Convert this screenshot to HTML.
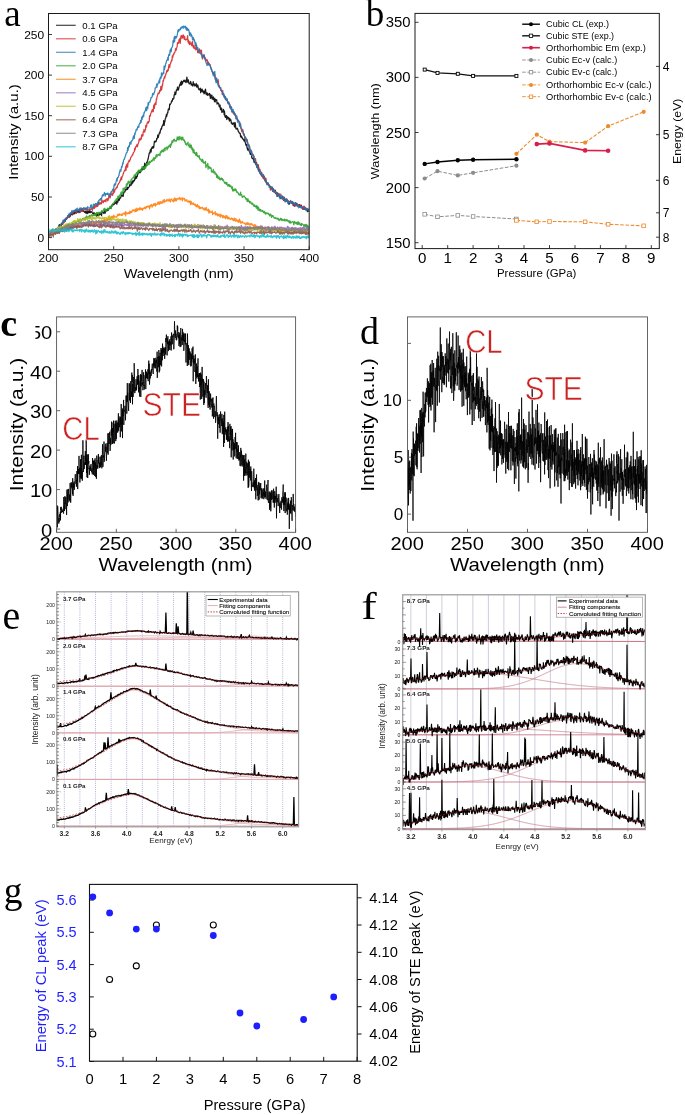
<!DOCTYPE html>
<html><head><meta charset="utf-8"><style>
html,body{margin:0;padding:0;background:#fff;}
svg{display:block;}


</style></head><body>
<svg width="685" height="1115" viewBox="0 0 685 1115" font-family='"Liberation Sans", sans-serif'>
<rect x="0" y="0" width="685" height="1115" fill="#fff"/>
<g opacity="0.999">
<g id="pa">
<defs><clipPath id="ca"><rect x="48.5" y="13.5" width="260.7" height="236.2"/></clipPath></defs>
<g clip-path="url(#ca)" stroke-linejoin="round">
<path transform="scale(.1)" fill="none" stroke="#000000" stroke-width="12.5" stroke-opacity="0.9" d="M485 2338l4-23 3 17 4-6 4-3 4 5 3 4 4-18 4 1 4 18 3-37 4 10 4 14 3-15 4 10 4-5 4-8 3 16 4-17 4-9 4-2 3 12 4-13 4 18 4-16 3-9 4 11 4-15 3-20 4-12 4 12 4-5 3 11 4-2 4-2 4-22 3-6 4 8 4 1 3-17 4-5 4 0 4-16 3 7 4-4 4 6 4-15 3-15 4 7 4-3 3-8 4-2 4-6 4-4 3-5 4 9 4-14 4 14 3-21 4 10 4-14 4-8 3 5 4-8 4 14 3-9 4-16 4 15 4-17 3 17 4-6 4 1 4-11 3-6 4 13 4-9 3-18 4 17 4 3 4-12 3 5 4 3 4 9 4-24 3 12 4-5 4 10 3-22 4 6 4-2 4 10 3-4 4-4 4 0 4 7 3 4 4 3 4 4 4 3 3-12 4 6 4 17 3-16 4-11 4 13 4 15 3-15 4-8 4 6 4 7 3-21 4 1 4 19 3-8 4 5 4-2 4-5 3 7 4 7 4 8 4 3 3-6 4-10 4 9 3 4 4-1 4 3 4-3 3 16 4 9 4-14 4 7 3-24 4 15 4 1 3 10 4-17 4 7 4-18 3 1 4 13 4-13 4 27 3-20 4-20 4 3 4 3 3 0 4 11 4-3 3-17 4-16 4 34 4-28 3-3 4-5 4 14 4-5 3-8 4 7 4 0 3-6 4-10 4-7 4 1 3-4 4 4 4-3 4-20 3 8 4-3 4-13 3-5 4-4 4 5 4 1 3-6 4-2 4-14 4 7 3-7 4 4 4-17 4 29 3-27 4-7 4 14 3-37 4 18 4-5 4 4 3-24 4 1 4 3 4-13 3-10 4-10 4 4 3 7 4-9 4 12 4-21 3-19 4-3 4 1 4-3 3-24 4 8 4-11 3 0 4 6 4-27 4 23 3-5 4-12 4-1 4-7 3-4 4-20 4 5 4-8 3 15 4-12 4-24 3 19 4-29 4 18 4-18 3 7 4-15 4 7 4-12 3-25 4 17 4-31 3 22 4 2 4-18 4 0 3-29 4 5 4-9 4 1 3-25 4 13 4-3 3 10 4-5 4-17 4-14 3-6 4 17 4-21 4-1 3 9 4-22 4 26 4-33 3-28 4 34 4-16 3 16 4-19 4-24 4 11 3-22 4-9 4-13 4-20 3-16 4-21 4-7 3 6 4-31 4-6 4 25 3-33 4-8 4-9 4-2 3 15 4-19 4 13 3-30 4-34 4 8 4-10 3 8 4-2 4-7 4-23 3 3 4-10 4-30 4 26 3-12 4-18 4-13 3-8 4 7 4-29 4-4 3-15 4 8 4-25 4-9 3 2 4-15 4-5 3-34 4 48 4-31 4-7 3-27 4-6 4-13 4-25 3 20 4-21 4-18 3 2 4-31 4-9 4 3 3 5 4-55 4 6 4-8 3-4 4-7 4-19 4 3 3 0 4-26 4 1 3 3 4-6 4-37 4 0 3-27 4 27 4-4 4-24 3-21 4 4 4-5 3-27 4 30 4 0 4-13 3-13 4-16 4-15 4 4 3-21 4 29 4-44 3 35 4-32 4 26 4-22 3 1 4-10 4-7 4 11 3-5 4-7 4 21 3-9 4 13 4-23 4-31 3 23 4 25 4 0 4-22 3 23 4 18 4-6 4 3 3 1 4-22 4 11 3 25 4-11 4 11 4 3 3 7 4-44 4 32 4-10 3-1 4 20 4-10 3 2 4 8 4-25 4 29 3 10 4-9 4-14 4 14 3 24 4 8 4 3 3-1 4-12 4-4 4 46 3-29 4 17 4-23 4-1 3 26 4-2 4 9 4-16 3 30 4-4 4-4 3-25 4-14 4 36 4 20 3-16 4 15 4-16 4 24 3-8 4-2 4-5 3 11 4-16 4 19 4 30 3-34 4 20 4 9 4-26 3 38 4-11 4 14 3-24 4 27 4-5 4 26 3-35 4 38 4-23 4 1 3 2 4-3 4 45 4-17 3 9 4 1 4-3 3 19 4 18 4-3 4-16 3 43 4-11 4 20 4-21 3 43 4-12 4 3 3 3 4-24 4 16 4 38 3-36 4 48 4 13 4 0 3-18 4 0 4 40 3-30 4 14 4-8 4 18 3-12 4 9 4 26 4-29 3 20 4-2 4-2 4 33 3-7 4 14 4 5 3-11 4 4 4-8 4 4 3 22 4 15 4-46 4 18 3 34 4 15 4-1 3-3 4-5 4 8 4 12 3 14 4 0 4 12 4 1 3 7 4-2 4 35 3-13 4 5 4 16 4-6 3 17 4 1 4 2 4 6 3 11 4-13 4 18 4 6 3 9 4 18 4 10 3-13 4 22 4 24 4 12 3-20 4 18 4 0 4 13 3 6 4 5 4 20 3-7 4-4 4 11 4 35 3 3 4 7 4-5 4-5 3 13 4 31 4-13 3-1 4 22 4-19 4 36 3-13 4-6 4 47 4-3 3-2 4-22 4 61 4-18 3 9 4 14 4 11 3 3 4 3 4 17 4-25 3 35 4-1 4 8 4 3 3 1 4 15 4 0 3-14 4 13 4 20 4-7 3 23 4-4 4 23 4 3 3 3 4-16 4 15 3 2 4 9 4 3 4 4 3 0 4 10 4 15 4 3 3-17 4 2 4 13 3 25 4-28 4 16 4 8 3 3 4 8 4-18 4 5 3 31 4-5 4-1 4-6 3 40 4-29 4-4 3 23 4 0 4-10 4 11 3 20 4 1 4 1 4 6 3-12 4 7 4-3 3-4 4-8 4 17 4 22 3-29 4 17 4-10 4 18 3-5 4 6 4 1 3-10 4 21 4-6 4 2 3 7 4 20 4-23 4 32 3-11 4-8 4-7 4-3 3 2 4 4 4 10 3-13 4 15 4-11 4 33 3-11 4-2 4-4 4 24 3-29 4 0 4 4 3 13 4-17 4 21 4-12 3 10 4 1 4 3 4 1 3-9 4-1 4 1 3 7 4 4 4 4 4-10 3 22 4 4 4-5 4 18 3-11 4 0 4 11 4-3 3-10 4 11 4-1 3-7 4 17 4 7 4-9 3-2 4 22 4-21 4 10 3 3 4 5"/>
<path transform="scale(.1)" fill="none" stroke="#d62728" stroke-width="12.5" stroke-opacity="0.9" d="M485 2328l4-11 3 3 4-3 4 9 4-18 3 2 4 9 4 21 4-24 3-23 4 22 4 7 3-24 4 18 4-10 4-4 3 18 4-15 4-11 4 10 3-10 4 2 4-12 4-10 3 21 4-11 4-10 3 4 4-2 4-9 4-5 3 0 4-13 4-9 4-3 3-4 4-9 4 18 3-15 4-7 4-7 4 14 3-35 4 21 4-15 4-8 3-8 4 12 4-6 3-12 4-6 4-8 4 5 3 1 4 2 4-32 4 24 3-23 4 0 4-9 4-5 3-7 4 10 4-7 3 20 4-20 4 7 4-8 3-14 4 9 4-10 4 10 3-6 4 6 4 18 3-18 4-5 4-5 4 0 3 1 4-11 4 2 4 8 3-12 4 26 4-16 3-2 4-13 4 17 4 8 3-15 4-14 4 18 4-1 3 1 4-3 4-11 4-6 3 13 4 6 4-18 3 16 4 0 4 4 4 0 3-6 4 5 4-7 4 3 3-5 4 8 4-3 3-5 4 0 4-3 4-12 3 19 4 6 4-27 4 6 3-17 4 11 4 8 3-34 4 14 4 6 4 0 3-15 4 9 4-12 4-10 3 22 4-12 4-10 3-14 4 4 4 11 4-20 3 15 4-5 4-7 4 12 3-42 4 15 4 8 4 5 3 3 4-17 4-5 3 8 4-4 4-10 4 4 3 15 4-26 4 1 4-7 3 12 4 11 4-11 3-19 4-20 4-7 4 16 3 13 4-16 4-12 4-5 3-2 4-17 4 17 3 8 4-18 4-2 4-39 3 20 4 7 4-25 4-9 3 4 4-6 4-14 4-1 3 7 4-20 4-10 3-2 4-13 4-5 4 0 3-9 4-17 4 4 4-26 3-9 4 26 4-30 3-1 4-9 4-17 4-5 3-17 4-5 4-9 4 4 3-13 4-28 4 35 3-54 4 17 4-27 4 34 3-32 4-21 4 0 4-17 3 14 4-11 4-7 4-20 3-7 4-1 4-6 3-7 4-12 4 4 4-18 3-6 4-3 4-7 4-31 3 17 4-19 4-19 3 0 4 2 4-19 4 21 3-9 4-17 4-9 4-9 3-30 4-5 4 13 3-10 4 7 4-22 4 13 3-41 4 16 4-20 4 15 3-41 4 2 4-25 4 14 3 12 4-20 4-3 3-45 4 18 4-8 4-27 3-5 4-13 4 3 4 9 3-17 4 1 4-55 3-5 4 7 4-23 4-10 3-9 4-9 4-14 4 1 3 21 4-3 4-63 3-1 4 32 4-46 4 5 3-15 4 19 4-56 4 2 3-22 4-14 4-12 4-15 3 9 4-9 4 2 3-26 4 1 4 4 4-44 3-2 4 38 4-21 4-34 3 7 4-47 4 5 3-15 4-15 4-16 4 14 3-23 4-4 4-18 4-6 3-23 4 4 4 5 3-18 4 9 4-32 4-27 3 22 4 6 4-33 4-4 3-17 4-1 4-20 4 8 3-50 4 18 4-21 3-14 4 4 4-19 4 1 3-7 4-14 4-21 4 18 3-15 4-12 4-13 3-36 4 10 4-3 4-15 3-22 4 23 4-35 4 49 3-29 4-44 4-6 3 19 4 7 4-22 4 20 3-31 4 7 4 9 4 29 3-26 4 23 4 4 3 6 4-1 4-7 4-2 3 4 4-37 4 63 4-20 3 32 4-4 4 19 4-34 3 18 4 5 4 8 3-14 4 26 4-11 4-31 3 46 4 10 4 10 4-26 3 15 4 16 4 4 3-10 4 19 4-46 4 40 3 3 4 1 4 31 4-3 3-14 4-2 4 23 3-42 4 24 4-9 4 7 3 26 4-36 4 41 4 36 3 12 4-31 4-8 4 18 3-21 4 37 4-9 3 3 4 32 4-15 4 4 3-6 4 4 4 8 4 32 3-17 4 0 4 22 3-5 4 6 4 1 4 24 3 2 4 12 4 10 4 18 3 4 4 20 4-6 3-5 4 10 4 6 4 21 3-14 4 35 4-9 4 13 3 25 4 8 4-13 4 18 3 5 4-32 4 44 3 14 4-1 4 26 4 2 3-2 4 25 4-4 4 9 3 2 4 33 4-42 3 32 4-2 4 29 4 10 3-11 4 11 4-6 4 28 3 8 4-12 4 2 3 4 4 20 4 2 4 21 3-21 4 9 4 7 4 43 3-26 4 28 4-10 4 8 3-4 4 25 4 9 3 16 4 9 4-17 4 26 3-14 4 21 4 9 4-13 3 8 4 31 4-4 3 4 4-2 4 25 4 3 3 3 4-3 4 6 4 26 3-21 4 25 4 24 3 18 4-4 4 33 4-23 3 4 4 0 4 19 4 36 3-8 4-3 4 44 4-8 3-8 4 16 4 33 3-9 4 3 4-15 4 39 3 14 4-5 4 8 4 7 3-2 4 27 4 24 3-8 4 10 4-2 4 10 3 27 4-8 4 6 4 22 3-4 4 18 4 9 3 12 4-1 4-14 4 38 3 24 4-1 4 12 4-1 3 14 4-21 4 28 4-5 3 35 4 2 4-18 3 46 4-13 4 24 4-27 3 38 4-6 4 4 4 22 3-38 4 34 4-13 3 30 4 14 4-11 4 6 3-22 4 47 4 11 4-3 3-5 4 3 4 19 3 1 4-4 4-1 4 21 3-3 4 34 4-15 4-10 3 8 4 6 4-14 3 22 4 12 4-9 4 4 3 17 4-18 4-3 4 27 3 6 4-4 4-9 4 22 3 5 4 2 4-5 3 4 4 7 4-11 4-7 3 30 4-14 4 10 4-24 3 40 4-3 4-2 3 17 4-10 4-6 4 23 3-13 4-14 4 25 4 5 3 18 4-21 4 17 3-19 4-8 4 13 4 15 3-12 4 13 4 8 4-4 3-6 4 7 4-6 4-14 3 16 4 0 4 15 3-18 4 11 4-5 4 19 3-8 4 26 4-18 4 6 3 3 4-24 4 32 3-11 4 1 4-5 4-3 3 26 4-8 4 3 4-11 3-1 4 15 4 3 3 6 4-11 4-11 4 14 3 12 4 3 4 1 4 11 3-30 4 17 4 6 4-22 3 21 4-10 4 13 3-6 4 11 4 6 4-5 3-1 4-2 4 10 4 6 3 2 4-5"/>
<path transform="scale(.1)" fill="none" stroke="#1f77b4" stroke-width="12.5" stroke-opacity="0.9" d="M485 2330l4-2 3-8 4-2 4 0 4 10 3 4 4-15 4 0 4 3 3-6 4-7 4 8 3-6 4 10 4-8 4 4 3 4 4-17 4 26 4-26 3-10 4 1 4 13 4-19 3 14 4-12 4-24 3 6 4-12 4 15 4 4 3-16 4-21 4-2 4-5 3 6 4-5 4-3 3-31 4 20 4-19 4 12 3-18 4 17 4-9 4-13 3 4 4-6 4-7 3-1 4-24 4-1 4 19 3-33 4 11 4-5 4-3 3-14 4-3 4 7 4-9 3 9 4-32 4 22 3-2 4-3 4-10 4-7 3 9 4-5 4 2 4-16 3 9 4 17 4-31 3 9 4-15 4 22 4-2 3-4 4 10 4-11 4-16 3 4 4 28 4-35 3 8 4-5 4 7 4-2 3 1 4-1 4 10 4-20 3 7 4-2 4-1 4 6 3-3 4 11 4-15 3-1 4 4 4 14 4-29 3 13 4-2 4 2 4 2 3-3 4 5 4-6 3-26 4 6 4-9 4 22 3 10 4-8 4 10 4-37 3-4 4 8 4-4 3-3 4 3 4-11 4 14 3-8 4-5 4 12 4-9 3-18 4-2 4 22 3-37 4 1 4-9 4 3 3-12 4 13 4-16 4 4 3-10 4-22 4-8 4 11 3 0 4-15 4-1 3-18 4 9 4 27 4-25 3 3 4 5 4-8 4 2 3 7 4-15 4 14 3 2 4 4 4-10 4 22 3-26 4 10 4-23 4-7 3 2 4 1 4-15 3-9 4 10 4-20 4-5 3-29 4-12 4 17 4-11 3 0 4-25 4-14 4-20 3 23 4-32 4 1 3-4 4-15 4-6 4-24 3-6 4-24 4 7 4 4 3-21 4-25 4 9 3-19 4-26 4 10 4-35 3-6 4 0 4-17 4-6 3-12 4-11 4-14 3-8 4-2 4-6 4-44 3 28 4-19 4-24 4-6 3 12 4-41 4-5 4 16 3 3 4-30 4 1 3-7 4-2 4-10 4-18 3-17 4 28 4-4 4-49 3 14 4-27 4-2 3-22 4-4 4 7 4-10 3-14 4-14 4 9 4 3 3-28 4-7 4-7 3 3 4-29 4 22 4-24 3-31 4 22 4-27 4-9 3-8 4 19 4-43 4 3 3-13 4-6 4-5 3-23 4-11 4 35 4-22 3-17 4 19 4-57 4 22 3-26 4-3 4-3 3 3 4-17 4-14 4-17 3 5 4-5 4-10 4-29 3 6 4 5 4 0 3-20 4-1 4-14 4-33 3 1 4-2 4-10 4-27 3 32 4-30 4 1 4-14 3-7 4-3 4-21 3 31 4-44 4-14 4 16 3-8 4-51 4 33 4-16 3-3 4-11 4-8 3 13 4-76 4 37 4-27 3-3 4-32 4-1 4-17 3-12 4-6 4 1 3-25 4 27 4-49 4-9 3-5 4 14 4-52 4 20 3-32 4 28 4-37 4-4 3-9 4-12 4-49 3 19 4-16 4-38 4 47 3-56 4 21 4-6 4-12 3 14 4-13 4-14 3-17 4-27 4-12 4 19 3-17 4-5 4 6 4-12 3 10 4-23 4 8 3-8 4-7 4-2 4 11 3 8 4-22 4 7 4 1 3-5 4 13 4-16 3 5 4 26 4-16 4 27 3-23 4 7 4 15 4-10 3 3 4 15 4 43 4-26 3 5 4-4 4 36 3-21 4 13 4 6 4 34 3 1 4-25 4 12 4 22 3-12 4 21 4 18 3 25 4-34 4 26 4 1 3 39 4-12 4-6 4 15 3 15 4 12 4-14 3 16 4 6 4 5 4 11 3 0 4 10 4-4 4 26 3 1 4-12 4 8 4 1 3-23 4 24 4-1 3 16 4 14 4 15 4 21 3-1 4 19 4-13 4 12 3-4 4-9 4 12 3-13 4 6 4 5 4 10 3 16 4 19 4-6 4 19 3 7 4-1 4 30 3 16 4-20 4-13 4 18 3-30 4 83 4-3 4 32 3-12 4-32 4 13 4 45 3-2 4 16 4 15 3-8 4 9 4 2 4 5 3 1 4-3 4 27 4 9 3 4 4 1 4 14 3 19 4 0 4-10 4 30 3-18 4 37 4-21 4 7 3 18 4 4 4 10 3-19 4 35 4 11 4-8 3-3 4 17 4 13 4-9 3 30 4 7 4 13 4-25 3 51 4-5 4-14 3 5 4-11 4 24 4 19 3-18 4 11 4 6 4 7 3 14 4 32 4 2 3-32 4 31 4 31 4-17 3-4 4 14 4 12 4 38 3-22 4 11 4-14 3 30 4 9 4 14 4 5 3 4 4 19 4 13 4 14 3-8 4 15 4 9 4 23 3 1 4 22 4-25 3 6 4 18 4 15 4 3 3 31 4 8 4-21 4 35 3-2 4 16 4 29 3-12 4-8 4 4 4 52 3-2 4-2 4-9 4 6 3 5 4 8 4 32 3 16 4-13 4 22 4 6 3 13 4 9 4-5 4 30 3 16 4-3 4-1 4 12 3 6 4 27 4-6 3-14 4 19 4 12 4-13 3 23 4-8 4 12 4 4 3-1 4-6 4 16 3 28 4 8 4-2 4 5 3-3 4 12 4 5 4 25 3-11 4-1 4-6 3 14 4 12 4 18 4-8 3 4 4 6 4 1 4 0 3 5 4-15 4 36 3 10 4-16 4 20 4-6 3 2 4 11 4-12 4 6 3 8 4 0 4 1 4 15 3-5 4 8 4 5 3 8 4-19 4 17 4 19 3-16 4 32 4-25 4-2 3-4 4 14 4 11 3-24 4 11 4 0 4 17 3-6 4 25 4-19 4 27 3-8 4 6 4-22 3 4 4 17 4-16 4 13 3 22 4-13 4 14 4-15 3-1 4 12 4-13 4-1 3 20 4-12 4 7 3 4 4-18 4 25 4-2 3-2 4-4 4-1 4 18 3-20 4-3 4 0 3 18 4 8 4 7 4-12 3 6 4 1 4 7 4 17 3-17 4 1 4 4 3 11 4-9 4 1 4 11 3-15 4 9 4 0 4-1 3 8 4 0 4-3 4-1 3 1 4 12 4-7 3-2 4 26 4-8 4-2 3 2 4-15 4 7 4 14 3 1 4 13"/>
<path transform="scale(.1)" fill="none" stroke="#2ca02c" stroke-width="12.5" stroke-opacity="0.9" d="M485 2350l4-20 3 24 4-20 4 9 4-4 3-4 4-17 4 11 4-3 3-6 4 25 4-35 3 28 4-10 4-13 4 14 3 3 4-26 4 11 4-12 3 2 4 4 4-18 4 15 3-21 4 23 4-1 3-4 4-10 4 10 4-5 3-20 4 9 4-10 4 4 3 7 4 0 4-10 3-1 4 3 4-1 4-19 3 2 4 4 4 4 4-1 3-23 4 21 4-27 3 24 4 5 4-31 4 16 3-16 4 8 4 4 4-12 3 9 4-8 4 3 4 12 3-20 4 6 4-5 3-6 4 14 4-19 4-2 3-13 4 7 4 3 4 7 3-7 4 10 4-18 3 4 4 0 4-5 4-5 3 0 4 11 4-23 4 9 3-4 4 2 4 7 3-12 4 4 4 3 4-10 3-7 4-1 4 3 4 5 3-4 4-3 4 10 4-21 3 5 4 10 4-26 3-5 4 27 4-11 4 4 3-16 4 18 4-18 4-1 3-8 4 26 4-12 3-6 4-12 4 6 4-8 3 2 4 10 4-8 4 1 3-3 4 4 4-16 3 2 4 18 4-25 4 10 3 7 4-26 4 10 4-5 3 3 4-2 4 14 3-24 4 12 4-9 4 0 3 6 4 2 4-12 4-14 3 16 4-2 4-8 4 5 3-19 4 6 4-20 3 20 4-20 4 24 4-9 3 11 4-8 4-2 4-10 3-9 4 13 4 9 3-16 4-1 4 0 4-16 3-6 4 13 4-4 4 14 3-23 4-18 4 12 3-21 4-2 4-4 4-4 3 2 4-14 4-5 4 3 3-1 4-17 4-6 4 16 3-19 4 3 4-27 3 20 4-2 4-3 4-23 3 14 4-22 4 6 4-24 3-8 4-1 4 25 3-11 4 7 4-58 4 26 3-7 4-10 4-11 4 4 3-9 4-5 4 8 3-37 4-4 4 13 4-3 3-25 4-11 4 20 4-10 3 6 4-12 4 25 4-8 3-32 4 2 4-11 3-1 4-10 4-1 4 0 3-10 4 7 4-27 4 21 3-10 4-17 4 9 3-17 4-9 4 4 4 9 3-28 4 12 4 12 4-35 3 16 4-8 4-7 3 12 4-18 4 20 4-7 3-9 4-32 4 14 4-9 3 14 4-14 4 25 4-23 3-11 4 8 4 12 3-7 4-29 4-11 4 16 3-25 4 28 4-24 4 0 3-12 4 25 4-31 3 7 4 7 4-8 4-6 3-9 4 10 4-3 4-14 3-2 4-9 4-8 3 28 4-23 4-7 4-1 3 10 4-24 4-14 4 18 3 4 4-21 4 6 4-5 3-4 4 5 4-9 3 5 4 11 4-38 4 6 3 0 4-20 4 14 4-18 3 0 4 10 4 7 3-23 4-1 4-12 4 27 3-20 4-8 4-4 4-1 3-5 4 28 4-27 3 1 4 7 4-22 4 3 3 6 4-1 4-23 4 31 3-32 4 9 4-18 4-25 3 8 4 10 4-22 3-7 4 8 4-13 4 18 3-8 4 7 4 1 4-7 3 8 4-11 4-30 3 16 4 9 4-25 4 1 3 29 4-6 4-31 4 19 3-2 4 10 4 8 3-26 4 27 4-14 4-13 3 20 4 12 4-6 4 4 3 16 4-5 4 21 3 10 4-11 4 18 4-10 3-2 4 0 4-17 4 37 3-2 4 4 4 10 4-32 3 37 4-2 4 4 3-27 4 37 4 10 4-19 3 27 4 21 4-33 4 7 3 32 4 2 4-9 3 15 4 11 4 1 4-30 3 12 4 30 4-6 4 1 3 10 4 1 4-16 3 31 4 6 4-4 4 11 3 1 4 4 4 10 4-22 3 26 4-19 4 28 4 5 3-10 4 10 4-9 3 5 4-15 4 64 4-18 3-8 4 6 4 2 4-26 3 58 4-29 4 14 3 1 4-9 4 17 4-6 3-2 4 5 4 38 4-10 3 11 4-2 4-3 3-22 4 34 4 0 4 2 3-14 4 26 4-7 4-1 3 7 4 32 4-4 4-18 3 30 4-13 4 18 3-17 4 8 4 20 4-11 3 12 4-3 4-16 4 14 3 2 4-10 4 18 3-10 4 13 4 5 4 9 3 8 4 5 4 2 4-12 3 4 4 16 4-19 3 23 4 0 4 14 4-3 3-15 4 8 4 14 4-17 3 17 4 1 4-7 4 9 3 12 4 10 4-21 3 40 4-15 4 15 4-9 3-12 4 15 4 4 4-1 3-17 4 9 4 15 3 11 4 1 4-5 4 9 3 2 4 12 4 6 4 1 3-11 4 15 4-32 3 23 4 2 4 0 4 23 3 4 4-6 4-5 4 3 3-8 4 5 4 7 4 2 3 11 4-3 4 15 3 4 4-11 4 29 4-27 3-2 4 26 4-9 4 9 3 14 4-10 4 1 3-2 4 16 4-1 4 10 3-13 4 14 4-6 4 17 3-4 4 13 4 1 3-15 4 16 4 2 4-5 3 18 4-23 4 28 4 0 3-22 4 40 4-30 4 15 3 1 4 17 4-9 3 15 4-19 4 14 4 5 3 1 4-1 4-9 4 8 3 12 4 3 4 3 3-15 4 5 4 17 4 6 3-12 4 6 4-8 4 8 3-3 4-2 4 0 3 13 4-6 4 13 4 8 3-11 4-7 4 0 4 15 3 17 4-16 4 6 3-5 4-3 4 16 4 4 3-1 4 5 4 5 4-9 3 10 4-2 4 2 4 4 3-9 4 12 4-2 3-6 4 9 4 13 4-7 3 1 4-9 4-9 4 14 3 4 4-14 4 20 3-8 4-1 4 6 4 2 3-3 4-11 4 9 4 11 3-7 4-5 4-6 3 9 4 6 4-10 4 5 3 8 4 7 4-5 4-7 3 18 4 6 4-18 4 18 3-1 4-9 4 1 3-1 4-1 4-2 4 6 3 7 4 18 4-34 4 4 3 3 4 6 4 8 3-11 4 6 4 12 4-20 3 22 4-8 4-18 4 24 3-8 4-6 4 10 3 14 4-7 4-2 4 14 3-24 4 11 4-2 4 5 3 0 4 8 4 11 4-17 3 7 4-12 4 24 3-9 4-16 4 31 4 0 3-11 4-11 4 26 4-10 3 3 4 4"/>
<path transform="scale(.1)" fill="none" stroke="#ff7f0e" stroke-width="12.5" stroke-opacity="0.9" d="M485 2337l4-13 3 8 4 11 4-6 4-7 3 11 4-7 4-4 4 13 3-34 4 28 4-15 3 1 4 2 4-16 4 8 3 7 4-18 4 4 4 12 3 3 4-22 4 8 4 10 3-18 4 15 4-7 3 0 4 8 4-23 4-25 3 23 4 1 4 4 4-3 3-4 4-4 4 8 3-5 4 1 4-8 4-5 3-2 4 12 4-1 4-11 3 7 4-2 4-7 3 0 4-10 4 21 4-21 3 12 4-11 4 16 4-11 3 3 4-22 4 22 4-19 3 16 4 1 4-13 3-8 4 9 4-7 4 2 3 1 4-13 4 11 4-8 3 17 4-9 4-10 3 11 4 14 4-25 4 1 3 7 4-4 4 3 4-6 3-7 4 6 4 3 3 3 4-3 4 3 4-14 3 17 4-4 4-9 4 0 3 0 4 6 4-6 4 13 3 1 4-3 4-15 3-9 4 15 4 1 4-3 3-19 4 14 4 0 4 6 3-10 4-8 4 10 3 8 4-19 4 11 4-16 3 24 4-8 4-4 4 17 3-17 4-5 4 6 3-5 4 2 4 8 4-14 3 12 4-4 4 3 4-12 3 9 4 0 4 14 3-17 4-12 4 27 4-22 3 2 4 14 4-12 4-13 3 7 4-5 4-8 4 11 3-12 4 17 4-4 3-22 4-1 4 2 4 20 3-12 4 4 4-26 4 27 3-2 4-7 4-10 3 7 4-4 4-7 4 1 3 15 4-7 4-26 4 12 3-17 4 2 4 2 3 8 4-14 4 16 4-25 3 14 4-2 4 8 4 0 3-4 4 1 4 2 4 1 3-12 4-11 4-8 3 10 4 6 4-7 4-11 3 13 4-9 4 4 4 1 3 5 4-12 4 12 3 1 4-14 4-6 4-1 3-1 4 10 4-3 4-13 3-9 4 41 4-36 3 8 4 1 4 5 4-2 3 4 4-14 4 10 4-8 3 10 4-25 4 3 4 16 3-16 4 7 4 3 3-10 4-8 4-7 4 10 3-10 4 4 4-1 4-4 3 20 4-10 4-19 3 25 4-5 4-27 4 26 3-12 4-2 4 4 4-13 3 0 4 13 4-24 3 23 4-5 4-4 4-4 3 11 4-13 4 21 4-17 3 3 4-3 4-7 4-4 3 8 4-8 4 13 3-12 4-13 4 14 4-5 3-4 4-8 4 2 4 4 3 7 4-13 4 28 3-32 4 10 4-14 4 5 3-14 4 17 4 12 4-20 3 4 4-5 4-13 3 18 4-16 4-3 4-3 3 27 4-21 4 7 4-5 3 4 4-6 4-13 4-8 3 8 4 17 4-24 3 22 4-10 4-15 4 15 3-13 4 8 4 7 4-14 3 6 4-23 4-2 3 2 4 23 4-29 4 14 3-3 4 2 4 6 4-7 3-8 4-7 4 8 3 5 4 3 4-2 4-19 3 8 4 4 4 17 4 0 3-24 4 0 4-5 4 8 3 7 4 9 4-8 3 13 4-26 4-3 4-9 3 30 4-5 4-20 4 2 3 22 4-13 4-9 3 4 4-8 4 3 4 5 3-10 4 4 4-12 4 25 3-11 4 5 4-4 3-6 4-1 4 27 4-30 3 6 4 1 4 6 4-8 3 7 4 22 4-10 3-2 4 3 4 2 4-8 3 19 4-2 4 5 4-7 3-3 4 15 4-10 4 11 3-17 4 37 4-19 3-9 4 16 4 9 4 0 3-11 4 12 4-13 4 12 3 8 4 1 4-7 3-3 4 19 4 6 4 2 3-14 4-10 4 24 4-9 3 12 4-11 4 25 3-18 4 20 4-3 4-9 3 6 4 0 4-4 4 5 3-10 4 8 4 16 4-6 3 6 4 1 4-19 3 25 4-17 4-1 4-10 3 27 4-1 4 1 4 8 3-19 4 0 4 41 3-17 4-12 4 22 4-2 3-5 4 2 4 3 4 1 3-16 4 39 4-15 3 7 4-11 4 8 4-7 3 6 4-20 4 35 4-6 3-11 4 13 4-4 4 17 3-19 4 9 4-4 3 14 4-2 4 5 4-22 3 32 4-18 4 2 4-8 3 10 4 13 4-13 3 22 4-24 4 11 4 7 3-1 4-8 4 21 4-29 3 23 4-19 4 13 3-15 4 30 4-18 4 9 3 7 4-13 4 11 4 6 3-4 4 6 4-3 4-1 3-9 4 12 4 7 3-13 4 12 4 6 4 3 3-25 4 18 4-15 4 25 3 2 4-24 4 19 3 0 4 2 4 8 4-17 3 21 4-17 4 18 4-32 3 18 4-2 4 26 3-17 4 9 4 4 4 1 3-14 4 8 4 6 4 2 3 1 4 1 4-2 4 9 3-1 4 13 4-18 3-4 4 10 4-15 4 20 3-6 4-9 4 9 4 10 3-9 4 8 4-12 3 4 4 10 4-5 4-10 3 6 4 4 4 10 4 5 3 2 4-14 4 19 3-11 4-10 4 29 4-16 3 13 4-6 4-5 4 15 3 3 4-6 4-5 4 6 3 6 4-13 4 16 3 3 4-12 4-18 4 24 3-3 4 9 4-3 4 5 3-12 4 9 4 1 3-14 4 21 4-20 4 10 3 7 4-7 4 3 4-5 3 6 4-18 4 8 3 0 4 20 4-7 4-12 3 5 4 6 4 1 4-9 3 26 4-8 4 5 3-21 4 22 4-9 4-13 3 14 4-4 4 3 4-5 3-13 4 30 4-9 4-14 3-6 4 23 4-14 3 7 4 1 4 18 4 2 3-15 4 2 4 0 4 10 3-22 4 14 4-25 3 26 4-5 4-3 4 9 3 6 4-3 4-5 4 5 3-21 4 21 4-10 3-1 4 6 4 11 4-13 3-4 4 7 4 2 4 18 3-8 4-8 4-3 4-4 3 9 4-4 4 10 3-13 4-1 4 7 4-9 3 11 4 2 4-1 4-19 3 30 4-15 4 5 3-3 4 13 4-18 4 1 3 8 4 1 4-4 4-7 3 21 4-24 4 14 3-9 4 14 4-23 4 14 3-12 4 20 4 1 4-15 3 4 4 3 4-7 4 7 3 6 4 14 4 3 3-24 4 1 4 12 4-12 3 7 4-2 4-8 4 22 3-16 4-1"/>
<path transform="scale(.1)" fill="none" stroke="#9467bd" stroke-width="12.5" stroke-opacity="0.9" d="M485 2335l4-3 3 10 4-11 4-5 4-2 3 11 4-13 4 3 4-4 3 5 4-7 4 3 3-20 4 22 4-13 4 9 3 12 4-18 4-7 4 3 3-1 4 12 4-10 4 13 3-27 4 1 4 21 3-7 4 7 4-6 4-3 3 5 4-7 4-10 4 7 3-10 4 7 4-4 3 11 4-20 4 16 4-8 3 7 4-16 4 12 4-15 3-13 4 12 4 22 3-29 4 5 4-5 4 1 3-8 4 0 4 9 4 9 3-12 4-8 4 21 4-18 3 16 4-27 4-7 3 7 4 10 4-12 4-5 3-4 4 1 4 2 4 18 3-9 4-5 4 3 3 17 4-16 4 4 4-8 3-2 4 15 4-6 4-9 3 10 4-9 4 7 3-2 4-14 4 8 4 3 3-18 4 15 4-3 4 0 3-27 4 20 4-2 4 10 3-11 4-3 4 20 3-15 4-11 4-2 4 14 3-18 4 26 4-16 4 5 3 14 4-18 4 20 3-6 4-5 4 10 4-21 3 14 4 7 4-13 4 2 3 10 4-5 4-12 3 0 4 21 4-22 4 0 3-2 4 15 4 2 4-6 3 5 4-3 4 3 3-3 4 2 4-5 4-1 3 4 4 2 4-19 4 6 3 4 4 12 4-13 4 7 3-7 4 3 4-20 3 22 4 9 4-18 4-1 3-1 4 34 4-14 4-1 3 7 4-16 4-4 3-4 4 2 4 7 4-13 3 11 4 27 4-21 4 3 3-9 4 7 4-1 3-15 4 19 4 5 4-14 3-3 4 6 4-1 4 6 3 6 4-5 4 3 4-20 3 13 4-14 4 13 3 7 4-9 4 0 4-10 3 29 4-14 4-7 4 10 3-7 4 3 4-15 3 2 4 29 4-4 4-7 3-6 4 1 4 3 4-10 3-2 4 7 4 3 3-2 4 7 4-14 4 0 3 15 4-21 4 14 4-8 3 7 4 2 4-8 4 15 3-6 4 8 4-14 3 6 4 1 4 2 4-10 3 3 4 4 4 2 4-19 3 2 4 23 4-20 3 6 4 2 4-1 4 16 3-34 4 4 4 18 4 0 3-1 4 7 4-10 3 5 4 9 4-5 4 2 3-1 4-2 4-8 4 9 3 11 4-27 4 18 4-18 3 11 4-3 4 12 3-8 4 4 4-2 4-5 3 8 4-11 4 20 4-3 3-13 4-1 4-5 3-4 4 10 4-3 4 5 3 1 4 2 4-2 4 6 3-4 4-8 4 3 3-6 4 14 4-1 4-7 3 12 4 0 4-13 4 8 3-10 4 7 4 4 4 5 3-19 4 11 4 7 3 5 4-2 4-7 4-14 3 19 4-11 4 1 4 31 3-18 4-18 4 25 3-28 4 10 4 15 4-31 3 17 4-15 4 12 4 9 3-17 4-6 4 5 3 21 4-15 4 15 4-5 3-17 4 24 4-34 4 36 3-3 4-18 4 9 4-1 3 7 4-14 4 4 3 3 4 6 4 6 4-13 3 19 4-13 4-11 4-1 3 10 4 19 4-28 3-3 4 8 4-11 4 2 3 24 4-13 4 3 4-18 3 4 4 9 4-4 3-3 4 15 4-5 4-1 3 3 4 0 4-5 4 14 3-1 4-17 4-7 3-2 4 31 4-18 4 11 3-3 4-2 4-6 4-1 3 26 4-15 4-15 4 9 3 15 4-5 4-2 3-15 4-7 4 25 4-14 3 8 4-8 4 7 4 8 3-4 4 1 4-19 3 20 4-12 4 13 4-1 3-8 4 7 4-22 4 6 3 21 4-14 4-8 3 23 4-6 4-17 4 21 3-13 4 6 4-2 4 11 3-8 4 3 4-19 4 10 3 5 4 1 4-6 3 20 4-5 4 0 4-1 3 7 4-18 4 8 4-15 3 13 4 2 4-7 3 0 4 7 4-8 4-5 3 15 4-15 4 13 4-9 3 8 4 3 4-6 3 13 4 4 4-14 4 2 3 8 4-28 4 15 4 10 3-10 4-1 4 9 4-1 3 14 4-18 4-15 3 7 4 1 4 14 4 4 3-16 4 5 4 4 4 1 3-11 4 3 4 10 3-3 4 13 4-4 4-15 3 9 4 4 4-10 4-9 3 19 4-5 4 0 3-24 4 13 4 6 4 15 3-19 4 2 4 7 4 5 3-3 4 11 4-11 4 0 3 4 4-5 4 11 3-23 4 11 4 9 4-17 3 2 4 9 4 8 4-11 3-5 4-1 4-2 3 0 4 20 4-13 4 17 3-24 4 5 4-5 4 8 3 0 4 5 4 19 3-22 4-24 4 12 4 13 3-5 4-1 4 9 4-5 3-3 4 7 4-8 4-6 3 3 4 5 4 4 3-8 4 11 4 1 4-16 3 14 4 9 4-19 4 1 3-4 4 11 4-11 3 11 4 8 4-7 4-4 3 12 4-8 4-3 4 5 3-4 4 1 4 7 3-10 4-2 4 22 4-11 3-13 4 3 4 21 4-19 3-9 4 4 4 1 4 7 3-1 4 10 4-9 3-20 4 20 4 8 4-13 3 22 4-36 4 14 4 7 3 1 4 5 4-9 3 1 4 13 4-21 4 11 3 7 4-18 4 2 4 11 3 1 4-15 4 13 3-5 4-10 4 22 4 3 3-6 4-2 4-5 4-8 3 12 4-18 4 12 3 19 4-16 4-7 4-3 3 15 4-5 4-20 4 18 3 9 4 6 4-10 4-6 3 12 4-21 4 18 3 10 4-22 4 6 4 2 3-13 4 16 4-11 4 11 3-19 4 14 4 0 3-5 4 6 4-4 4 6 3-8 4 5 4 5 4-9 3 1 4 13 4-7 3 12 4-15 4-6 4-13 3 18 4-7 4-3 4 6 3 22 4-12 4-6 4 0 3 2 4 8 4 9 3-19 4-7 4 14 4-9 3 10 4-4 4 4 4-12 3 15 4-9 4-6 3 8 4 10 4-14 4 5 3 10 4-10 4 1 4-7 3 9 4-5 4-4 3 21 4-24 4 8 4 9 3-10 4-7 4 14 4-1 3-16 4-2 4-3 4 16 3 9 4 0 4-5 3 5 4-12 4-7 4 20 3-21 4 20 4-2 4 6 3-18 4 7"/>
<path transform="scale(.1)" fill="none" stroke="#bcbd22" stroke-width="12.5" stroke-opacity="0.9" d="M485 2325l4 23 3-20 4-9 4 24 4-40 3 12 4-8 4 10 4-12 3-5 4-12 4 28 3-28 4 25 4-12 4 3 3-3 4 13 4-16 4 6 3-10 4-5 4 0 4-1 3-14 4 7 4-3 3-8 4 10 4-3 4-7 3 7 4-15 4 15 4-6 3-2 4 0 4-4 3 2 4 15 4-32 4 12 3-12 4 14 4-16 4 15 3-25 4 12 4 1 3 19 4-7 4-16 4-1 3-1 4-3 4-14 4 10 3-2 4 2 4 1 4-14 3 5 4-2 4-7 3 0 4-8 4-1 4 16 3-5 4-17 4 11 4-10 3 12 4 13 4-3 3-14 4-3 4-25 4 13 3 0 4-3 4 22 4-15 3 0 4-19 4 23 3 6 4-14 4 1 4-3 3-2 4 0 4 6 4-2 3-25 4 25 4-10 4 12 3 6 4-24 4 5 3-10 4 1 4 7 4 8 3-24 4 16 4-19 4 13 3-3 4 3 4 1 3 5 4-23 4 29 4 5 3-16 4 8 4-15 4 10 3-12 4 9 4 8 3-4 4-10 4 12 4 1 3-6 4-4 4-8 4 6 3-4 4 9 4-18 3-3 4 25 4-8 4 3 3-4 4 5 4 4 4 5 3-6 4-5 4-9 4 5 3 9 4 2 4 8 3-19 4 5 4-4 4-1 3 2 4 6 4 2 4 6 3-3 4-9 4-16 3 24 4-5 4-26 4 27 3 4 4-2 4 2 4 15 3-24 4 24 4-11 3-1 4-7 4 6 4 3 3 4 4-9 4 6 4 4 3 6 4-4 4-8 4 16 3-14 4 1 4-9 3 17 4 3 4-7 4 3 3 20 4-32 4 9 4 1 3 9 4-10 4 7 3-16 4 8 4-5 4 23 3-2 4-3 4 2 4-19 3 12 4 13 4-7 3-17 4 19 4-7 4 21 3-10 4-3 4 2 4-2 3-2 4-7 4 26 4-15 3-5 4 5 4-8 3 12 4 3 4 4 4-14 3 19 4-7 4-2 4-6 3 9 4 6 4-13 3 16 4-3 4 11 4-18 3 0 4 17 4-12 4-7 3 11 4 10 4-13 3-6 4 22 4-23 4 8 3-8 4 17 4-16 4 6 3-4 4 7 4-8 4 11 3 2 4 6 4 5 3-13 4 4 4-2 4 2 3-5 4 3 4 6 4-11 3-11 4 26 4-4 3-8 4 12 4-15 4 15 3 5 4-2 4-16 4 26 3-18 4 20 4-24 3 3 4-2 4-13 4 19 3-10 4 5 4-4 4 16 3-16 4 12 4-15 4 5 3 7 4-4 4 1 3 2 4-20 4 30 4 5 3-1 4-9 4-1 4-6 3-3 4 7 4 1 3 9 4-16 4-3 4 13 3-7 4 12 4-5 4-1 3-6 4 20 4-13 3-7 4 5 4-2 4 27 3-14 4-3 4 3 4 14 3-29 4 7 4 19 4-12 3-4 4-8 4 3 3 15 4-3 4-7 4-7 3 13 4 2 4-10 4 4 3-11 4 8 4-4 3 26 4-5 4 1 4-7 3-8 4 5 4-6 4 11 3-15 4 2 4 22 3-6 4-3 4-12 4 0 3-9 4 29 4-15 4 3 3 2 4-1 4 17 3-20 4 6 4 7 4-22 3 18 4-8 4 8 4 8 3-9 4-7 4 12 4-13 3-11 4 5 4 13 3 4 4-14 4 20 4-3 3-24 4 12 4-1 4 7 3-27 4-3 4 29 3-9 4 10 4-6 4-8 3 1 4 13 4-5 4-21 3 16 4-4 4 8 3 6 4 9 4-1 4 6 3-5 4-2 4-13 4 21 3-18 4 21 4-40 4 28 3-6 4-14 4 17 3-3 4 0 4-3 4 9 3-19 4 5 4 9 4-9 3 11 4 4 4-3 3-5 4 18 4-11 4-6 3 13 4-12 4 13 4-12 3 3 4-4 4 10 3 11 4 6 4-55 4 45 3-5 4 7 4-26 4 6 3-1 4 17 4-18 4 15 3-17 4 12 4 19 3-19 4 7 4-28 4 33 3-9 4 0 4 5 4-1 3-6 4-3 4 7 3-1 4-2 4 8 4-6 3-2 4-9 4 3 4 2 3-3 4 15 4-17 3 13 4-1 4 2 4-9 3 11 4-10 4 8 4 2 3-8 4 11 4-18 4 17 3-2 4-14 4 23 3-20 4 7 4 0 4 0 3 9 4-22 4 10 4-1 3-1 4-1 4 6 3 11 4 3 4 1 4-8 3-12 4 20 4-8 4-8 3 8 4-1 4 8 3-11 4 7 4 1 4-2 3-7 4-5 4 19 4-14 3 13 4 7 4-10 4-6 3 1 4-4 4 21 3-29 4 5 4 2 4 19 3-17 4 8 4 0 4-4 3 14 4-23 4 1 3 2 4-5 4 26 4-11 3 0 4 8 4-18 4-14 3 31 4-14 4 4 3 0 4 0 4-5 4 12 3-2 4-17 4 14 4 0 3 15 4-19 4-1 4 3 3-11 4 31 4-25 3 22 4-5 4 8 4-23 3 8 4 3 4-4 4 18 3-12 4-7 4 7 3-5 4 13 4-14 4 4 3-4 4-12 4 13 4 6 3-8 4 12 4-23 3 14 4 0 4-4 4 15 3-10 4 2 4-20 4 6 3-3 4 15 4-1 3-7 4 15 4 2 4-21 3 9 4 0 4 19 4-11 3 1 4 2 4-9 4 11 3 2 4-26 4 12 3 13 4-26 4 13 4 2 3 26 4-36 4 11 4-9 3-4 4 26 4-27 3 9 4 6 4 21 4-36 3 14 4-3 4 16 4-15 3 0 4-8 4 21 3 11 4-13 4 3 4-11 3 4 4-3 4-9 4-3 3 14 4 14 4-13 4 1 3-1 4 1 4-1 3 19 4-23 4 0 4 2 3 4 4-9 4 22 4-13 3-5 4 8 4-3 3-9 4 10 4 7 4-4 3-7 4 12 4-8 4 3 3-4 4-5 4 0 3 6 4-2 4-4 4 13 3-8 4 11 4-19 4 9 3 12 4-7 4-10 4 4 3 16 4-28 4 13 3-1 4 5 4 5 4 6 3-14 4 1 4 3 4-9 3 4 4 11"/>
<path transform="scale(.1)" fill="none" stroke="#8c564b" stroke-width="12.5" stroke-opacity="0.9" d="M485 2362l4-13 3 19 4-29 4 20 4-27 3 16 4 16 4-19 4 2 3 3 4-6 4-1 3 26 4-34 4 7 4-4 3-7 4 4 4 9 4-18 3 8 4-6 4 6 4-6 3 5 4-22 4 20 3-18 4 22 4-19 4 3 3-12 4 5 4-18 4-7 3 28 4-12 4 13 3-1 4-9 4-9 4 1 3 5 4-12 4 18 4-3 3-8 4 13 4-27 3 11 4 0 4-7 4 13 3-11 4 12 4-14 4-4 3-13 4 12 4-13 4 11 3 12 4-21 4 5 3 4 4-14 4 16 4-7 3-10 4-2 4 12 4-9 3 1 4-5 4 7 3 16 4-16 4-16 4 19 3-6 4-9 4 9 4 7 3-10 4 1 4 5 3-6 4 10 4 1 4-4 3-9 4-2 4 5 4-15 3 4 4 4 4-10 4-3 3 6 4 10 4-12 3-4 4 7 4 4 4-4 3 0 4 18 4-29 4 13 3-16 4 16 4 8 3-14 4 7 4-7 4 11 3 1 4 2 4 0 4-9 3 14 4-12 4-8 3 18 4-6 4 5 4-3 3-5 4-4 4-2 4 14 3-11 4 11 4 5 3-2 4 9 4-17 4 16 3-17 4-21 4 31 4 10 3-21 4 12 4-8 4 0 3-2 4-18 4 17 3 1 4 3 4 6 4-1 3 4 4-16 4 8 4-6 3 3 4-16 4 20 3-6 4 11 4-15 4 12 3-2 4 12 4-16 4-9 3 3 4 21 4-17 3 14 4 9 4-3 4-22 3 14 4 8 4-13 4 1 3 5 4-6 4 7 4-13 3 4 4 8 4-3 3-5 4 9 4-5 4 6 3 2 4 14 4-5 4-2 3-9 4-21 4 30 3-3 4 7 4-7 4-1 3-8 4 18 4-16 4 3 3 5 4 8 4-1 3-7 4-6 4 6 4 6 3-9 4 12 4-16 4-18 3 30 4-13 4 17 4-9 3-3 4-6 4 10 3-11 4 23 4-9 4-2 3 0 4 2 4-17 4 20 3-12 4 5 4-14 3 20 4-8 4 2 4 32 3-30 4-6 4-4 4 23 3-8 4-11 4 20 3-3 4-11 4-1 4-5 3 2 4 8 4 11 4-4 3-5 4-3 4 3 4-6 3 13 4-2 4 8 3-29 4 19 4-9 4-3 3 8 4 5 4 3 4-2 3 13 4-10 4-11 3 4 4-4 4 0 4 1 3 5 4 0 4-6 4 11 3 9 4-19 4 7 3-8 4 14 4 9 4-12 3 4 4 3 4-21 4 11 3 12 4 4 4-12 4-6 3 3 4-8 4 8 3-1 4 20 4-27 4 16 3-13 4 22 4-6 4-17 3 21 4-12 4 5 3-18 4 11 4-7 4 11 3 15 4-32 4 23 4-6 3 1 4 14 4-20 3 10 4 12 4-2 4 7 3-13 4-5 4 7 4-7 3 2 4-7 4 5 4 2 3 5 4 4 4-3 3-10 4 7 4-16 4 6 3 18 4-15 4-6 4 16 3-16 4 17 4-20 3 9 4 7 4 12 4-13 3 6 4-9 4 10 4-11 3 8 4-9 4-2 3 6 4-3 4-5 4 18 3-13 4 3 4-11 4 15 3-10 4 23 4-25 3 7 4 1 4-5 4 19 3-9 4-2 4 3 4 2 3-12 4 8 4 2 4-2 3-11 4-4 4 6 3 5 4 16 4-6 4 3 3 0 4-18 4 15 4-16 3 11 4 2 4 0 3 11 4-9 4-10 4 1 3 5 4-4 4 4 4-2 3-17 4 20 4 16 3 3 4-12 4-7 4-7 3 9 4-2 4-3 4 13 3-8 4-3 4 7 4 3 3-11 4-5 4 9 3 21 4-13 4-3 4-7 3 7 4 0 4-12 4-2 3 10 4 10 4 1 3-15 4 12 4-6 4 1 3-2 4-2 4 12 4-3 3-7 4 1 4 12 3-27 4 28 4-21 4 23 3-22 4 23 4-22 4 6 3-5 4 13 4-8 4 0 3 1 4 6 4-16 3 27 4-3 4 0 4-24 3 19 4-1 4 0 4-4 3 0 4 2 4 9 3-17 4 4 4-13 4 10 3 4 4 11 4-13 4-4 3-9 4 11 4-4 3 2 4-8 4 4 4 9 3 13 4-26 4 13 4 7 3 6 4 2 4-17 4 4 3-4 4-8 4 16 3-8 4 7 4 3 4 12 3-12 4-16 4 13 4-6 3 1 4-16 4 5 3 18 4-2 4-13 4 7 3 1 4-9 4 5 4 4 3-24 4 22 4 15 3-14 4 0 4-12 4 12 3 8 4-9 4 14 4-7 3-6 4 10 4 10 4-8 3-2 4-12 4 9 3-3 4 7 4-8 4 6 3-10 4 3 4-11 4 8 3 7 4 5 4-9 3-4 4-7 4 18 4 6 3 5 4-7 4-7 4 1 3 0 4-2 4-3 3 17 4-15 4 2 4 0 3 3 4 12 4-20 4 8 3-3 4-3 4 2 4-3 3 0 4 11 4 2 3-16 4 13 4-25 4 28 3-11 4 2 4-3 4 10 3-10 4-14 4 21 3 14 4-24 4 2 4-2 3 13 4-11 4-3 4 11 3-4 4-4 4-2 3 8 4-4 4-14 4-1 3 26 4-27 4 21 4-12 3 20 4-9 4 4 3-12 4 5 4-2 4 0 3 2 4-6 4 7 4 1 3 5 4 2 4-3 4-7 3-6 4 10 4-18 3 7 4 10 4-3 4 3 3 15 4-22 4 5 4 16 3-21 4 12 4-3 3 13 4-14 4-4 4 7 3-3 4 15 4-20 4 5 3 0 4-6 4-3 3 9 4-8 4-7 4 24 3-10 4 15 4-17 4-8 3 12 4 9 4-5 4-8 3 16 4-1 4-15 3 15 4-12 4 9 4 5 3-20 4-3 4 16 4-26 3 18 4-3 4 3 3 11 4-18 4 7 4-3 3 3 4 5 4-23 4 16 3 5 4-7 4 16 3-14 4-19 4 28 4-10 3 15 4-11 4-9 4 18 3 0 4-18 4 8 4-4 3 1 4 16 4 3 3 2 4-20 4 16 4 3 3-10 4-4 4-3 4 17 3-26 4 19"/>
<path transform="scale(.1)" fill="none" stroke="#7f7f7f" stroke-width="12.5" stroke-opacity="0.9" d="M485 2334l4 0 3 7 4-12 4-1 4-8 3-8 4-3 4 8 4 1 3 7 4 9 4-18 3 7 4-4 4 0 4-9 3 6 4-25 4 11 4 11 3-9 4-10 4 20 4-13 3 5 4-7 4 4 3-7 4-4 4-3 4 17 3-21 4 5 4 4 4-6 3-16 4 14 4 5 3-16 4 7 4-9 4 2 3-11 4 16 4-4 4-14 3-7 4 12 4-10 3 5 4 3 4 13 4-35 3 7 4 29 4-28 4 10 3 3 4-6 4-12 4 5 3 0 4-2 4 1 3-9 4 21 4-8 4-11 3 8 4-13 4 4 4-7 3 4 4-7 4 5 3-7 4 9 4 12 4-16 3 0 4 4 4-14 4 4 3-9 4 16 4 0 3-8 4-9 4 19 4-11 3 4 4 2 4-11 4 0 3 1 4 12 4-6 4 15 3-20 4 16 4-10 3-10 4 9 4-3 4 6 3-29 4 34 4-6 4-5 3-24 4 27 4-5 3-7 4 25 4-27 4 4 3-10 4-1 4 9 4-6 3 16 4 4 4-8 3-4 4 4 4-6 4-2 3-10 4 17 4 3 4-8 3 2 4-3 4-10 3 22 4-13 4-6 4 1 3 24 4-10 4-14 4 12 3-4 4 5 4-12 4 9 3 5 4-4 4-11 3 9 4 18 4 4 4-24 3 21 4-16 4 8 4-8 3 8 4 15 4-33 3 13 4 1 4-15 4 8 3-4 4 12 4-3 4-2 3 9 4-13 4 4 3 7 4 1 4-11 4 9 3-5 4 1 4 4 4 27 3-31 4-4 4 12 4 1 3-14 4 19 4-22 3 6 4-7 4 13 4-1 3-2 4 16 4-6 4-17 3 16 4 2 4-11 3-9 4 13 4 2 4-2 3-4 4 17 4-16 4-1 3-5 4 0 4 3 3-11 4 17 4 2 4-15 3 13 4 6 4 0 4-4 3 12 4-20 4 6 4-8 3 20 4-5 4 2 3-10 4 2 4-3 4 1 3 16 4-12 4 2 4 1 3-4 4 21 4-10 3-3 4 5 4 3 4-18 3 1 4-7 4 23 4 12 3-25 4 9 4 7 3-14 4 6 4 14 4-15 3 15 4-18 4 16 4 2 3-19 4-1 4 10 4 8 3-15 4 5 4-1 3 6 4 10 4-9 4-16 3 18 4-4 4 0 4-9 3 6 4 7 4-20 3 15 4-1 4 9 4 7 3-16 4 7 4-5 4 22 3-34 4 15 4-7 3 17 4-10 4 0 4-8 3 3 4 24 4-19 4 1 3 5 4-5 4-3 4-3 3 19 4-3 4-7 3-5 4 14 4-8 4 11 3-11 4 2 4-6 4-7 3 18 4-10 4 17 3-15 4-13 4 29 4-9 3 23 4-31 4-14 4 26 3-10 4-9 4 18 3-8 4 9 4-3 4-4 3-7 4 6 4 2 4 1 3-10 4 5 4 1 4 19 3-14 4 8 4-24 3 9 4-6 4 19 4 7 3-7 4-12 4 12 4-12 3-5 4 14 4-11 3 27 4-8 4-5 4-2 3 9 4-9 4-11 4 1 3 4 4 12 4-20 3 7 4 14 4-17 4 12 3-8 4 2 4-2 4-8 3-8 4 18 4 2 3 2 4-4 4-1 4 16 3-12 4-18 4 13 4-3 3 10 4-19 4 14 4 8 3 4 4-11 4-11 3 21 4 3 4 12 4-26 3 16 4-3 4 3 4-2 3-14 4 14 4-8 3 8 4-3 4-9 4 1 3 15 4-10 4 9 4-14 3 11 4 3 4-15 3 12 4-5 4-5 4 11 3-2 4-8 4-14 4 15 3-1 4 6 4 1 4-13 3 19 4 0 4-19 3 20 4 4 4-15 4-4 3-6 4-4 4 38 4-17 3 1 4-6 4 11 3-8 4-2 4 1 4 9 3-9 4 10 4 0 4-5 3-9 4 24 4-16 3-13 4 11 4 6 4-6 3-12 4 16 4 4 4-12 3 9 4 4 4-13 4 14 3-4 4-14 4 10 3-9 4 26 4-2 4-6 3-6 4 15 4-18 4 7 3 0 4-5 4 3 3 8 4-8 4 8 4-21 3 15 4-2 4 4 4-6 3-2 4 3 4 8 3-18 4 10 4 16 4 3 3-9 4 0 4 4 4-6 3-11 4-7 4 8 4 0 3-7 4-9 4 9 3 5 4 6 4 8 4-13 3-6 4 7 4 8 4-10 3 6 4 5 4 11 3-21 4 10 4-15 4 15 3-6 4 6 4-20 4 3 3 12 4-12 4 23 3-16 4 10 4-3 4 3 3-9 4 20 4-11 4-16 3 31 4-17 4 10 4 11 3-26 4 7 4-15 3 28 4-20 4-10 4 30 3-22 4 0 4 4 4-10 3 6 4 12 4 1 3-6 4-15 4 15 4-8 3 9 4-7 4 1 4-6 3-5 4 20 4 6 3-9 4-1 4-2 4-7 3 13 4-4 4 0 4-9 3 13 4-14 4-6 4 19 3-14 4 7 4 5 3-17 4 6 4 14 4-8 3 11 4 6 4-21 4 10 3-15 4 13 4 0 3 3 4-2 4 8 4-5 3 14 4 0 4-3 4-7 3-4 4 1 4-12 3-11 4 42 4-33 4 5 3 13 4-6 4 18 4-15 3-15 4 24 4-5 3-6 4-5 4 6 4 5 3-10 4 11 4-26 4 10 3 10 4 8 4-2 4 2 3-4 4-6 4 15 3-13 4 2 4 8 4-19 3 7 4 2 4 7 4 2 3-7 4 13 4-15 3 13 4-9 4-6 4 8 3 3 4 1 4-7 4 11 3-9 4-9 4 25 3-10 4-8 4 11 4 0 3 2 4-18 4 26 4-17 3 1 4-2 4 7 4-7 3 5 4 3 4-29 3 13 4 18 4-3 4-9 3-9 4 14 4-7 4 4 3-8 4 15 4 2 3-9 4 0 4 2 4-10 3 5 4 5 4 11 4-16 3-1 4 13 4-5 3 9 4-11 4 3 4 14 3-15 4 3 4 0 4-12 3 5 4-3 4 10 4-14 3 18 4-13 4 19 3-14 4 11 4 3 4-17 3 4 4-3 4 4 4-2 3 3 4 1"/>
<path transform="scale(.1)" fill="none" stroke="#17becf" stroke-width="12.5" stroke-opacity="0.9" d="M485 2310l4-19 3 28 4 3 4-5 4-2 3-11 4-5 4-1 4 11 3-8 4-10 4 10 3-6 4 18 4-16 4 1 3 16 4-11 4-5 4 12 3-15 4-1 4 6 4 3 3 0 4-5 4-6 3 21 4-14 4 0 4 9 3 3 4-9 4 12 4-16 3 4 4 7 4-10 3 8 4-2 4-16 4 17 3 15 4-24 4 11 4-1 3-21 4 14 4-7 3 19 4-3 4-2 4-13 3 12 4 11 4-23 4 11 3-5 4-5 4-12 4 19 3-14 4 25 4-13 3-1 4 22 4-11 4-2 3-10 4 9 4-1 4 2 3-9 4 4 4 1 3 1 4-8 4 12 4-5 3-1 4-2 4-6 4 6 3 15 4-20 4-2 3 0 4 3 4 21 4-12 3-8 4 0 4 8 4-1 3 10 4-12 4 21 4-16 3-10 4 19 4-21 3-5 4 12 4 9 4 0 3 6 4-16 4 16 4-11 3 11 4-14 4 17 3-11 4 5 4-14 4 12 3-2 4-10 4 19 4 1 3-10 4 9 4-23 3 13 4 0 4 5 4 23 3-36 4 11 4 17 4-8 3-9 4-10 4 8 3 0 4 0 4 11 4-2 3-6 4 12 4-11 4-5 3 25 4-17 4 0 4-3 3-13 4 26 4-27 3 10 4-14 4 24 4-6 3 4 4-5 4 12 4-1 3-5 4-6 4 16 3-7 4 2 4-7 4-5 3 20 4-4 4-5 4 6 3-20 4-2 4 8 3 2 4 14 4-1 4-11 3-9 4 16 4-6 4-10 3-1 4 23 4-10 4-4 3 20 4-9 4-6 3 6 4-8 4 8 4 11 3-3 4 7 4-6 4-16 3 3 4-2 4-6 3 21 4-6 4-5 4-12 3 12 4 3 4-3 4 10 3 9 4-20 4 8 3-7 4 14 4-3 4-13 3 5 4-6 4 13 4-6 3-5 4-1 4 8 4-3 3 3 4 1 4 0 3-5 4 16 4-11 4 8 3-8 4 2 4-3 4 4 3-1 4 11 4-23 3 23 4 5 4-19 4-2 3 6 4 2 4 7 4-24 3 29 4-33 4 33 3-5 4-6 4 2 4-8 3 11 4-4 4 11 4-23 3 13 4 4 4-7 4-7 3 5 4 9 4-7 3-2 4 0 4 6 4-8 3 15 4-10 4 8 4-8 3 6 4-10 4 9 3-13 4 17 4-16 4 16 3 14 4-12 4-16 4 6 3-2 4 7 4-6 3 11 4-22 4 1 4 10 3 8 4 1 4-10 4 2 3 10 4-13 4-1 4 2 3 2 4 1 4 2 3 3 4 3 4-16 4 23 3-13 4-6 4-12 4 22 3-14 4 1 4 2 3-7 4 29 4-22 4 9 3-4 4 5 4 6 4 8 3-18 4 5 4 9 3-10 4 9 4-2 4-9 3-4 4 22 4-15 4-5 3 15 4-8 4-5 4-5 3 18 4 4 4-8 3-1 4-4 4 0 4 16 3-22 4 20 4-16 4-1 3 0 4 1 4 0 3 10 4 0 4-24 4 4 3 2 4 5 4 20 4-29 3 18 4-2 4-6 3 12 4-17 4 31 4-30 3 6 4 12 4-14 4-3 3 3 4-1 4 10 3-11 4 0 4-1 4 5 3 19 4-18 4 16 4-5 3-5 4-2 4 4 4-5 3-2 4 3 4 1 3-2 4-3 4 14 4 5 3-21 4 7 4 21 4-29 3 0 4 25 4-5 3-6 4 6 4-5 4-4 3-9 4 29 4-21 4-8 3 29 4-23 4 3 3 5 4-11 4-5 4 2 3-8 4 23 4 11 4-12 3-6 4-8 4 5 4 9 3-16 4 8 4 2 3 3 4-5 4-1 4 5 3 20 4-13 4-11 4-9 3 3 4 1 4-5 3 9 4-6 4 3 4 6 3 10 4 6 4-17 4 14 3-9 4-7 4 12 3-14 4 7 4 8 4-12 3-1 4 10 4-8 4 14 3-11 4-1 4 11 4-9 3-12 4 18 4 4 3 3 4-6 4 3 4 5 3-15 4-2 4 11 4-9 3-7 4 5 4 1 3-4 4 11 4-13 4-8 3 21 4 11 4-10 4 2 3-10 4-8 4 5 3-9 4 10 4 3 4 17 3-19 4 9 4-1 4-2 3-16 4 6 4 7 4 12 3-8 4-1 4-10 3 3 4 0 4 12 4-15 3-15 4 34 4-3 4-9 3-7 4 6 4 1 3-11 4 21 4 8 4-4 3-19 4-1 4 11 4 9 3-5 4-10 4-5 3 13 4 2 4 1 4-3 3-10 4 4 4-1 4 2 3-1 4 13 4-2 4-12 3-1 4-5 4 9 3 7 4-5 4 0 4-7 3 6 4-5 4-1 4 0 3 0 4 13 4-18 3-4 4 7 4-7 4 10 3 8 4-9 4 5 4 0 3-14 4 21 4-17 3 14 4 10 4-21 4 5 3 0 4-1 4-7 4 6 3 5 4-1 4-5 4 9 3-8 4 20 4-16 3 0 4-6 4 14 4-7 3-5 4-20 4 22 4-3 3 9 4-22 4 20 3 0 4-3 4 12 4-2 3-6 4 4 4-14 4 12 3-22 4 16 4 8 3-7 4-4 4 5 4-3 3 5 4 5 4-6 4-14 3 17 4-2 4 11 3-6 4-8 4 5 4-12 3 2 4 11 4-2 4-7 3 3 4 5 4 13 4-26 3 11 4-1 4 7 3-18 4 13 4-2 4 18 3-13 4-3 4-3 4-3 3 8 4-10 4 9 3 1 4-2 4 14 4 4 3-32 4 29 4-9 4-10 3 10 4-14 4 25 3-17 4-4 4-12 4 6 3 17 4-12 4 4 4 12 3-5 4-13 4 11 4 6 3-3 4 5 4 3 3-16 4 0 4-5 4 21 3-3 4-13 4 3 4 2 3 9 4-7 4 9 3-24 4 7 4 13 4-18 3 19 4-13 4 3 4 5 3-14 4 24 4-10 3 0 4 11 4-2 4-13 3-1 4 10 4-12 4 1 3-3 4 9 4-2 4-5 3 9 4 2 4 3 3-13 4-6 4 25 4-13 3-8 4-6 4 10 4 8 3-12 4-13"/>
</g>
<rect x="48.5" y="13.5" width="260.7" height="236.2" stroke="#1a1a1a" stroke-width="1.0" fill="none" />
<line x1="48.5" y1="237.6" x2="52" y2="237.6" stroke="#262626" stroke-width="0.9" />
<text x="44.2" y="241.7" font-size="11.4" text-anchor="end" textLength="6.7" lengthAdjust="spacingAndGlyphs">0</text>
<line x1="48.5" y1="197" x2="52" y2="197" stroke="#262626" stroke-width="0.9" />
<text x="44.2" y="201.1" font-size="11.4" text-anchor="end" textLength="13.3" lengthAdjust="spacingAndGlyphs">50</text>
<line x1="48.5" y1="156.3" x2="52" y2="156.3" stroke="#262626" stroke-width="0.9" />
<text x="44.2" y="160.4" font-size="11.4" text-anchor="end" textLength="20" lengthAdjust="spacingAndGlyphs">100</text>
<line x1="48.5" y1="115.7" x2="52" y2="115.7" stroke="#262626" stroke-width="0.9" />
<text x="44.2" y="119.8" font-size="11.4" text-anchor="end" textLength="20" lengthAdjust="spacingAndGlyphs">150</text>
<line x1="48.5" y1="75.1" x2="52" y2="75.1" stroke="#262626" stroke-width="0.9" />
<text x="44.2" y="79.2" font-size="11.4" text-anchor="end" textLength="20" lengthAdjust="spacingAndGlyphs">200</text>
<line x1="48.5" y1="34.5" x2="52" y2="34.5" stroke="#262626" stroke-width="0.9" />
<text x="44.2" y="38.6" font-size="11.4" text-anchor="end" textLength="20" lengthAdjust="spacingAndGlyphs">250</text>
<line x1="48.5" y1="249.7" x2="48.5" y2="246.2" stroke="#262626" stroke-width="0.9" />
<text x="48.5" y="262.1" font-size="11.4" text-anchor="middle" textLength="19.9" lengthAdjust="spacingAndGlyphs">200</text>
<line x1="113.7" y1="249.7" x2="113.7" y2="246.2" stroke="#262626" stroke-width="0.9" />
<text x="113.7" y="262.1" font-size="11.4" text-anchor="middle" textLength="19.9" lengthAdjust="spacingAndGlyphs">250</text>
<line x1="178.9" y1="249.7" x2="178.9" y2="246.2" stroke="#262626" stroke-width="0.9" />
<text x="178.9" y="262.1" font-size="11.4" text-anchor="middle" textLength="19.9" lengthAdjust="spacingAndGlyphs">300</text>
<line x1="244" y1="249.7" x2="244" y2="246.2" stroke="#262626" stroke-width="0.9" />
<text x="244" y="262.1" font-size="11.4" text-anchor="middle" textLength="19.9" lengthAdjust="spacingAndGlyphs">350</text>
<line x1="309.2" y1="249.7" x2="309.2" y2="246.2" stroke="#262626" stroke-width="0.9" />
<text x="309.2" y="262.1" font-size="11.4" text-anchor="middle" textLength="19.9" lengthAdjust="spacingAndGlyphs">400</text>
<text x="178.7" y="277.6" font-size="12.7" text-anchor="middle" textLength="110" lengthAdjust="spacingAndGlyphs">Wavelength (nm)</text>
<text x="17.6" y="131.9" font-size="12.9" text-anchor="middle" textLength="95.5" lengthAdjust="spacingAndGlyphs" transform="rotate(-90 17.6 131.9)">Intensity (a.u.)</text>
<line x1="56" y1="25.3" x2="75.7" y2="25.3" stroke="#000000" stroke-width="1.2" stroke-opacity="0.75"/>
<text x="82.3" y="28.7" font-size="9.4" textLength="35.4" lengthAdjust="spacingAndGlyphs">0.1 GPa</text>
<line x1="56" y1="38.8" x2="75.7" y2="38.8" stroke="#d62728" stroke-width="1.2" stroke-opacity="0.75"/>
<text x="82.3" y="42.2" font-size="9.4" textLength="35.4" lengthAdjust="spacingAndGlyphs">0.6 GPa</text>
<line x1="56" y1="52.3" x2="75.7" y2="52.3" stroke="#1f77b4" stroke-width="1.2" stroke-opacity="0.75"/>
<text x="82.3" y="55.7" font-size="9.4" textLength="35.4" lengthAdjust="spacingAndGlyphs">1.4 GPa</text>
<line x1="56" y1="65.8" x2="75.7" y2="65.8" stroke="#2ca02c" stroke-width="1.2" stroke-opacity="0.75"/>
<text x="82.3" y="69.2" font-size="9.4" textLength="35.4" lengthAdjust="spacingAndGlyphs">2.0 GPa</text>
<line x1="56" y1="79.3" x2="75.7" y2="79.3" stroke="#ff7f0e" stroke-width="1.2" stroke-opacity="0.75"/>
<text x="82.3" y="82.7" font-size="9.4" textLength="35.4" lengthAdjust="spacingAndGlyphs">3.7 GPa</text>
<line x1="56" y1="92.8" x2="75.7" y2="92.8" stroke="#9467bd" stroke-width="1.2" stroke-opacity="0.75"/>
<text x="82.3" y="96.2" font-size="9.4" textLength="35.4" lengthAdjust="spacingAndGlyphs">4.5 GPa</text>
<line x1="56" y1="106.3" x2="75.7" y2="106.3" stroke="#bcbd22" stroke-width="1.2" stroke-opacity="0.75"/>
<text x="82.3" y="109.7" font-size="9.4" textLength="35.4" lengthAdjust="spacingAndGlyphs">5.0 GPa</text>
<line x1="56" y1="119.8" x2="75.7" y2="119.8" stroke="#8c564b" stroke-width="1.2" stroke-opacity="0.75"/>
<text x="82.3" y="123.2" font-size="9.4" textLength="35.4" lengthAdjust="spacingAndGlyphs">6.4 GPa</text>
<line x1="56" y1="133.3" x2="75.7" y2="133.3" stroke="#7f7f7f" stroke-width="1.2" stroke-opacity="0.75"/>
<text x="82.3" y="136.7" font-size="9.4" textLength="35.4" lengthAdjust="spacingAndGlyphs">7.3 GPa</text>
<line x1="56" y1="146.8" x2="75.7" y2="146.8" stroke="#17becf" stroke-width="1.2" stroke-opacity="0.75"/>
<text x="82.3" y="150.2" font-size="9.4" textLength="35.4" lengthAdjust="spacingAndGlyphs">8.7 GPa</text>
<text x="4.3" y="26.2" font-size="37" style='font-family:"Liberation Serif", serif'>a</text>
</g>
<g id="pb">
<path transform="scale(.1)" fill="none" stroke="#8c8c8c" stroke-width="10" stroke-dasharray="36,16" d="M4247 1785l128-73 203 42 153-26 433-71"/>
<circle cx="424.7" cy="178.5" r="2.1" fill="#8c8c8c"/>
<circle cx="437.5" cy="171.2" r="2.1" fill="#8c8c8c"/>
<circle cx="457.8" cy="175.4" r="2.1" fill="#8c8c8c"/>
<circle cx="473.1" cy="172.8" r="2.1" fill="#8c8c8c"/>
<circle cx="516.4" cy="165.7" r="2.1" fill="#8c8c8c"/>
<path transform="scale(.1)" fill="none" stroke="#8c8c8c" stroke-width="10" stroke-dasharray="36,16" d="M4247 2143l128 25 203-14 153 11 433 25"/>
<rect x="422.9" y="212.5" width="3.6" height="3.6" fill="#fff" stroke="#8c8c8c" stroke-width="0.8"/>
<rect x="435.7" y="215.0" width="3.6" height="3.6" fill="#fff" stroke="#8c8c8c" stroke-width="0.8"/>
<rect x="456.0" y="213.6" width="3.6" height="3.6" fill="#fff" stroke="#8c8c8c" stroke-width="0.8"/>
<rect x="471.3" y="214.7" width="3.6" height="3.6" fill="#fff" stroke="#8c8c8c" stroke-width="0.8"/>
<rect x="514.6" y="217.2" width="3.6" height="3.6" fill="#fff" stroke="#8c8c8c" stroke-width="0.8"/>
<path transform="scale(.1)" fill="none" stroke="#ec8a2c" stroke-width="10.5" stroke-dasharray="36,16" d="M5164 1538l204-191 127 69 356 10 230-164 356-144"/>
<circle cx="516.4" cy="153.8" r="2.1" fill="#ec8a2c"/>
<circle cx="536.8" cy="134.7" r="2.1" fill="#ec8a2c"/>
<circle cx="549.5" cy="141.6" r="2.1" fill="#ec8a2c"/>
<circle cx="585.1" cy="142.6" r="2.1" fill="#ec8a2c"/>
<circle cx="608.1" cy="126.2" r="2.1" fill="#ec8a2c"/>
<circle cx="643.7" cy="111.8" r="2.1" fill="#ec8a2c"/>
<path transform="scale(.1)" fill="none" stroke="#ec8a2c" stroke-width="10.5" stroke-dasharray="36,16" d="M5164 2204l204 14 127-3 356 3 230 25 356 15"/>
<rect x="514.6" y="218.6" width="3.6" height="3.6" fill="#fff" stroke="#ec8a2c" stroke-width="0.8"/>
<rect x="535.0" y="220.0" width="3.6" height="3.6" fill="#fff" stroke="#ec8a2c" stroke-width="0.8"/>
<rect x="547.7" y="219.7" width="3.6" height="3.6" fill="#fff" stroke="#ec8a2c" stroke-width="0.8"/>
<rect x="583.3" y="220.0" width="3.6" height="3.6" fill="#fff" stroke="#ec8a2c" stroke-width="0.8"/>
<rect x="606.3" y="222.5" width="3.6" height="3.6" fill="#fff" stroke="#ec8a2c" stroke-width="0.8"/>
<rect x="641.9" y="224.0" width="3.6" height="3.6" fill="#fff" stroke="#ec8a2c" stroke-width="0.8"/>
<path transform="scale(.1)" fill="none" stroke="#000" stroke-width="14"  d="M4247 1639l128-19 203-18 153-5 433-5"/>
<circle cx="424.7" cy="163.9" r="2.2" fill="#000"/>
<circle cx="437.5" cy="162.0" r="2.2" fill="#000"/>
<circle cx="457.8" cy="160.2" r="2.2" fill="#000"/>
<circle cx="473.1" cy="159.7" r="2.2" fill="#000"/>
<circle cx="516.4" cy="159.2" r="2.2" fill="#000"/>
<path transform="scale(.1)" fill="none" stroke="#111" stroke-width="13"  d="M4247 696l128 33 203 9 153 21 433 0"/>
<rect x="423.2" y="68.1" width="3" height="3" fill="#fff" stroke="#000" stroke-width="0.9"/>
<rect x="436.0" y="71.4" width="3" height="3" fill="#fff" stroke="#000" stroke-width="0.9"/>
<rect x="456.3" y="72.3" width="3" height="3" fill="#fff" stroke="#000" stroke-width="0.9"/>
<rect x="471.6" y="74.4" width="3" height="3" fill="#fff" stroke="#000" stroke-width="0.9"/>
<rect x="514.9" y="74.4" width="3" height="3" fill="#fff" stroke="#000" stroke-width="0.9"/>
<path transform="scale(.1)" fill="none" stroke="#d81e4a" stroke-width="16"  d="M5368 1441l127-7 356 70 230 4"/>
<circle cx="536.8" cy="144.1" r="2.3" fill="#d81e4a"/>
<circle cx="549.5" cy="143.4" r="2.3" fill="#d81e4a"/>
<circle cx="585.1" cy="150.4" r="2.3" fill="#d81e4a"/>
<circle cx="608.1" cy="150.8" r="2.3" fill="#d81e4a"/>
<rect x="415" y="13.4" width="244.3" height="235.2" stroke="#1a1a1a" stroke-width="1.0" fill="none" />
<line x1="415" y1="242.7" x2="418.5" y2="242.7" stroke="#262626" stroke-width="0.9" />
<text x="410.6" y="247.7" font-size="14" text-anchor="end" textLength="24.8" lengthAdjust="spacingAndGlyphs">150</text>
<line x1="415" y1="187.6" x2="418.5" y2="187.6" stroke="#262626" stroke-width="0.9" />
<text x="410.6" y="192.6" font-size="14" text-anchor="end" textLength="24.8" lengthAdjust="spacingAndGlyphs">200</text>
<line x1="415" y1="132.5" x2="418.5" y2="132.5" stroke="#262626" stroke-width="0.9" />
<text x="410.6" y="137.5" font-size="14" text-anchor="end" textLength="24.8" lengthAdjust="spacingAndGlyphs">250</text>
<line x1="415" y1="77.4" x2="418.5" y2="77.4" stroke="#262626" stroke-width="0.9" />
<text x="410.6" y="82.4" font-size="14" text-anchor="end" textLength="24.8" lengthAdjust="spacingAndGlyphs">300</text>
<line x1="415" y1="22.3" x2="418.5" y2="22.3" stroke="#262626" stroke-width="0.9" />
<text x="410.6" y="27.3" font-size="14" text-anchor="end" textLength="24.8" lengthAdjust="spacingAndGlyphs">350</text>
<line x1="422.2" y1="248.6" x2="422.2" y2="245.1" stroke="#262626" stroke-width="0.9" />
<text x="422.2" y="262.6" font-size="14.2" text-anchor="middle" textLength="8.4" lengthAdjust="spacingAndGlyphs">0</text>
<line x1="447.7" y1="248.6" x2="447.7" y2="245.1" stroke="#262626" stroke-width="0.9" />
<text x="447.7" y="262.6" font-size="14.2" text-anchor="middle" textLength="8.4" lengthAdjust="spacingAndGlyphs">1</text>
<line x1="473.1" y1="248.6" x2="473.1" y2="245.1" stroke="#262626" stroke-width="0.9" />
<text x="473.1" y="262.6" font-size="14.2" text-anchor="middle" textLength="8.4" lengthAdjust="spacingAndGlyphs">2</text>
<line x1="498.6" y1="248.6" x2="498.6" y2="245.1" stroke="#262626" stroke-width="0.9" />
<text x="498.6" y="262.6" font-size="14.2" text-anchor="middle" textLength="8.4" lengthAdjust="spacingAndGlyphs">3</text>
<line x1="524" y1="248.6" x2="524" y2="245.1" stroke="#262626" stroke-width="0.9" />
<text x="524" y="262.6" font-size="14.2" text-anchor="middle" textLength="8.4" lengthAdjust="spacingAndGlyphs">4</text>
<line x1="549.5" y1="248.6" x2="549.5" y2="245.1" stroke="#262626" stroke-width="0.9" />
<text x="549.5" y="262.6" font-size="14.2" text-anchor="middle" textLength="8.4" lengthAdjust="spacingAndGlyphs">5</text>
<line x1="575" y1="248.6" x2="575" y2="245.1" stroke="#262626" stroke-width="0.9" />
<text x="575" y="262.6" font-size="14.2" text-anchor="middle" textLength="8.4" lengthAdjust="spacingAndGlyphs">6</text>
<line x1="600.4" y1="248.6" x2="600.4" y2="245.1" stroke="#262626" stroke-width="0.9" />
<text x="600.4" y="262.6" font-size="14.2" text-anchor="middle" textLength="8.4" lengthAdjust="spacingAndGlyphs">7</text>
<line x1="625.9" y1="248.6" x2="625.9" y2="245.1" stroke="#262626" stroke-width="0.9" />
<text x="625.9" y="262.6" font-size="14.2" text-anchor="middle" textLength="8.4" lengthAdjust="spacingAndGlyphs">8</text>
<line x1="651.3" y1="248.6" x2="651.3" y2="245.1" stroke="#262626" stroke-width="0.9" />
<text x="651.3" y="262.6" font-size="14.2" text-anchor="middle" textLength="8.4" lengthAdjust="spacingAndGlyphs">9</text>
<line x1="656" y1="66.4" x2="659.3" y2="66.4" stroke="#262626" stroke-width="0.9" />
<text x="662.8" y="70.7" font-size="12">4</text>
<line x1="656" y1="134.7" x2="659.3" y2="134.7" stroke="#262626" stroke-width="0.9" />
<text x="662.8" y="139" font-size="12">5</text>
<line x1="656" y1="180.3" x2="659.3" y2="180.3" stroke="#262626" stroke-width="0.9" />
<text x="662.8" y="184.6" font-size="12">6</text>
<line x1="656" y1="212.8" x2="659.3" y2="212.8" stroke="#262626" stroke-width="0.9" />
<text x="662.8" y="217.1" font-size="12">7</text>
<line x1="656" y1="237.2" x2="659.3" y2="237.2" stroke="#262626" stroke-width="0.9" />
<text x="662.8" y="241.5" font-size="12">8</text>
<text x="536.7" y="277.4" font-size="10.9" text-anchor="middle" textLength="79.4" lengthAdjust="spacingAndGlyphs">Pressure (GPa)</text>
<text x="379.2" y="131.2" font-size="11" text-anchor="middle" textLength="96" lengthAdjust="spacingAndGlyphs" transform="rotate(-90 379.2 131.2)">Wavelength (nm)</text>
<text x="680.9" y="131.3" font-size="10.9" text-anchor="middle" textLength="65.5" lengthAdjust="spacingAndGlyphs" transform="rotate(-90 680.9 131.3)">Energy (eV)</text>
<line x1="522.2" y1="24.2" x2="539.9" y2="24.2" stroke="#000" stroke-width="1.4" />
<circle cx="531.0" cy="24.2" r="2" fill="#000"/>
<text x="546.1" y="27.2" font-size="8.3" textLength="62.9" lengthAdjust="spacingAndGlyphs">Cubic CL (exp.)</text>
<line x1="522.2" y1="35.8" x2="539.9" y2="35.8" stroke="#111" stroke-width="1.4" />
<rect x="529.3" y="34.1" width="3.4" height="3.4" fill="#fff" stroke="#000" stroke-width="0.8"/>
<text x="546.1" y="38.8" font-size="8.3" textLength="68" lengthAdjust="spacingAndGlyphs">Cubic STE (exp.)</text>
<line x1="522.2" y1="47.7" x2="539.9" y2="47.7" stroke="#d81e4a" stroke-width="1.6" />
<circle cx="531.0" cy="47.7" r="2" fill="#d81e4a"/>
<text x="546.1" y="50.7" font-size="8.3" textLength="99.7" lengthAdjust="spacingAndGlyphs">Orthorhombic Em (exp.)</text>
<line x1="522.2" y1="60" x2="539.9" y2="60" stroke="#8c8c8c" stroke-width="0.9" stroke-dasharray="3.6,1.6"/>
<circle cx="531.0" cy="60.0" r="2" fill="#8c8c8c"/>
<text x="546.1" y="63" font-size="8.3" textLength="71.1" lengthAdjust="spacingAndGlyphs">Cubic Ec-v (calc.)</text>
<line x1="522.2" y1="72.2" x2="539.9" y2="72.2" stroke="#8c8c8c" stroke-width="0.9" stroke-dasharray="3.6,1.6"/>
<rect x="529.3" y="70.5" width="3.4" height="3.4" fill="#fff" stroke="#8c8c8c" stroke-width="0.8"/>
<text x="546.1" y="75.2" font-size="8.3" textLength="71.1" lengthAdjust="spacingAndGlyphs">Cubic Ev-c (calc.)</text>
<line x1="522.2" y1="84.9" x2="539.9" y2="84.9" stroke="#ec8a2c" stroke-width="0.9" stroke-dasharray="3.6,1.6"/>
<circle cx="531.0" cy="84.9" r="2" fill="#ec8a2c"/>
<text x="546.1" y="87.9" font-size="8.3" textLength="105.5" lengthAdjust="spacingAndGlyphs">Orthorhombic Ec-v (calc.)</text>
<line x1="522.2" y1="96.7" x2="539.9" y2="96.7" stroke="#ec8a2c" stroke-width="0.9" stroke-dasharray="3.6,1.6"/>
<rect x="529.3" y="95.0" width="3.4" height="3.4" fill="#fff" stroke="#ec8a2c" stroke-width="0.8"/>
<text x="546.1" y="99.7" font-size="8.3" textLength="105.5" lengthAdjust="spacingAndGlyphs">Orthorhombic Ev-c (calc.)</text>
<text x="365.8" y="26.4" font-size="37" style='font-family:"Liberation Serif", serif'>b</text>
</g>
<g id="pc">
<defs><clipPath id="cc"><rect x="56.6" y="316.9" width="239.00000000000003" height="215.39999999999998"/></clipPath></defs>
<g clip-path="url(#cc)">
<path transform="scale(.1)" fill="none" stroke="#000" stroke-width="8.5" stroke-linejoin="bevel" d="M566 5153l2-25 2-74 3 220 2-162 2-50 2 30 2 52 2 34 3 10 2 48 2-58 2 43 2-78 2 5 3 22 2-16 2-36 2 86 2-132 2 27 3-31 2 59 2-12 2-28 2-1 3 31 2-8 2 10 2-15 2 22 2 0 3 10 2-166 2 137 2-43 2 45 2-69 3-78 2 130 2-64 2 12 2-68 3 61 2-2 2 5 2 113 2-204 2-49 3 165 2-119 2 54 2-102 2 130 2-70 3-65 2 48 2 18 2 13 2 33 2-56 3 69 2-183 2 68 2 42 2 86 3-180 2-25 2 53 2-36 2-6 2 55 3 9 2 45 2-160 2 116 2 61 2-120 3-6 2 48 2-65 2 84 2-27 3-38 2-27 2-45 2-21 2 29 2 17 3 51 2-40 2 68 2-62 2-81 2-14 3 101 2-151 2 231 2-197 2 31 2 7 3-42 2 51 2-182 2 177 2-12 3-47 2 148 2-126 2 82 2-188 2 120 3-29 2 107 2-243 2 233 2-21 2-52 3 99 2-66 2-63 2-275 2 167 2 150 3-42 2-85 2-36 2 134 2-40 3-17 2-11 2 26 2-137 2 135 2-95 3 44 2-201 2 138 2 197 2-139 2 182 3-229 2 113 2 123 2-74 2-43 3-120 2 92 2-25 2 79 2-11 2 70 3-72 2-7 2-13 2 53 2-39 2 17 3-46 2 61 2-1 2 21 2-13 2-26 3 60 2-163 2 15 2 45 2-27 3 135 2-141 2 89 2-49 2-39 2-5 3 157 2-96 2-81 2 92 2-50 2 145 3-118 2 19 2 117 2-191 2-41 2 36 3 78 2-16 2 34 2-88 2 7 3-67 2 95 2-66 2 77 2 30 2-50 3 55 2-3 2-112 2 0 2 99 2 5 3-51 2 35 2-103 2 68 2 64 3-35 2-90 2-115 2 101 2 125 2-36 3-77 2 18 2-26 2-132 2 202 2-9 3-68 2-12 2-17 2-48 2 52 2-79 3 54 2-20 2 137 2-63 2-39 3-76 2 82 2 16 2-20 2-174 2 213 3-123 2 7 2-100 2 44 2 64 2-85 3-36 2 107 2 84 2-36 2-90 3 68 2-83 2-72 2 59 2-139 2 154 3 70 2-100 2-58 2 158 2-129 2-86 3 95 2-114 2 223 2-144 2 149 2 1 3-22 2-175 2 47 2-78 2 150 3 54 2-179 2 103 2 53 2-160 2-23 3 120 2-67 2-32 2 98 2-13 2-80 3-98 2 175 2-128 2 11 2 21 2 22 3 39 2-109 2 49 2 159 2-200 3 73 2-50 2-155 2 111 2 163 2-119 3 44 2-154 2 296 2-276 2 32 2 23 3-60 2-101 2 250 2-100 2-39 3-9 2 13 2-56 2 17 2 34 2 94 3-184 2-62 2 13 2 47 2-61 2 181 3-167 2-139 2 187 2-92 2 86 2 8 3 38 2 51 2-102 2-161 2-14 3 167 2-60 2-102 2 175 2-46 2 63 3-218 2 155 2-23 2-27 2 54 2-244 3 95 2-70 2 292 2-203 2 64 2 65 3-88 2-111 2 30 2 117 2-285 3 162 2 137 2 0 2-17 2-42 2 29 3 7 2-117 2 112 2-58 2 52 2-29 3-105 2 80 2-56 2 59 2-156 3 149 2-86 2 171 2-173 2 45 2 97 3-20 2 93 2-125 2-34 2 50 2-115 3 228 2-140 2 35 2-17 2-100 2 60 3-109 2 130 2 19 2-29 2 83 3-46 2-59 2-74 2 136 2-9 2 47 3-16 2-97 2-10 2-23 2 40 2-97 3 197 2-125 2-51 2 66 2-57 3 44 2 8 2-42 2 55 2-47 2-49 3 119 2-131 2-38 2-37 2 137 2-107 3 209 2-36 2-106 2 82 2-16 2 3 3-52 2 21 2 18 2-68 2 32 3-41 2-25 2-20 2 51 2 12 2-3 3 43 2-112 2 33 2-80 2 49 2 53 3-98 2 78 2-19 2-41 2 13 2 67 3-105 2 18 2 26 2 9 2-34 3 119 2-199 2 262 2-106 2-6 2-98 3 22 2-25 2 107 2-172 2 18 2 205 3-162 2 146 2-100 2-79 2 34 3 89 2-50 2-122 2 60 2-41 2 165 3-157 2-22 2 118 2-167 2 97 2-67 3 93 2-66 2-12 2 41 2-18 2-18 3 25 2 77 2-113 2 28 2-29 3 71 2-164 2 39 2-36 2-38 2 58 3 86 2 64 2-170 2 57 2-42 2-37 3 100 2 49 2-95 2 55 2 24 2-87 3 41 2-56 2 107 2-70 2 6 3-19 2 37 2-90 2 141 2-132 2-48 3 73 2-10 2 55 2-73 2-16 2 15 3-16 2-15 2 18 2 137 2-51 3-72 2-157 2 70 2 72 2 9 2 14 3-73 2 58 2-26 2 61 2-32 2 37 3-15 2-30 2-104 2 57 2-46 2 104 3-49 2 62 2-26 2 1 2 102 3-110 2 87 2-110 2 79 2 66 2-21 3-17 2-153 2 185 2-55 2-34 2 27 3-4 2-47 2 98 2-161 2 29 3 81 2-74 2 87 2-71 2 167 2-32 3-80 2 20 2-82 2 6 2 49 2 55 3-108 2 126 2 163 2-140 2-45 2-4 3 3 2-9 2 230 2-324 2 121 3 36 2 140 2-181 2 130 2 69 2-169 3 8 2 51 2 57 2-85 2 30 2-14 3 0 2 135 2-127 2 121 2-112 2 63 3 14 2-140 2 101 2 7 2-35 3-90 2 347 2-224 2 36 2-69 2 81 3-50 2 22 2 48 2 63 2-57 2-119 3 92 2 203 2-142 2 63 2-125 3 147 2-66 2-35 2-16 2 105 2-56 3-130 2 206 2-43 2 68 2-41 2-42 3 36 2-37 2 139 2-93 2 37 2 182 3-270 2 74 2 53 2-110 2 42 3 205 2-191 2-130 2 151 2-33 2 180 3-4 2-4 2-169 2 14 2 245 2-233 3 214 2-43 2-87 2 47 2-40 2-14 3-62 2 120 2 18 2 8 2-216 3 92 2 2 2 49 2 26 2-78 2 110 3 106 2 11 2-286 2 255 2-21 2-32 3-82 2 158 2-59 2-38 2 122 3-92 2-68 2 64 2 15 2-24 2 44 3 31 2 10 2-93 2 181 2-27 2-138 3-24 2 82 2 71 2 59 2-153 2 34 3-7 2-1 2 109 2-16 2-42 3 10 2 107 2-22 2-70 2-109 2-66 3 156 2 45 2-40 2 20 2 71 2 174 3-240 2 61 2-36 2 70 2-42 3-30 2 110 2-41 2-91 2-7 2 186 3-180 2-32 2 66 2 1 2 27 2-14 3 66 2-122 2 98 2 105 2-136 2-22 3 39 2 104 2-111 2 254 2-321 3 85 2 172 2 23 2-312 2 157 2 72 3-71 2 44 2 3 2-32 2 5 2 101 3-93 2 10 2 89 2-133 2 34 2 114 3-196 2 92 2-55 2 155 2-15 3-39 2 53 2-21 2 91 2-244 2 113 3-53 2-26 2 130 2-141 2 312 2-135 3 15 2-159 2 210 2-140 2-75 3 128 2-23 2 201 2-98 2-78 2 81 3-67 2 54 2-51 2 128 2-132 2-62 3 56 2-98 2 161 2-66 2 159 2-158 3 36 2 57 2-95 2 166 2-60 3-37 2 97 2 2 2-137 2 100 2 52 3-36 2 11 2 17 2-75 2 103 2 34 3-105 2 13 2-88 2 184 2-49 2-108 3 52 2 69 2 23 2-102 2 56 3 61 2-23 2-34 2-54 2 252 2-134 3-122 2 210 2-93 2-75 2 158 2-49 3 28 2-68 2-125 2 221 2-76 3-3 2-60 2 112 2-12 2 34 2-119 3 3 2 145 2 98 2-282 2 272 2-4 3-80 2-169 2 59 2 101 2-63 2 65 3-87 2 113 2-139 2 75 2 85 3 85 2-198 2 48 2 109 2 0 2-26 3-6 2-8 2-7 2 2 2 44 2-181 3 167 2 30 2-81 2 104 2-90 3 24 2-60 2 144 2 68 2-213 2 98 3-133 2 73 2 86 2-54 2 109 2-11 3-67 2-6 2 129 2-170 2 20 2-35 3 178 2-140 2 86 2-8 2-105 3 72 2-34 2-20 2-15 2 146 2 4 3-89 2-12 2 90 2-76 2 90 2-40 3-10 2-21 2-30 2 70 2-33 2 70 3-108 2 13 2 77 2-169 2 139 3 14 2 11 2-54 2 17 2 56 2-75 3-38 2-28 2 63 2 60 2 32 2-89 3-48 2-65 2 176 2 54 2-5 3-90 2-20 2 98 2 33 2 53 2-180 3 158 2-143 2 54 2 125 2-54 2-146 3 69 2 17 2-99 2 89 2-9 2 0 3 3 2-69 2 113 2-112 2-28 3 141 2-67 2 114 2-85 2-78 2 20 3 94 2-67 2 6 2 27 2-2 2-123 3 316 2-138 2-102 2 70 2-31 2 4 3 37 2-16 2 54 2-51 2-52 3-17 2 34 2 54 2 10 2 91 2-103 3 53 2-17 2-23 2-28 2-4 2 9 3 79 2-46 2-77 2 55 2-35 3 24 2-98 2-11 2-63 2 202 2-80 3 144 2-138 2 18 2 59 2-126 2 89 3 118 2-207 2 95 2-47 2 100 2 9 3 32 2-9 2-121 2 12 2 152 3-111 2 0 2 56 2-71 2 76 2-118 3 88 2-30 2 252 2-202 2-32 2 47 3-26 2 52 2-122 2 131 2-47 3-118 2 21 2 83 2 86 2 46 2-158 3 15 2 36 2 2 2-164 2 85 2 61 3 16 2 10 2-45 2 41 2-24 2 38 3-80 2 35 2 95"/>
</g>
<rect x="56.6" y="316.9" width="239" height="215.4" stroke="#555" stroke-width="0.9" fill="none" />
<line x1="56.6" y1="529" x2="60.1" y2="529" stroke="#555" stroke-width="0.9" />
<text x="52.3" y="536.5" font-size="18.8" text-anchor="end" textLength="11.2" lengthAdjust="spacingAndGlyphs">0</text>
<line x1="56.6" y1="489.6" x2="60.1" y2="489.6" stroke="#555" stroke-width="0.9" />
<text x="52.3" y="497.1" font-size="18.8" text-anchor="end" textLength="22.4" lengthAdjust="spacingAndGlyphs">10</text>
<line x1="56.6" y1="450.1" x2="60.1" y2="450.1" stroke="#555" stroke-width="0.9" />
<text x="52.3" y="457.6" font-size="18.8" text-anchor="end" textLength="22.4" lengthAdjust="spacingAndGlyphs">20</text>
<line x1="56.6" y1="410.7" x2="60.1" y2="410.7" stroke="#555" stroke-width="0.9" />
<text x="52.3" y="418.2" font-size="18.8" text-anchor="end" textLength="22.4" lengthAdjust="spacingAndGlyphs">30</text>
<line x1="56.6" y1="371.2" x2="60.1" y2="371.2" stroke="#555" stroke-width="0.9" />
<text x="52.3" y="378.7" font-size="18.8" text-anchor="end" textLength="22.4" lengthAdjust="spacingAndGlyphs">40</text>
<line x1="56.6" y1="331.8" x2="60.1" y2="331.8" stroke="#555" stroke-width="0.9" />
<text x="52.3" y="339.3" font-size="18.8" text-anchor="end" textLength="22.4" lengthAdjust="spacingAndGlyphs">50</text>
<line x1="56.6" y1="532.3" x2="56.6" y2="528.8" stroke="#555" stroke-width="0.9" />
<text x="56.2" y="550" font-size="19" text-anchor="middle" textLength="33.4" lengthAdjust="spacingAndGlyphs">200</text>
<line x1="116.3" y1="532.3" x2="116.3" y2="528.8" stroke="#555" stroke-width="0.9" />
<text x="115.9" y="550" font-size="19" text-anchor="middle" textLength="33.4" lengthAdjust="spacingAndGlyphs">250</text>
<line x1="176.1" y1="532.3" x2="176.1" y2="528.8" stroke="#555" stroke-width="0.9" />
<text x="175.7" y="550" font-size="19" text-anchor="middle" textLength="33.4" lengthAdjust="spacingAndGlyphs">300</text>
<line x1="235.8" y1="532.3" x2="235.8" y2="528.8" stroke="#555" stroke-width="0.9" />
<text x="235.4" y="550" font-size="19" text-anchor="middle" textLength="33.4" lengthAdjust="spacingAndGlyphs">350</text>
<line x1="295.6" y1="532.3" x2="295.6" y2="528.8" stroke="#555" stroke-width="0.9" />
<text x="295.2" y="550" font-size="19" text-anchor="middle" textLength="33.4" lengthAdjust="spacingAndGlyphs">400</text>
<rect x="26" y="318" width="9.4" height="23" stroke="none" stroke-width="0" fill="#fff" />
<text x="98.6" y="570.8" font-size="18.6" textLength="154" lengthAdjust="spacingAndGlyphs">Wavelength (nm)</text>
<text x="22.7" y="424.5" font-size="18.9" text-anchor="middle" textLength="133.5" lengthAdjust="spacingAndGlyphs" transform="rotate(-90 22.7 424.5)">Intensity (a.u.)</text>
<text x="62.3" y="439.6" font-size="33" fill="#cc2222" textLength="37.5" lengthAdjust="spacingAndGlyphs" stroke="#fff" stroke-width="0.6">CL</text>
<text x="142.5" y="416.3" font-size="33" fill="#cc2222" textLength="58.5" lengthAdjust="spacingAndGlyphs" stroke="#fff" stroke-width="0.6">STE</text>
<text x="0.2" y="336" font-size="38" style='font-family:"Liberation Serif", serif' font-weight="bold">c</text>
</g>
<g id="pd">
<defs><clipPath id="cd"><rect x="407.5" y="316.9" width="240.0" height="215.39999999999998"/></clipPath></defs>
<g clip-path="url(#cd)">
<path transform="scale(.1)" fill="none" stroke="#000" stroke-width="8" stroke-linejoin="bevel" d="M4075 4882l2-213 1 323 2-265 2-226 2 333 1 220 2-369 2 169 1-236 2 104 2 24 2 154 1-294 2 91 2-7 1 245 2-263 2 25 2 31 1 183 2-130 2-39 1-210 2-3 2 275 2-313 1 247 2-137 2-4 1-52 2 166 2 496 2-891 1 436 2-368 2 86 1-31 2 105 2 218 2-325 1 120 2-23 2-74 1-5 2 61 2 23 2-133 1 48 2 199 2-179 1-207 2 129 2-163 2 437 1-291 2 314 2-359 1 168 2-74 2-90 2 170 1-25 2-50 2-162 2-91 1 286 2 16 2-141 1 37 2 147 2-266 2 136 1-292 2 334 2-339 1 30 2 205 2-79 2 476 1-497 2 21 2 113 1-288 2 491 2-432 2 83 1-27 2 228 2-301 1 112 2-316 2 145 2 238 1 264 2-443 2 7 1 58 2 48 2 30 2-152 1-72 2 134 2-248 1 201 2-130 2 120 2-46 1-145 2 34 2-81 1 1 2 140 2-106 2 26 1-4 2-152 2 188 1-15 2-57 2 149 2-208 1-28 2 412 2-391 1 195 2 9 2-207 2 210 1-161 2 117 2 74 1-418 2 349 2 57 2-119 1-302 2 467 2-381 1 253 2-134 2 36 2-156 1 245 2-368 2 309 1 137 2-223 2-89 2 14 1-42 2 158 2-233 1 78 2 242 2 372 2-406 1-66 2-73 2 90 1-43 2-129 2-18 2 99 1 444 2-348 2 6 1-26 2 46 2 1 2-232 1-81 2 325 2-256 1 401 2-379 2-161 2 98 1 241 2 4 2-80 2-222 1 125 2 18 2-44 1 219 2 149 2-219 2-14 1-110 2 32 2-439 1 505 2 16 2-275 2 186 1-265 2 3 2 146 1 10 2 321 2-401 2 153 1-61 2-51 2 116 1 151 2-63 2 67 2-271 1 134 2-14 2 74 1-49 2 143 2-178 2 167 1-190 2 73 2-99 1-90 2 85 2 42 2-99 1 194 2-71 2-65 1 253 2-105 2-383 2 256 1 3 2-56 2 104 1 34 2-19 2-187 2-83 1 302 2-61 2-81 1 220 2-169 2-138 2-12 1-181 2 380 2-48 1-122 2 78 2-116 2 156 1 241 2-124 2 121 1-254 2-160 2 104 2 146 1 213 2-274 2 93 1-3 2-90 2-325 2 389 1 44 2 99 2-328 1 472 2-78 2-193 2-106 1 215 2-164 2 224 1-402 2 339 2-156 2 125 1-56 2-72 2 79 1-67 2-367 2-7 2 242 1 112 2-26 2 207 1-22 2 3 2-213 2 76 1 34 2-380 2 333 2-118 1 53 2 59 2-63 1 282 2-226 2-128 2-91 1 265 2-227 2 82 1 168 2 172 2-265 2 134 1-252 2 110 2 262 1-139 2-115 2-126 2 542 1-425 2 257 2-145 1 94 2-250 2 87 2-197 1 71 2 103 2 396 1-433 2 208 2-89 2 122 1-8 2-193 2 76 1 135 2-151 2 187 2-124 1-127 2 148 2 184 1-207 2 81 2-301 2 271 1 78 2 82 2 154 1-195 2-121 2 141 2-197 1-52 2 33 2 193 1 22 2-227 2 213 2-1 1-7 2-265 2 456 1-420 2 33 2-263 2 327 1-250 2 211 2 232 1 81 2-205 2-58 2 23 1-97 2 90 2 402 1-341 2 1 2-83 2 198 1-276 2 157 2-176 1 278 2-70 2 170 2 102 1-240 2 35 2-121 1-16 2 64 2-1 2 161 1-96 2-27 2 73 1-209 2 30 2 195 2-527 1 425 2-21 2-195 1-72 2 371 2-135 2-37 1-80 2 309 2-98 2-191 1 132 2 243 2-272 1-145 2 117 2 109 2 127 1-5 2-132 2 103 1 2 2 127 2-290 2-53 1 132 2-92 2 71 1-210 2 246 2-7 2 169 1-157 2 52 2 16 1-276 2 106 2-32 2 103 1 176 2-131 2-136 1 266 2-91 2-19 2-93 1 92 2-95 2 15 1 131 2-63 2 208 2-105 1-143 2 22 2 10 1 47 2-109 2 31 2 82 1 238 2-646 2 105 1 443 2-325 2 252 2-198 1 294 2-111 2 68 1-163 2-17 2 117 2 345 1-325 2 168 2-362 1 297 2 238 2-275 2 175 1-244 2 248 2-225 1 295 2-389 2 180 2-192 1 232 2-313 2 326 1-115 2 115 2-181 2 383 1 26 2-290 2 184 1 41 2-201 2 74 2 353 1-362 2 96 2 76 1-253 2 27 2-112 2 274 1 60 2-496 2 246 1 22 2 230 2-60 2-173 1 540 2-237 2-223 1 314 2-368 2 136 2 215 1-238 2-4 2 19 2-93 1 310 2-145 2-145 1 36 2 7 2-371 2 466 1 27 2-173 2 122 1-160 2 160 2-275 2 347 1-57 2-162 2 118 1-120 2 22 2-15 2 305 1-305 2 118 2-36 1 168 2-194 2 84 2-65 1-21 2 235 2-133 1-99 2 156 2-68 2-84 1-74 2-108 2 86 1 149 2 125 2-161 2 190 1 0 2 129 2-447 1 14 2 315 2-170 2-35 1-167 2 15 2 329 1-172 2 270 2-255 2 25 1 48 2 121 2-112 1-394 2 582 2-238 2-134 1 17 2 171 2-259 1 3 2 172 2-14 2 58 1-94 2 37 2-164 1 445 2-372 2 150 2-223 1 38 2 190 2-19 1 64 2 78 2-114 2-141 1 147 2 154 2-366 1 333 2-157 2-89 2-37 1-29 2 280 2 249 1-359 2 29 2-138 2 9 1 137 2-48 2 147 1-43 2 213 2-355 2 27 1 95 2-254 2 200 1 86 2-137 2-215 2 403 1-274 2 301 2-144 2 31 1-9 2-158 2-259 1 790 2-400 2-423 2 224 1 156 2 135 2-246 1 28 2 109 2-132 2 67 1-86 2 289 2-246 1-42 2 256 2-627 2 284 1 180 2 116 2-45 1-31 2-69 2 253 2-28 1-346 2 376 2-476 1 305 2 186 2-80 2-366 1 207 2 179 2-329 1 109 2 163 2 69 2 60 1-226 2-67 2-143 1-7 2 77 2 351 2-126 1-159 2 111 2-53 1 79 2-64 2-144 2 71 1 277 2 158 2-198 1 69 2-373 2 143 2-353 1 252 2 22 2 146 1 31 2-215 2 183 2-296 1 81 2 1 2 111 1 158 2-305 2 254 2-83 1-113 2 163 2 12 1 128 2-783 2 344 2 368 1-289 2-112 2 21 1 102 2 244 2 112 2-110 1-172 2-131 2 12 1 204 2-81 2 123 2 197 1-164 2-247 2 153 1-18 2 12 2-332 2 268 1 108 2 160 2-110 1-148 2 132 2-145 2 141 1-461 2 450 2-191 2 239 1-150 2-84 2 96 1 276 2-454 2 112 2 232 1-63 2-156 2 208 1-205 2 275 2-198 2-99 1 490 2-393 2-35 1-154 2 35 2 142 2-7 1 94 2 4 2 12 1 16 2-202 2 162 2 112 1-27 2-102 2-80 1 150 2 64 2-172 2-110 1 285 2-83 2 211 1-620 2 500 2 24 2-208 1 85 2-160 2 233 1-137 2-14 2-46 2-191 1 274 2 115 2-184 1 167 2-236 2-151 2 267 1-189 2 428 2-133 1-78 2 291 2-226 2-101 1 120 2-221 2 98 1-188 2 325 2-166 2 461 1-277 2-253 2 196 1 16 2 102 2-417 2 60 1 187 2-52 2 50 1 200 2-247 2 127 2 36 1-270 2 153 2 152 1-225 2 85 2-54 2 68 1-62 2 5 2 172 1-338 2 174 2 394 2-497 1 357 2-266 2-166 1 268 2-25 2-254 2 152 1 14 2 104 2-30 1 282 2-210 2-39 2-179 1 93 2 260 2-73 2 212 1-294 2-235 2 193 1 138 2-126 2 46 2 155 1-45 2-98 2-144 1 205 2-63 2 183 2-192 1 152 2-412 2 247 1 457 2-640 2 161 2 50 1-30 2 115 2 44 1-22 2-83 2-78 2-221 1 223 2-63 2-22 1 254 2 28 2-15 2-344 1 420 2-280 2 202 1-487 2 564 2-16 2-105 1 91 2-269 2-24 1-5 2-162 2 435 2-157 1 80 2 50 2-155 1-262 2 444 2-446 2 271 1-100 2 315 2-291 1 102 2 45 2 67 2-117 1 84 2-72 2 287 1-301 2-105 2 27 2 310 1-208 2-26 2-123 1-79 2 96 2 170 2-119 1 116 2 27 2 181 1-270 2-174 2 447 2-637 1 470 2-112 2 7 1 77 2-56 2 44 2 99 1 80 2-340 2 73 1 183 2-258 2 324 2-188 1-34 2 47 2-63 1 137 2 163 2-148 2-167 1 76 2 13 2 41 1-203 2 253 2-343 2 207 1 175 2-248 2 52 2-20 1 279 2-362 2 225 1-49 2-63 2-68 2 206 1-123 2-20 2 72 1-1 2 135 2-128 2-177 1 343 2 59 2-431 1 398 2-147 2 42 2-120 1 87 2-118 2 134 1 91 2-498 2 325 2-55 1 249 2-76 2-32 1-208 2 256 2-186 2 114 1 52 2-199 2 61 1 189 2-239 2 276 2-254 1 85 2-331 2 245 1-228 2 29 2 329 2-157 1 313 2-36 2-156 1-318 2 173 2 325 2 100 1-331 2 265 2-144 1 16 2 51 2-18 2-87 1-168 2 230 2-97 1-56 2-7 2 85 2 94 1-94 2 199 2-196 1-189 2 95 2 511 2-503 1-1 2 129 2-145 1 5 2 115 2 16 2 131 1-310 2 461 2-366 1 106 2-61 2 69 2-48 1 116 2 8 2-367 1 285 2-239 2 83 2 82 1-15 2 51 2-141 1 151 2 40 2-147 2 97 1-75 2 164 2-80 1-141 2 1 2 289 2-137 1 136 2-260 2 245 2 121 1-89 2 6 2-500 1 418 2-187 2 210 2 3 1-279 2 45 2-59 1 57 2 165 2 263 2-313 1-42 2-236 2 436 1 44 2-105 2-228 2 210 1-91 2 137 2-271 1 124 2 35 2-188 2 317 1-124 2-112 2 288 1-145 2-93 2 219 2-31 1-316 2-186 2 157 1 144 2 67 2 155 2-247 1 180 2-77 2-13 1-100 2 41 2 384 2-221 1-220 2-44 2 72 1-32 2 294 2-145 2-21 1-117 2 116 2 88 1-2 2-78 2-78 2 315 1-245 2-60 2-125 1 189 2 237 2-43 2-335 1-14 2 200 2 91 1-269 2 224 2-64 2 200 1 161 2-396 2-225 1 299 2 132 2-360 2 326 1 158 2-223 2-115 1 161 2-115 2-2 2-6 1 14 2-31 2-231 1 70 2 233 2-169 2 206 1-91 2 20 2-150 1 14 2 223 2 42 2 20 1-23 2-43 2-83 1 112 2-376 2 84 2-119 1 223 2-29 2 126 2-196 1 88 2 90 2-68 1-206 2 32 2 226 2-234 1 641 2-393 2 1 1-1 2-62 2-20 2 186 1-28 2-307 2-90 1 287 2 0 2-99 2 68 1 41 2 10 2-207 1 304 2-174 2 236 2-239 1 33 2 58 2-64 1 292 2-131 2-48 2-75 1 19 2 94 2-196 1 47 2-301 2 325 2-22 1 5 2 86 2 16 1-167 2 144 2 32 2-66 1-226 2 385 2-109 1-93 2-43 2-150 2-47 1 365 2-193 2-163 1 106 2 280 2-36 2-95 1-105 2 259 2-259 1 207 2-177 2-14 2 37 1-77 2 144 2-29 1-154 2 262 2 7 2 110 1-433 2 344 2-235 1 117 2-50 2 119 2-36 1-154 2 121 2 157 1-117 2 170 2-262 2-415 1 458 2-180 2-4 1 240 2-171 2 185 2-59 1 57 2-183 2 317 1-142 2 152 2-393 2 287 1-187 2 333 2-118 1-172 2 363 2-335 2 112 1-365 2 201 2-32 2 80 1-100 2 304 2-397 1 125 2 331 2-275 2 48 1-204 2 245 2-92 1-9 2 88 2-264 2 172 1 156 2-121 2 60 1-264 2 386 2 101 2-549 1 296 2-164 2 158 1 70 2-144 2 64 2 101 1 178 2-310 2-149 1 30 2 356 2-389 2 389 1-124 2-80 2 2 1 123 2-71 2-61 2 0 1-81 2-32 2 110 1 119 2-204 2 106 2 109 1 225 2-359 2-68 1-54 2 285 2-125 2 322 1-355 2-12"/>
</g>
<rect x="407.5" y="316.9" width="240" height="215.4" stroke="#555" stroke-width="0.9" fill="none" />
<line x1="407.5" y1="514.1" x2="411" y2="514.1" stroke="#555" stroke-width="0.9" />
<text x="403.2" y="520.1" font-size="16.3" text-anchor="end" textLength="9.5" lengthAdjust="spacingAndGlyphs">0</text>
<line x1="407.5" y1="457.2" x2="411" y2="457.2" stroke="#555" stroke-width="0.9" />
<text x="403.2" y="463.2" font-size="16.3" text-anchor="end" textLength="9.5" lengthAdjust="spacingAndGlyphs">5</text>
<line x1="407.5" y1="400.3" x2="411" y2="400.3" stroke="#555" stroke-width="0.9" />
<text x="401.8" y="406.3" font-size="16.3" text-anchor="end" textLength="19" lengthAdjust="spacingAndGlyphs">10</text>
<line x1="407.5" y1="343.4" x2="411" y2="343.4" stroke="#555" stroke-width="0.9" />
<line x1="407.5" y1="532.3" x2="407.5" y2="528.8" stroke="#555" stroke-width="0.9" />
<text x="407.1" y="550" font-size="19" text-anchor="middle" textLength="33.4" lengthAdjust="spacingAndGlyphs">200</text>
<line x1="467.5" y1="532.3" x2="467.5" y2="528.8" stroke="#555" stroke-width="0.9" />
<text x="467.1" y="550" font-size="19" text-anchor="middle" textLength="33.4" lengthAdjust="spacingAndGlyphs">250</text>
<line x1="527.5" y1="532.3" x2="527.5" y2="528.8" stroke="#555" stroke-width="0.9" />
<text x="527.1" y="550" font-size="19" text-anchor="middle" textLength="33.4" lengthAdjust="spacingAndGlyphs">300</text>
<line x1="587.5" y1="532.3" x2="587.5" y2="528.8" stroke="#555" stroke-width="0.9" />
<text x="587.1" y="550" font-size="19" text-anchor="middle" textLength="33.4" lengthAdjust="spacingAndGlyphs">350</text>
<line x1="647.5" y1="532.3" x2="647.5" y2="528.8" stroke="#555" stroke-width="0.9" />
<text x="647.1" y="550" font-size="19" text-anchor="middle" textLength="33.4" lengthAdjust="spacingAndGlyphs">400</text>
<text x="449.9" y="570.8" font-size="18.6" textLength="154.6" lengthAdjust="spacingAndGlyphs">Wavelength (nm)</text>
<text x="373.8" y="424.9" font-size="18.9" text-anchor="middle" textLength="133.5" lengthAdjust="spacingAndGlyphs" transform="rotate(-90 373.8 424.9)">Intensity (a.u.)</text>
<text x="465.2" y="352.8" font-size="33" fill="#cc2222" textLength="37.5" lengthAdjust="spacingAndGlyphs" stroke="#fff" stroke-width="0.6">CL</text>
<text x="524.4" y="400.2" font-size="33" fill="#cc2222" textLength="58.5" lengthAdjust="spacingAndGlyphs" stroke="#fff" stroke-width="0.6">STE</text>
<text x="360" y="344" font-size="38" style='font-family:"Liberation Serif", serif'>d</text>
</g>
<g id="pg">
<rect x="89.5" y="884.4" width="267.7" height="176.8" stroke="#111" stroke-width="1.1" fill="none" />
<line x1="89.5" y1="1061.5" x2="93.8" y2="1061.5" stroke="#111" stroke-width="1.0" />
<text x="76.6" y="1066.6" font-size="14.6" text-anchor="end" fill="#1e1eff" textLength="20.2" lengthAdjust="spacingAndGlyphs">5.1</text>
<line x1="89.5" y1="1029.2" x2="93.8" y2="1029.2" stroke="#111" stroke-width="1.0" />
<text x="76.6" y="1034.3" font-size="14.6" text-anchor="end" fill="#1e1eff" textLength="20.2" lengthAdjust="spacingAndGlyphs">5.2</text>
<line x1="89.5" y1="996.9" x2="93.8" y2="996.9" stroke="#111" stroke-width="1.0" />
<text x="76.6" y="1002" font-size="14.6" text-anchor="end" fill="#1e1eff" textLength="20.2" lengthAdjust="spacingAndGlyphs">5.3</text>
<line x1="89.5" y1="964.6" x2="93.8" y2="964.6" stroke="#111" stroke-width="1.0" />
<text x="76.6" y="969.7" font-size="14.6" text-anchor="end" fill="#1e1eff" textLength="20.2" lengthAdjust="spacingAndGlyphs">5.4</text>
<line x1="89.5" y1="932.3" x2="93.8" y2="932.3" stroke="#111" stroke-width="1.0" />
<text x="76.6" y="937.4" font-size="14.6" text-anchor="end" fill="#1e1eff" textLength="20.2" lengthAdjust="spacingAndGlyphs">5.5</text>
<line x1="89.5" y1="900" x2="93.8" y2="900" stroke="#111" stroke-width="1.0" />
<text x="76.6" y="905.1" font-size="14.6" text-anchor="end" fill="#1e1eff" textLength="20.2" lengthAdjust="spacingAndGlyphs">5.6</text>
<line x1="357.2" y1="1061.2" x2="361.6" y2="1061.2" stroke="#111" stroke-width="1.0" />
<text x="369.3" y="1066.3" font-size="14.6" textLength="28.6" lengthAdjust="spacingAndGlyphs">4.02</text>
<line x1="357.2" y1="1034" x2="361.6" y2="1034" stroke="#111" stroke-width="1.0" />
<text x="369.3" y="1039.1" font-size="14.6" textLength="28.6" lengthAdjust="spacingAndGlyphs">4.04</text>
<line x1="357.2" y1="1006.7" x2="361.6" y2="1006.7" stroke="#111" stroke-width="1.0" />
<text x="369.3" y="1011.8" font-size="14.6" textLength="28.6" lengthAdjust="spacingAndGlyphs">4.06</text>
<line x1="357.2" y1="979.5" x2="361.6" y2="979.5" stroke="#111" stroke-width="1.0" />
<text x="369.3" y="984.6" font-size="14.6" textLength="28.6" lengthAdjust="spacingAndGlyphs">4.08</text>
<line x1="357.2" y1="952.3" x2="361.6" y2="952.3" stroke="#111" stroke-width="1.0" />
<text x="369.3" y="957.4" font-size="14.6" textLength="28.6" lengthAdjust="spacingAndGlyphs">4.10</text>
<line x1="357.2" y1="925" x2="361.6" y2="925" stroke="#111" stroke-width="1.0" />
<text x="369.3" y="930.1" font-size="14.6" textLength="28.6" lengthAdjust="spacingAndGlyphs">4.12</text>
<line x1="357.2" y1="897.8" x2="361.6" y2="897.8" stroke="#111" stroke-width="1.0" />
<text x="369.3" y="902.9" font-size="14.6" textLength="28.6" lengthAdjust="spacingAndGlyphs">4.14</text>
<line x1="89.5" y1="1061.2" x2="89.5" y2="1056.9" stroke="#111" stroke-width="1.0" />
<text x="89.5" y="1083.9" font-size="14.6" text-anchor="middle" textLength="8.2" lengthAdjust="spacingAndGlyphs">0</text>
<line x1="123" y1="1061.2" x2="123" y2="1056.9" stroke="#111" stroke-width="1.0" />
<text x="123" y="1083.9" font-size="14.6" text-anchor="middle" textLength="8.2" lengthAdjust="spacingAndGlyphs">1</text>
<line x1="156.4" y1="1061.2" x2="156.4" y2="1056.9" stroke="#111" stroke-width="1.0" />
<text x="156.4" y="1083.9" font-size="14.6" text-anchor="middle" textLength="8.2" lengthAdjust="spacingAndGlyphs">2</text>
<line x1="189.9" y1="1061.2" x2="189.9" y2="1056.9" stroke="#111" stroke-width="1.0" />
<text x="189.9" y="1083.9" font-size="14.6" text-anchor="middle" textLength="8.2" lengthAdjust="spacingAndGlyphs">3</text>
<line x1="223.3" y1="1061.2" x2="223.3" y2="1056.9" stroke="#111" stroke-width="1.0" />
<text x="223.3" y="1083.9" font-size="14.6" text-anchor="middle" textLength="8.2" lengthAdjust="spacingAndGlyphs">4</text>
<line x1="256.8" y1="1061.2" x2="256.8" y2="1056.9" stroke="#111" stroke-width="1.0" />
<text x="256.8" y="1083.9" font-size="14.6" text-anchor="middle" textLength="8.2" lengthAdjust="spacingAndGlyphs">5</text>
<line x1="290.2" y1="1061.2" x2="290.2" y2="1056.9" stroke="#111" stroke-width="1.0" />
<text x="290.2" y="1083.9" font-size="14.6" text-anchor="middle" textLength="8.2" lengthAdjust="spacingAndGlyphs">6</text>
<line x1="323.7" y1="1061.2" x2="323.7" y2="1056.9" stroke="#111" stroke-width="1.0" />
<text x="323.7" y="1083.9" font-size="14.6" text-anchor="middle" textLength="8.2" lengthAdjust="spacingAndGlyphs">7</text>
<line x1="357.1" y1="1061.2" x2="357.1" y2="1056.9" stroke="#111" stroke-width="1.0" />
<text x="357.1" y="1083.9" font-size="14.6" text-anchor="middle" textLength="8.2" lengthAdjust="spacingAndGlyphs">8</text>
<text x="203.7" y="1109.6" font-size="13.8" textLength="101.9" lengthAdjust="spacingAndGlyphs">Pressure (GPa)</text>
<text x="45.6" y="975.8" font-size="14.2" text-anchor="middle" fill="#1e1eff" textLength="153" lengthAdjust="spacingAndGlyphs" transform="rotate(-90 45.6 975.8)">Energy of CL peak (eV)</text>
<text x="419.8" y="972.2" font-size="14.2" text-anchor="middle" textLength="163.3" lengthAdjust="spacingAndGlyphs" transform="rotate(-90 419.8 972.2)">Energy of STE peak (eV)</text>
<circle cx="92.8" cy="1034.0" r="3" fill="none" stroke="#000" stroke-width="1.1"/>
<circle cx="109.6" cy="979.5" r="3" fill="none" stroke="#000" stroke-width="1.1"/>
<circle cx="136.3" cy="965.9" r="3" fill="none" stroke="#000" stroke-width="1.1"/>
<circle cx="156.4" cy="925.0" r="3" fill="none" stroke="#000" stroke-width="1.1"/>
<circle cx="213.3" cy="925.0" r="3" fill="none" stroke="#000" stroke-width="1.1"/>
<circle cx="92.8" cy="896.8" r="3.4" fill="#1e1eff"/>
<circle cx="109.6" cy="912.9" r="3.4" fill="#1e1eff"/>
<circle cx="136.3" cy="929.1" r="3.4" fill="#1e1eff"/>
<circle cx="156.4" cy="929.1" r="3.4" fill="#1e1eff"/>
<circle cx="213.3" cy="935.5" r="3.4" fill="#1e1eff"/>
<circle cx="240.0" cy="1013.0" r="3.4" fill="#1e1eff"/>
<circle cx="256.8" cy="1026.0" r="3.4" fill="#1e1eff"/>
<circle cx="303.6" cy="1019.5" r="3.4" fill="#1e1eff"/>
<circle cx="333.7" cy="996.9" r="3.4" fill="#1e1eff"/>
<text x="3.8" y="902.8" font-size="37.5" style='font-family:"Liberation Serif", serif'>g</text>
</g>
<g id="pe">
<defs><clipPath id="ce"><rect x="56.8" y="591.8" width="241.8" height="235.0"/></clipPath></defs>
<line x1="64.3" y1="591.8" x2="64.3" y2="826.8" stroke="#7a7ab8" stroke-width="0.7" stroke-dasharray="0.8,1.3"/>
<line x1="79.9" y1="591.8" x2="79.9" y2="826.8" stroke="#7a7ab8" stroke-width="0.7" stroke-dasharray="0.8,1.3"/>
<line x1="95.5" y1="591.8" x2="95.5" y2="826.8" stroke="#7a7ab8" stroke-width="0.7" stroke-dasharray="0.8,1.3"/>
<line x1="111.1" y1="591.8" x2="111.1" y2="826.8" stroke="#7a7ab8" stroke-width="0.7" stroke-dasharray="0.8,1.3"/>
<line x1="126.7" y1="591.8" x2="126.7" y2="826.8" stroke="#7a7ab8" stroke-width="0.7" stroke-dasharray="0.8,1.3"/>
<line x1="142.3" y1="591.8" x2="142.3" y2="826.8" stroke="#7a7ab8" stroke-width="0.7" stroke-dasharray="0.8,1.3"/>
<line x1="157.9" y1="591.8" x2="157.9" y2="826.8" stroke="#7a7ab8" stroke-width="0.7" stroke-dasharray="0.8,1.3"/>
<line x1="173.5" y1="591.8" x2="173.5" y2="826.8" stroke="#7a7ab8" stroke-width="0.7" stroke-dasharray="0.8,1.3"/>
<line x1="189.1" y1="591.8" x2="189.1" y2="826.8" stroke="#7a7ab8" stroke-width="0.7" stroke-dasharray="0.8,1.3"/>
<line x1="204.7" y1="591.8" x2="204.7" y2="826.8" stroke="#7a7ab8" stroke-width="0.7" stroke-dasharray="0.8,1.3"/>
<line x1="220.3" y1="591.8" x2="220.3" y2="826.8" stroke="#7a7ab8" stroke-width="0.7" stroke-dasharray="0.8,1.3"/>
<line x1="235.9" y1="591.8" x2="235.9" y2="826.8" stroke="#7a7ab8" stroke-width="0.7" stroke-dasharray="0.8,1.3"/>
<line x1="251.5" y1="591.8" x2="251.5" y2="826.8" stroke="#7a7ab8" stroke-width="0.7" stroke-dasharray="0.8,1.3"/>
<line x1="267.1" y1="591.8" x2="267.1" y2="826.8" stroke="#7a7ab8" stroke-width="0.7" stroke-dasharray="0.8,1.3"/>
<line x1="282.7" y1="591.8" x2="282.7" y2="826.8" stroke="#7a7ab8" stroke-width="0.7" stroke-dasharray="0.8,1.3"/>
<g clip-path="url(#ce)">
<line x1="56.8" y1="639.2" x2="298.6" y2="639.2" stroke="#d99aa2" stroke-width="0.9" />
<path transform="scale(.1)" fill="none" stroke="#d99aa2" stroke-width="7"  d="M565 6388l6 0 6-1 5 0 6 0 6-1 6 0 6-1 5 0 6-1 6 0 6-1 5 0 6-1 6 0 6-1 6 0 5-1 6 0 6-1 6 0 6-1 5 0 6-1 6 0 6-1 6 0 5-1 6 0 6-1 6 0 5-1 6 0 6-1 6 0 6-1 5-1 6 0 6-1 6 0 6-1 5-1 6 0 6-1 6-1 6 0 5-1 6-1 6 0 6-1 5-1 6 0 6-1 6 0 6-1 5-1 6 0 6-1 6-1 6 0 5-1 6-1 6 0 6-1 6-1 5 0 6-1 6 0 6-1 5-1 6 0 6-1 6 0 6-1 5-1 6 0 6-1 6 0 6-1 5-1 6 0 6-1 6 0 6-1 5-1 6 0 6-1 6 0 5-1 6-1 6 0 6-1 6 0 5-1 6-1 6 0 6-1 6 0 5-1 6-1 6 0 6-1 6 0 5-1 6-1 6 0 6-1 5 0 6-1 6-1 6 0 6-1 5-1 6 0 6-1 6 0 6-1 5-1 6 0 6-1 6 0 6-1 5-1 6 0 6-1 6 0 5-1 6 0 6-1 6 0 6 0 5-1 6 0 6 0 6 0 6 0 5 0 6 0 6 0 6 0 6 0 5 0 6 0 6 0 6 1 5 0 6 0 6 1 6 0 6 1 5 0 6 1 6 0 6 1 6 0 5 1 6 0 6 1 6 0 6 1 5 0 6 0 6 1 6 0 5 1 6 0 6 0 6 1 6 0 5 0 6 1 6 0 6 0 6 1 5 0 6 1 6 0 6 0 6 1 5 0 6 0 6 1 6 0 5 0 6 1 6 0 6 0 6 1 5 0 6 0 6 1 6 0 6 0 5 0 6 1 6 0 6 0 6 1 5 0 6 0 6 1 6 0 5 0 6 1 6 0 6 0 6 0 5 1 6 0 6 0 6 1 6 0 5 0 6 1 6 0 6 0 6 1 5 0 6 1 6 0 6 0 5 1 6 0 6 1 6 0 6 0 5 1 6 0 6 0 6 1 6 0 5 1 6 0 6 0 6 1 6 0 5 1 6 0 6 0 6 1 5 0 6 1 6 0 6 0 6 1 5 0 6 1 6 0 6 0 6 1 5 0 6 1 6 0 6 0 6 1 5 0 6 1 6 0 6 0 5 1 6 0 6 0 6 1 6 0 5 0 6 1 6 0 6 0 6 1 5 0 6 0 6 1 6 0 6 1 5 0 6 0 6 1 6 0 5 1 6 0 6 0 6 1 6 0 5 1 6 0 6 1 6 0 6 1 5 0 6 1 6 1 6 0 6 1 5 0 6 1 6 0 6 1 5 1 6 0 6 1 6 1 6 0 5 1 6 1 6 0 6 1 6 1 5 0 6 1 6 1 6 0 6 1 5 1 6 0 6 1 6 1 5 0 6 1 6 1 6 0 6 1 5 0 6 1 6 0 6 1 6 1 5 0 6 0 6 0 6 0 6 0 5 0 6 0 6 0 6 0 5 0 6 0 6 0 6 0 6 0 5 0 6 0 6 0 6 0 6 0 5 0 6 0 6 0 6 0 6 0 5 0 6 0 6 0 6 0 5 0 6 0 6 0 6 0 6 0 5 0 6 0 6 0 6 0 6 0 5 0 6 0 6 0 6 0 6 0 5 0 6 0 6 0 6 0 5 0 6 0 6 0 6 0 6 0 5 0 6 0 6 0 6 0 6 0 5-1 6 0 6 0 6 0 6 0 5 0 6 0 6-1 6 0 5 0 6 0 6 0 6 0 6 0 5 0 6 0 6 0 6 0 6 0 5 0 6 0 6 0 6 0 6 0 5 0 6 0 6 0 6 0 5 0 6 0 6 0 6 0 6 0 5 0 6 1 6 0 6 0"/>
<path transform="scale(.1)" fill="none" stroke="#d99aa2" stroke-width="7"  d="M565 6392l6 0 6 0 5 0 6 0 6 0 6 0 6 0 5 0 6 0 6 0 6 0 5 0 6 0 6 0 6 0 6 0 5 0 6 0 6 0 6 0 6 0 5 0 6 0 6 0 6 0 6 0 5 0 6 0 6 0 6 0 5 0 6 0 6 0 6 0 6 0 5 0 6 0 6 0 6 0 6 0 5 0 6 0 6 0 6 0 6 0 5 0 6 0 6 0 6 0 5 0 6 0 6 0 6 0 6 0 5 0 6 0 6 0 6 0 6 0 5 0 6 0 6 0 6 0 6 0 5 0 6 0 6 0 6 0 5 0 6 0 6 0 6 0 6 0 5 0 6 0 6 0 6 0 6 0 5 0 6 0 6 0 6 0 6 0 5 0 6 0 6 0 6 0 5 0 6 0 6 0 6 0 6 0 5 0 6 0 6 0 6 0 6 0 5 0 6 0 6 0 6 0 6 0 5 0 6 0 6 0 6 0 5 0 6 0 6 0 6 0 6 0 5 0 6 0 6 0 6 0 6 0 5 0 6 0 6 0 6 0 6 0 5 0 6 0 6 0 6 0 5 0 6 0 6 0 6 0 6 0 5 0 6 0 6 0 6 0 6 0 5 0 6 0 6 0 6 0 6 0 5 0 6 0 6 0 6 0 5 0 6 0 6 0 6 0 6 0 5 0 6 0 6 0 6 0 6 0 5 0 6 0 6 0 6 0 6 0 5 0 6 0 6 0 6 0 5 0 6 0 6 0 6 0 6 0 5 0 6 0 6 0 6 0 6 0 5 0 6 0 6 0 6 0 6 0 5 0 6 0 6 0 6 0 5 0 6 0 6 0 6 0 6 0 5 0 6 0 6 0 6 0 6 0 5 0 6 0 6 0 6 0 6 0 5 0 6 0 6 0 6 0 5 0 6 0 6 0 6 0 6 0 5 0 6 0 6 0 6 0 6 0 5 0 6 0 6 0 6 0 6 0 5 0 6 0 6 0 6 0 5 0 6 0 6 0 6 0 6 0 5 0 6 0 6 0 6 0 6 0 5 0 6 0 6 0 6 0 6 0 5 0 6 0 6 0 6 0 5 0 6 0 6 0 6 0 6 0 5 0 6 0 6 0 6 0 6 0 5 0 6 0 6 0 6 0 6 0 5-1 6 0 6 0 6 0 5 0 6 0 6 0 6 0 6 0 5 0 6 0 6 0 6-1 6 0 5 0 6 0 6 0 6 0 6 0 5-1 6 0 6 0 6 0 5-1 6 0 6 0 6 0 6-1 5 0 6 0 6-1 6 0 6 0 5-1 6 0 6-1 6 0 6-1 5 0 6-1 6 0 6-1 5 0 6-1 6 0 6-1 6 0 5-1 6 0 6-1 6-1 6 0 5-1 6-1 6 0 6-1 6 0 5-1 6-1 6 0 6-1 5-1 6 0 6-1 6 0 6-1 5 0 6-1 6-1 6 0 6 0 5-1 6 0 6-1 6 0 6 0 5-1 6 0 6 0 6 0 5-1 6 0 6 0 6 0 6 0 5 0 6 0 6 0 6 0 6 0 5 1 6 0 6 0 6 0 6 1 5 0 6 0 6 1 6 0 5 1 6 0 6 0 6 1 6 1 5 0 6 1 6 0 6 1 6 0 5 1 6 1 6 0 6 1 6 0 5 1 6 1 6 0 6 1 5 1 6 0 6 1 6 0 6 1 5 1 6 0 6 1 6 0 6 1 5 0 6 1 6 0 6 1 6 0 5 1 6 0 6 1 6 0 5 1 6 0 6 0 6 1 6 0 5 0 6 1 6 0 6 0 6 0 5 1 6 0 6 0 6 0 6 0 5 1 6 0 6 0 6 0 5 0 6 0 6 1 6 0 6 0 5 0 6 0 6 0 6 0"/>
<path transform="scale(.1)" fill="none" stroke="#d99aa2" stroke-width="7"  d="M565 6387l6 0 6 0 5 0 6 0 6 0 6 0 6-1 5 0 6 0 6 0 6 0 5 0 6 0 6 0 6-1 6 0 5 0 6 0 6 0 6 0 6-1 5 0 6 0 6 0 6 0 6 0 5-1 6 0 6 0 6 0 5 0 6-1 6 0 6 0 6 0 5 0 6 0 6-1 6 0 6 0 5 0 6 0 6-1 6 0 6 0 5 0 6-1 6 0 6 0 5 0 6 0 6-1 6 0 6 0 5 0 6-1 6 0 6 0 6 0 5-1 6 0 6 0 6 0 6-1 5 0 6 0 6 0 6-1 5 0 6 0 6 0 6-1 6 0 5 0 6 0 6-1 6 0 6 0 5 0 6-1 6 0 6 0 6 0 5-1 6 0 6 0 6 0 5-1 6 0 6 0 6 0 6-1 5 0 6 0 6 0 6-1 6 0 5 0 6 0 6-1 6 0 6 0 5 0 6-1 6 0 6 0 5 0 6-1 6 0 6 0 6 0 5 0 6-1 6 0 6 0 6 0 5-1 6 0 6 0 6 0 6 0 5 0 6-1 6 0 6 0 5 0 6 0 6-1 6 0 6 0 5 0 6 0 6 0 6 0 6-1 5 0 6 0 6 0 6 0 6 0 5 0 6 0 6 0 6-1 5 0 6 0 6 0 6 0 6 0 5 0 6 0 6 0 6 0 6 0 5 0 6 0 6 0 6 0 6 0 5 0 6 0 6 0 6 0 5 0 6 0 6 0 6 0 6 0 5 0 6 0 6 0 6 0 6 0 5 0 6 0 6 0 6 0 6 0 5 0 6 0 6 1 6 0 5 0 6 0 6 0 6 0 6 0 5 0 6 1 6 0 6 0 6 0 5 0 6 0 6 0 6 1 6 0 5 0 6 0 6 0 6 0 5 1 6 0 6 0 6 0 6 0 5 1 6 0 6 0 6 0 6 0 5 1 6 0 6 0 6 0 6 1 5 0 6 0 6 0 6 0 5 1 6 0 6 0 6 0 6 1 5 0 6 0 6 0 6 1 6 0 5 0 6 0 6 1 6 0 6 0 5 0 6 1 6 0 6 0 5 0 6 1 6 0 6 0 6 1 5 0 6 0 6 0 6 1 6 0 5 0 6 0 6 1 6 0 6 0 5 0 6 1 6 0 6 0 5 0 6 1 6 0 6 0 6 0 5 1 6 0 6 0 6 0 6 1 5 0 6 0 6 0 6 0 6 1 5 0 6 0 6 0 6 1 5 0 6 0 6 0 6 0 6 1 5 0 6 0 6 0 6 0 6 1 5 0 6 0 6 0 6 0 6 1 5 0 6 0 6 0 6 0 5 1 6 0 6 0 6 0 6 0 5 0 6 1 6 0 6 0 6 0 5 0 6 0 6 0 6 1 6 0 5 0 6 0 6 0 6 0 5 0 6 1 6 0 6 0 6 0 5 0 6 0 6 0 6 0 6 1 5 0 6 0 6 0 6 0 6 0 5 0 6 0 6 0 6 0 5 1 6 0 6 0 6 0 6 0 5 0 6 0 6 0 6 0 6 0 5 0 6 0 6 1 6 0 6 0 5 0 6 0 6 0 6 0 5 0 6 0 6 0 6 0 6 0 5 0 6 0 6 0 6 0 6 0 5 0 6 1 6 0 6 0 6 0 5 0 6 0 6 0 6 0 5 0 6 0 6 0 6 0 6 0 5 0 6 0 6 0 6 0 6 0 5 0 6 0 6 0 6 0 6 0 5 0 6 0 6 0 6 0 5 0 6 0 6 0 6 0 6 0 5 1 6 0 6 0 6 0 6 0 5 0 6 0 6 0 6 0 6 0 5 0 6 0 6 0 6 0 5 0 6 0 6 0 6 0 6 0 5 0 6 0 6 0 6 0"/>
<path transform="scale(.1)" fill="none" stroke="#d99aa2" stroke-width="7"  d="M565 6391l6 0 6 0 5 0 6 0 6 0 6 0 6 0 5 0 6 0 6 0 6 0 5 0 6 0 6 0 6 0 6 0 5 0 6 0 6 0 6 0 6 0 5 0 6 0 6 0 6 0 6 0 5 0 6 0 6 0 6 0 5 0 6 0 6 0 6 0 6 0 5 0 6 0 6 0 6 0 6 0 5-1 6 0 6 0 6 0 6 0 5 0 6 0 6 0 6 0 5 0 6 0 6 0 6 0 6 0 5 0 6 0 6 0 6 0 6 0 5 0 6 0 6 0 6-1 6 0 5 0 6 0 6 0 6 0 5 0 6 0 6 0 6 0 6 0 5 0 6 0 6 0 6 0 6 0 5-1 6 0 6 0 6 0 6 0 5 0 6 0 6 0 6 0 5 0 6 0 6 0 6 0 6-1 5 0 6 0 6 0 6 0 6 0 5 0 6 0 6 0 6 0 6 0 5-1 6 0 6 0 6 0 5 0 6 0 6 0 6 0 6 0 5 0 6-1 6 0 6 0 6 0 5 0 6 0 6 0 6 0 6 0 5-1 6 0 6 0 6 0 5 0 6 0 6 0 6 0 6 0 5-1 6 0 6 0 6 0 6 0 5 0 6 0 6 0 6-1 6 0 5 0 6 0 6 0 6 0 5 0 6 0 6-1 6 0 6 0 5 0 6 0 6 0 6 0 6-1 5 0 6 0 6 0 6 0 6 0 5 0 6 0 6-1 6 0 5 0 6 0 6 0 6 0 6 0 5 0 6-1 6 0 6 0 6 0 5 0 6 0 6 0 6-1 6 0 5 0 6 0 6 0 6 0 5 0 6 0 6-1 6 0 6 0 5 0 6 0 6 0 6 0 6 0 5-1 6 0 6 0 6 0 6 0 5 0 6 0 6 0 6 0 5-1 6 0 6 0 6 0 6 0 5 0 6 0 6 0 6 0 6 0 5-1 6 0 6 0 6 0 6 0 5 0 6 0 6 0 6 0 5 0 6 0 6 0 6 0 6-1 5 0 6 0 6 0 6 0 6 0 5 0 6 0 6 0 6 0 6 0 5 0 6 0 6 0 6 0 5 0 6 0 6 0 6 0 6 0 5-1 6 0 6 0 6 0 6 0 5 0 6 0 6 0 6 0 6 0 5 0 6 0 6 0 6 0 5 0 6 0 6 0 6 0 6 0 5 0 6 0 6 0 6 1 6 0 5 0 6 0 6 0 6 0 6 0 5 0 6 0 6 0 6 0 5 0 6 0 6 0 6 0 6 0 5 0 6 0 6 0 6 0 6 0 5 1 6 0 6 0 6 0 6 0 5 0 6 0 6 0 6 0 5 0 6 0 6 0 6 0 6 1 5 0 6 0 6 0 6 0 6 0 5 0 6 0 6 0 6 0 6 1 5 0 6 0 6 0 6 0 5 0 6 0 6 0 6 0 6 1 5 0 6 0 6 0 6 0 6 0 5 0 6 0 6 1 6 0 6 0 5 0 6 0 6 0 6 0 5 0 6 1 6 0 6 0 6 0 5 0 6 0 6 0 6 1 6 0 5 0 6 0 6 0 6 0 6 0 5 0 6 1 6 0 6 0 5 0 6 0 6 0 6 0 6 1 5 0 6 0 6 0 6 0 6 0 5 0 6 0 6 1 6 0 6 0 5 0 6 0 6 0 6 0 5 0 6 1 6 0 6 0 6 0 5 0 6 0 6 0 6 0 6 1 5 0 6 0 6 0 6 0 6 0 5 0 6 0 6 0 6 1 5 0 6 0 6 0 6 0 6 0 5 0 6 0 6 0 6 1 6 0 5 0 6 0 6 0 6 0 6 0 5 0 6 0 6 0 6 1 5 0 6 0 6 0 6 0 6 0 5 0 6 0 6 0 6 0"/>
<path transform="scale(.1)" fill="none" stroke="#000" stroke-width="12.5"  d="M565 6388l6 0 6 1 5 3 6-4 6 2 6-5 6-1 5-1 6 0 6-1 6 2 5-1 6-2 6-4 6 9 6-3 5-3 6 2 6-2 6-2 6 2 5-5 6 0 6-1 6 0 6-1 5 10 6-11 6 4 6-9 5 7 6-3 6 4 6-1 6-4 5-2 6-3 6 1 6-2 6-2 5 8 6-8 6 5 6-4 6 1 5-4 6 0 6 0 6 2 5-17 6 14 6 0 6-1 6-2 5-4 6 1 6 1 6 2 6 2 5-9 6 2 6 1 6 4 6-4 5-3 6-1 6 2 6-2 5 0 6 0 6-5 6 1 6 0 5 2 6-6 6 7 6-5 6 3 5 2 6-5 6 4 6-5 6 2 5-4 6 0 6 3 6-4 5 0 6-6 6-1 6 1 6-1 5-4 6 5 6-1 6-4 6 2 5 4 6-8 6 3 6-4 6-1 5 5 6-2 6-2 6 4 5-1 6-4 6 0 6 2 6-3 5-2 6 2 6 0 6-2 6 2 5-2 6-1 6 3 6-4 6-3 5 3 6-7 6 2 6-3 5 3 6-2 6 1 6 3 6-5 5 3 6-4 6 4 6-3 6 1 5-4 6 4 6-4 6 2 6-3 5 5 6-3 6 0 6 1 5 2 6-3 6 8 6-5 6 4 5-3 6 0 6 2 6 2 6 2 5 2 6-1 6-3 6 6 6-11 5 8 6 2 6-4 6 0 5 2 6 4 6-2 6-3 6 2 5 8 6-8 6-2 6 7 6 4 5-3 6-2 6 1 6 1 6 8 5-20 6 14 6-1 6-3 5 5 6-4 6-1 6 2 6 4 5-5 6-201 6 206 6 4 6-1 5 0 6-6 6 3 6 1 6 2 5 0 6 2 6-1 6-5 5 5 6-6 6 5 6 2 6-4 5-99 6 101 6 4 6-74 6 72 5 1 6-1 6 4 6 5 6-3 5-5 6-1 6 8 6-5 5 1 6 5 6 2 6-9 6 4 5-514 6 514 6 7 6-6 6 2 5 1 6-21 6 21 6 0 6 2 5-41 6 41 6-4 6 10 5-2 6-1 6-3 6 4 6-3 5 8 6-3 6-4 6 9 6-7 5-3 6 3 6 0 6 5 6-1 5-4 6 2 6-3 6 4 5 1 6 0 6-3 6 1 6 5 5-3 6 4 6-4 6 3 6-4 5 0 6 2 6 7 6-3 6-2 5 0 6 0 6-1 6 5 5 2 6 0 6-6 6 1 6 4 5-1 6-4 6 5 6-2 6 0 5 1 6-1 6 0 6 4 6 4 5-4 6 4 6 1 6-7 5 5 6-1 6-1 6 3 6-4 5-3 6 8 6-2 6 7 6-4 5-7 6 5 6 1 6-2 6 2 5-4 6 4 6 2 6-1 5 7 6-8 6 0 6-28 6 37 5-6 6-2 6-3 6 7 6 0 5-2 6-4 6 7 6-1 6 1 5-5 6-1 6-15 6 15 5 2 6 4 6-2 6-2 6 1 5 5 6-1 6 0 6-3 6 2 5 2 6-3 6 1 6 3 6-4 5 3 6 0 6 3 6-3 5-1 6 8 6-4 6-1 6-2 5 5 6-9 6 7 6 2 6-2 5-3 6 3 6 2 6-2 6 0 5 1 6 3 6-4 6-10 5 12 6-1 6 7 6-6 6-1 5 3 6-1 6 3 6-5 6 2 5 4 6-2 6-2 6 0 6-6 5 8 6-1 6 3 6-4 5 4 6-3 6 3 6 1 6 0 5-16 6 17 6-6 6 3 6 4 5-3 6 2 6-3 6-2 6-2 5 7 6 0 6 1 6-2 5 2 6-7 6 6 6 0 6 8 5-9 6 4 6-10 6 5"/>
<path transform="scale(.1)" fill="none" stroke="#cc2020" stroke-width="8" stroke-dasharray="16,16" d="M565 6382l6 0 6-1 5 0 6-1 6 0 6-1 6 0 5-1 6 0 6-1 6 0 5-1 6 0 6-1 6 0 6-1 5 0 6-1 6 0 6-1 6 0 5 0 6-1 6 0 6-1 6 0 5-1 6 0 6 0 6-1 5 0 6-1 6 0 6-1 6 0 5 0 6-1 6 0 6-1 6 0 5-1 6 0 6-1 6 0 6-1 5 0 6-1 6 0 6-1 5 0 6 0 6-1 6 0 6-1 5 0 6-1 6 0 6-1 6 0 5 0 6-1 6 0 6-1 6 0 5-1 6 0 6-1 6 0 5 0 6-1 6 0 6-1 6 0 5-1 6 0 6-1 6 0 6-1 5 0 6-1 6 0 6-1 6 0 5-1 6 0 6-1 6 0 5-1 6-1 6 0 6-1 6 0 5-1 6-1 6 0 6-1 6-1 5 0 6-1 6-1 6 0 6-1 5-1 6 0 6-1 6-1 5-1 6 0 6-1 6-1 6-1 5 0 6-1 6-1 6-1 6 0 5-1 6-1 6-1 6 0 6-1 5-1 6 0 6-1 6-1 5 0 6-1 6 0 6-1 6 0 5-1 6 0 6 0 6 0 6-1 5 0 6 0 6 0 6 0 6 0 5 0 6 0 6 0 6 1 5 0 6 0 6 1 6 0 6 1 5 0 6 1 6 0 6 1 6 0 5 1 6 0 6 1 6 0 6 0 5 1 6 0 6 1 6 0 5 1 6 0 6 0 6 1 6 0 5 0 6 1 6 0 6 0 6 1 5 0 6 1 6 0 6 0 6 1 5 0 6 0 6 1 6 0 5 0 6 1 6 0 6 0 6 1 5 0 6 0 6 1 6 0 6 0 5 1 6 0 6 0 6 1 6 0 5 0 6 1 6 0 6 0 5 0 6 1 6 0 6 0 6 1 5 0 6 0 6 1 6 0 6 0 5 1 6 0 6 0 6 1 6 0 5 1 6 0 6 0 6 1 5 0 6 1 6 0 6 0 6 1 5 0 6 1 6 0 6 0 6 1 5 0 6 1 6 0 6 0 6 1 5 0 6 1 6 0 6 0 5 1 6 0 6 1 6 0 6 0 5 1 6 0 6 1 6 0 6 0 5 1 6 0 6 1 6 0 6 0 5 1 6 0 6 0 6 1 5 0 6 0 6 1 6 0 6 0 5 0 6 1 6 0 6 0 6 0 5 1 6 0 6 0 6 1 6 0 5 0 6 0 6 1 6 0 5 0 6 0 6 1 6 0 6 0 5 1 6 0 6 0 6 0 6 1 5 0 6 0 6 0 6 1 6 0 5 0 6 1 6 0 6 0 5 0 6 1 6 0 6 0 6 0 5 1 6 0 6 0 6 1 6 0 5 0 6 0 6 1 6 0 6 0 5 0 6 1 6 0 6 0 5 0 6 1 6 0 6 0 6 0 5 0 6 1 6 0 6 0 6 0 5 0 6 1 6 0 6 0 6 0 5 1 6 0 6 0 6 0 5 0 6 1 6 0 6 0 6 0 5 0 6 1 6 0 6 0 6 0 5 1 6 0 6 0 6 0 6 0 5 1 6 0 6 0 6 0 5 0 6 1 6 0 6 0 6 0 5 1 6 0 6 0 6 0 6 0 5 1 6 0 6 0 6 0 6 0 5 1 6 0 6 0 6 0 5 0 6 1 6 0 6 0 6 0 5 0 6 0 6 1 6 0 6 0 5 0 6 0 6 0 6 1 6 0 5 0 6 0 6 0 6 0 5 1 6 0 6 0 6 0 6 0 5 0 6 1 6 0 6 0 6 0 5 0 6 1 6 0 6 0 6 0 5 0 6 0 6 1 6 0 5 0 6 0 6 0 6 0 6 1 5 0 6 0 6 0 6 0"/>
<line x1="56.8" y1="686.2" x2="298.6" y2="686.2" stroke="#d99aa2" stroke-width="0.9" />
<path transform="scale(.1)" fill="none" stroke="#d99aa2" stroke-width="7"  d="M565 6839l6 0 6-1 5 0 6-1 6 0 6-1 6 0 5-1 6-1 6 0 6-1 5-1 6-1 6 0 6-1 6-1 5 0 6-1 6-1 6 0 6-1 5-1 6 0 6-1 6-1 6 0 5-1 6-1 6 0 6-1 5-1 6 0 6-1 6-1 6-1 5 0 6-1 6-1 6-1 6-1 5-1 6-1 6-1 6-1 6-2 5-1 6-2 6-1 6-2 5-1 6-2 6-2 6-1 6-2 5-2 6-1 6-2 6-2 6-1 5-2 6-1 6-2 6-2 6-1 5-2 6-2 6-1 6-2 5-2 6-1 6-2 6-2 6-2 5-1 6-2 6-2 6-1 6-2 5-2 6-2 6-1 6-2 6-2 5-2 6-1 6-2 6-2 5-2 6-1 6-2 6-2 6-2 5-1 6-2 6-2 6-2 6-1 5-2 6-2 6-2 6-1 6-2 5-2 6-2 6-2 6-1 5-2 6-2 6-2 6-2 6-1 5-2 6-2 6-2 6-2 6-1 5-2 6-2 6-1 6-2 6-1 5-2 6-1 6-1 6-1 5-1 6-1 6-1 6-1 6-1 5-1 6-1 6 0 6-1 6 0 5 0 6 0 6 0 6 0 6 1 5 0 6 1 6 0 6 1 5 0 6 1 6 0 6 1 6 1 5 0 6 1 6 1 6 1 6 1 5 0 6 1 6 1 6 1 6 1 5 1 6 1 6 0 6 1 5 1 6 1 6 1 6 1 6 1 5 1 6 0 6 1 6 1 6 1 5 1 6 1 6 1 6 1 6 1 5 1 6 1 6 2 6 1 5 1 6 1 6 1 6 1 6 1 5 2 6 1 6 1 6 1 6 1 5 1 6 2 6 1 6 1 6 1 5 1 6 1 6 1 6 2 5 1 6 1 6 1 6 1 6 1 5 1 6 2 6 1 6 1 6 1 5 1 6 2 6 1 6 1 6 1 5 1 6 2 6 1 6 1 5 1 6 2 6 1 6 1 6 1 5 1 6 2 6 1 6 1 6 1 5 2 6 1 6 1 6 1 6 2 5 1 6 1 6 1 6 1 5 1 6 2 6 1 6 1 6 1 5 1 6 1 6 1 6 1 6 2 5 1 6 1 6 1 6 1 6 1 5 1 6 1 6 2 6 1 5 1 6 1 6 1 6 1 6 1 5 2 6 1 6 1 6 1 6 1 5 1 6 2 6 1 6 1 6 1 5 1 6 1 6 1 6 1 5 0 6 1 6 1 6 1 6 0 5 1 6 1 6 0 6 1 6 1 5 1 6 0 6 1 6 1 6 1 5 0 6 1 6 1 6 1 5 1 6 0 6 1 6 1 6 1 5 1 6 1 6 1 6 0 6 1 5 1 6 1 6 1 6 1 6 1 5 1 6 0 6 1 6 1 5 1 6 1 6 1 6 0 6 1 5 1 6 1 6 0 6 1 6 1 5 0 6 1 6 0 6 1 6 0 5 1 6 0 6 0 6 1 5 0 6 0 6 1 6 0 6 0 5 1 6 0 6 0 6 0 6 0 5 1 6 0 6 0 6 0 6 0 5 0 6 0 6 0 6 0 5 0 6 0 6 0 6 0 6 0 5 0 6 0 6 0 6 0 6 0 5-1 6 0 6 0 6 0 6 0 5 0 6 0 6 0 6 0 5 0 6-1 6 0 6 0 6 0 5 0 6 0 6 0 6 0 6 0 5-1 6 0 6 0 6 0 6 0 5 0 6 0 6 0 6 0 5 0 6 0 6 0 6 0 6 0 5 0 6 0 6 0 6 0 6 0 5 0 6 0 6 0 6 0 6 0 5 1 6 0 6 0 6 0 5 0 6 0 6 0 6 0 6 0 5 1 6 0 6 0 6 0"/>
<path transform="scale(.1)" fill="none" stroke="#d99aa2" stroke-width="7"  d="M565 6862l6 0 6 0 5 0 6 0 6 0 6 0 6 0 5 0 6 0 6 0 6 0 5 0 6 0 6 0 6 0 6 0 5 0 6 0 6 0 6 0 6 0 5 0 6 0 6 0 6 0 6 0 5 0 6 0 6 0 6 0 5 0 6 0 6 0 6 0 6 0 5 0 6 0 6 0 6 0 6 0 5 0 6 0 6 0 6 0 6 0 5 0 6 0 6 0 6 0 5 0 6 0 6 0 6 0 6 0 5 0 6 0 6 0 6 0 6 0 5 0 6 0 6 0 6 0 6 0 5 0 6 0 6 0 6 0 5 0 6 0 6 0 6 0 6 0 5 0 6 0 6 0 6 0 6 0 5 0 6 0 6 0 6 0 6 0 5 0 6 0 6 0 6 0 5 0 6 0 6 0 6 0 6 0 5 0 6 0 6 0 6 0 6 0 5 0 6 0 6 0 6 0 6 0 5 0 6 0 6 0 6 0 5 0 6 0 6 0 6 0 6 0 5 0 6 0 6 0 6 0 6 0 5 0 6 0 6 0 6 0 6 0 5 0 6 0 6 0 6 0 5 0 6 0 6 0 6 0 6 0 5 0 6 0 6 0 6 0 6 0 5 0 6 0 6 0 6 0 6 0 5 0 6 0 6 0 6 0 5 0 6 0 6 0 6 0 6 0 5 0 6 0 6 0 6 0 6 0 5 0 6 0 6 0 6 0 6 0 5 0 6 0 6 0 6 0 5 0 6 0 6 0 6 0 6 0 5 0 6 0 6 0 6 0 6 0 5 0 6 0 6 0 6 0 6 0 5 0 6 0 6 0 6 0 5 0 6 0 6 0 6 0 6 0 5 0 6 0 6 0 6 0 6 0 5 0 6 0 6 0 6 0 6 0 5 0 6 0 6 0 6 0 5 0 6 0 6 0 6 0 6 0 5 0 6 0 6 0 6 0 6 0 5 0 6 0 6 0 6 0 6 0 5 0 6 0 6 0 6 0 5 0 6 0 6 0 6 0 6 0 5 0 6 0 6 0 6 0 6 0 5 0 6 0 6 0 6 0 6 0 5 0 6 0 6 0 6 0 5 0 6 0 6 0 6 0 6 0 5 0 6 0 6 0 6 0 6 0 5 0 6 0 6 0 6 0 6 0 5 0 6 0 6-1 6 0 5 0 6 0 6 0 6 0 6 0 5 0 6 0 6 0 6 0 6 0 5-1 6 0 6 0 6 0 6 0 5 0 6 0 6-1 6 0 5 0 6 0 6 0 6-1 6 0 5 0 6 0 6-1 6 0 6 0 5-1 6 0 6 0 6-1 6 0 5-1 6 0 6 0 6-1 5 0 6-1 6 0 6-1 6 0 5-1 6 0 6-1 6 0 6-1 5 0 6-1 6 0 6-1 6 0 5-1 6 0 6-1 6 0 5-1 6 0 6-1 6 0 6-1 5 0 6-1 6 0 6 0 6-1 5 0 6-1 6 0 6 0 6-1 5 0 6 0 6 0 6 0 5-1 6 0 6 0 6 0 6 0 5 0 6 0 6 0 6 0 6 0 5 1 6 0 6 0 6 0 6 0 5 1 6 0 6 0 6 1 5 0 6 0 6 1 6 0 6 1 5 0 6 1 6 0 6 1 6 0 5 1 6 0 6 1 6 0 6 1 5 0 6 1 6 0 6 1 5 0 6 1 6 0 6 1 6 0 5 1 6 0 6 1 6 0 6 1 5 0 6 1 6 0 6 0 6 1 5 0 6 1 6 0 6 0 5 1 6 0 6 0 6 1 6 0 5 0 6 0 6 1 6 0 6 0 5 0 6 0 6 1 6 0 6 0 5 0 6 0 6 0 6 0 5 1 6 0 6 0 6 0 6 0 5 0 6 0 6 0 6 0"/>
<path transform="scale(.1)" fill="none" stroke="#000" stroke-width="12.5"  d="M565 6841l6-1 6-4 5 0 6-2 6 2 6-4 6 1 5 0 6-3 6 2 6 3 5-1 6-3 6-4 6 4 6-2 5-5 6-1 6 7 6-1 6-4 5-1 6 1 6 2 6-11 6 4 5-4 6 2 6-1 6 6 5-6 6 0 6-1 6 2 6 0 5-4 6-3 6-1 6 1 6-26 5 26 6-1 6-1 6 0 6-6 5 2 6-4 6-3 6-41 5 40 6-52 6 45 6 4 6 0 5-9 6 8 6-12 6 1 6-2 5-2 6 0 6-3 6 7 6-8 5 1 6 0 6-4 6-4 5-3 6 1 6-1 6-9 6 1 5 2 6-2 6-4 6-4 6 2 5-3 6-5 6 6 6-7 6-1 5 1 6-5 6-4 6 2 5-2 6-7 6 2 6 1 6-5 5-3 6 0 6 3 6-5 6 0 5-10 6 5 6-9 6 3 6-2 5-2 6-6 6 6 6-4 5-2 6-4 6 1 6-4 6-4 5 2 6-7 6 2 6-1 6-4 5 1 6-4 6 1 6 0 6-6 5-2 6 1 6-4 6 2 5-8 6 6 6-4 6 1 6-1 5 2 6-7 6 3 6 1 6-5 5 0 6-26 6 27 6-1 6 3 5 5 6-3 6 2 6 2 5-4 6 0 6 9 6-5 6 2 5-3 6 4 6 3 6-7 6 5 5-3 6 4 6 4 6 2 6 1 5-2 6 0 6-3 6 8 5-3 6-1 6 0 6 2 6 2 5 0 6 7 6-3 6 4 6-8 5 4 6 4 6 2 6 1 6-2 5 4 6 1 6 3 6-3 5 1 6 6 6-4 6 4 6-2 5 1 6-64 6 67 6 0 6 8 5-2 6 4 6-4 6 8 6-6 5 5 6-2 6-3 6 7 5 4 6 2 6-4 6 7 6 1 5-4 6-1 6 4 6-3 6 3 5 2 6 2 6 2 6 1 6-1 5 4 6 6 6 2 6-1 5-1 6 5 6-2 6 0 6-1 5 7 6 1 6 2 6 1 6-1 5-4 6 15 6-8 6 1 6-2 5 1 6 4 6 7 6-1 5 0 6 2 6-3 6 5 6 2 5-1 6-2 6 5 6 3 6 0 5-1 6 0 6 4 6 2 6-3 5-3 6 0 6 1 6 10 5-1 6 2 6 2 6 1 6 0 5 0 6-2 6 1 6 6 6 1 5-2 6 2 6 4 6-1 6 7 5-5 6 5 6-4 6 10 5-7 6 4 6-2 6-1 6 3 5-6 6 2 6 5 6-6 6 6 5 0 6-4 6 0 6 6 6-2 5 3 6-2 6 4 6-4 5 8 6-5 6-1 6 3 6 6 5-5 6 4 6-1 6-1 6-4 5 6 6 3 6-7 6 6 6 1 5 0 6 0 6-3 6 10 5-3 6-4 6 2 6 1 6 6 5-7 6 4 6-5 6 11 6-7 5-1 6-2 6 4 6 3 6-3 5 2 6-1 6 6 6-5 5 0 6 0 6-20 6 16 6 0 5 3 6 2 6-3 6 4 6 1 5 1 6-1 6-4 6 1 6 0 5 3 6 3 6-3 6 2 5 2 6-5 6 8 6-1 6 0 5-1 6-1 6-3 6 0 6 4 5 1 6-2 6-19 6 19 6-1 5 0 6 2 6 1 6 6 5-4 6 2 6-1 6-1 6-2 5-1 6 5 6-3 6 0 6 7 5-6 6 1 6 5 6-5 6-2 5 0 6 4 6-3 6-1 5 1 6 6 6-6 6 4 6 1 5-19 6 13 6 0 6 13 6-12 5 10 6-7 6 5 6-4 6-2 5 1 6 3 6 7 6-5 5 0 6-2 6-2 6 5 6-4 5 5 6-1 6-3 6-1"/>
<path transform="scale(.1)" fill="none" stroke="#cc2020" stroke-width="8" stroke-dasharray="16,16" d="M565 6820l6-1 6-1 5 0 6-1 6-1 6-1 6 0 5-1 6-1 6-1 6 0 5-1 6-1 6 0 6-1 6-1 5 0 6-1 6 0 6-1 6 0 5-1 6 0 6-1 6 0 6-1 5 0 6 0 6-1 6 0 5 0 6 0 6-1 6 0 6 0 5 0 6-1 6 0 6 0 6-1 5 0 6-1 6 0 6-1 6-1 5-1 6-1 6-1 6 0 5-1 6-1 6-1 6-1 6-1 5-1 6-1 6-1 6-1 6-1 5-1 6-1 6-1 6-1 6-1 5-1 6-1 6-1 6-1 5-1 6-2 6-1 6-1 6-1 5-1 6-2 6-1 6-1 6-2 5-1 6-2 6-1 6-2 6-1 5-2 6-1 6-2 6-1 5-2 6-2 6-2 6-1 6-2 5-2 6-2 6-2 6-2 6-2 5-2 6-2 6-2 6-2 6-2 5-2 6-2 6-2 6-2 5-2 6-3 6-2 6-2 6-2 5-2 6-3 6-2 6-2 6-2 5-2 6-2 6-2 6-2 6-2 5-2 6-2 6-1 6-2 5-1 6-2 6-1 6-1 6-1 5-1 6-1 6-1 6-1 6 0 5-1 6 0 6 0 6 0 6 0 5 0 6 1 6 0 6 0 5 1 6 0 6 1 6 0 6 1 5 1 6 0 6 1 6 1 6 1 5 0 6 1 6 1 6 1 6 1 5 0 6 1 6 1 6 1 5 1 6 1 6 1 6 1 6 0 5 1 6 1 6 1 6 1 6 1 5 1 6 1 6 1 6 1 6 1 5 1 6 1 6 2 6 1 5 1 6 1 6 1 6 1 6 2 5 1 6 1 6 1 6 1 6 2 5 1 6 1 6 1 6 1 6 1 5 2 6 1 6 1 6 1 5 1 6 2 6 1 6 1 6 1 5 1 6 2 6 1 6 1 6 1 5 1 6 2 6 1 6 1 6 1 5 2 6 1 6 1 6 1 5 2 6 1 6 1 6 1 6 2 5 1 6 1 6 2 6 1 6 1 5 1 6 2 6 1 6 1 6 1 5 2 6 1 6 1 6 1 5 1 6 2 6 1 6 1 6 1 5 1 6 1 6 2 6 1 6 1 5 1 6 1 6 1 6 1 6 1 5 2 6 1 6 1 6 1 5 1 6 1 6 1 6 2 6 1 5 1 6 1 6 1 6 1 6 1 5 2 6 1 6 1 6 1 6 1 5 1 6 0 6 1 6 1 5 1 6 0 6 1 6 0 6 1 5 1 6 0 6 1 6 0 6 1 5 0 6 1 6 0 6 1 6 0 5 1 6 0 6 1 6 0 5 1 6 1 6 0 6 1 6 0 5 1 6 0 6 1 6 0 6 1 5 0 6 1 6 0 6 1 6 0 5 1 6 1 6 0 6 1 5 0 6 1 6 0 6 1 6 0 5 1 6 0 6 0 6 1 6 0 5 1 6 0 6 0 6 0 6 1 5 0 6 0 6 1 6 0 5 0 6 0 6 1 6 0 6 0 5 0 6 1 6 0 6 0 6 0 5 1 6 0 6 0 6 0 6 1 5 0 6 0 6 0 6 1 5 0 6 0 6 0 6 1 6 0 5 0 6 0 6 1 6 0 6 0 5 0 6 1 6 0 6 0 6 0 5 1 6 0 6 0 6 0 5 1 6 0 6 0 6 0 6 1 5 0 6 0 6 0 6 1 6 0 5 0 6 0 6 0 6 1 6 0 5 0 6 0 6 0 6 1 5 0 6 0 6 0 6 0 6 1 5 0 6 0 6 0 6 0 6 1 5 0 6 0 6 0 6 1 6 0 5 0 6 0 6 0 6 1 5 0 6 0 6 0 6 0 6 1 5 0 6 0 6 0 6 0"/>
<line x1="56.8" y1="732.9" x2="298.6" y2="732.9" stroke="#d99aa2" stroke-width="0.9" />
<path transform="scale(.1)" fill="none" stroke="#d99aa2" stroke-width="7"  d="M565 7274l6-1 6 0 5-1 6-1 6-1 6-1 6-1 5-1 6-1 6-1 6-1 5-1 6-1 6-2 6-1 6-1 5-1 6-2 6-2 6-1 6-2 5-2 6-3 6-2 6-2 6-3 5-3 6-2 6-3 6-3 5-2 6-3 6-3 6-2 6-3 5-3 6-3 6-3 6-3 6-3 5-3 6-3 6-4 6-3 6-4 5-3 6-4 6-4 6-4 5-4 6-4 6-4 6-3 6-4 5-4 6-4 6-4 6-4 6-4 5-4 6-4 6-4 6-3 6-4 5-4 6-4 6-4 6-3 5-4 6-4 6-4 6-3 6-4 5-3 6-4 6-4 6-3 6-4 5-3 6-4 6-4 6-3 6-4 5-3 6-4 6-3 6-4 5-4 6-3 6-4 6-3 6-4 5-3 6-3 6-4 6-3 6-3 5-3 6-4 6-3 6-3 6-3 5-3 6-3 6-3 6-3 5-3 6-3 6-3 6-3 6-3 5-3 6-3 6-3 6-2 6-3 5-3 6-2 6-3 6-3 6-2 5-3 6-2 6-2 6-3 5-2 6-2 6-2 6-1 6-1 5-1 6-1 6 0 6-1 6 1 5 0 6 1 6 0 6 2 6 1 5 1 6 2 6 2 6 2 5 2 6 2 6 3 6 3 6 2 5 3 6 3 6 2 6 3 6 3 5 2 6 3 6 3 6 3 6 3 5 3 6 3 6 3 6 3 5 3 6 3 6 4 6 3 6 3 5 4 6 3 6 4 6 3 6 4 5 3 6 3 6 4 6 3 6 4 5 3 6 4 6 3 6 3 5 4 6 3 6 4 6 3 6 3 5 3 6 4 6 3 6 3 6 3 5 4 6 3 6 3 6 3 6 3 5 3 6 4 6 3 6 3 5 3 6 3 6 3 6 3 6 2 5 3 6 3 6 2 6 3 6 2 5 3 6 2 6 3 6 2 6 3 5 2 6 3 6 2 6 3 5 2 6 3 6 2 6 3 6 2 5 2 6 3 6 2 6 3 6 2 5 2 6 2 6 3 6 2 6 2 5 2 6 2 6 2 6 3 5 2 6 2 6 2 6 2 6 2 5 2 6 3 6 2 6 2 6 2 5 2 6 2 6 2 6 3 6 2 5 2 6 2 6 1 6 2 5 2 6 1 6 2 6 1 6 1 5 1 6 2 6 1 6 1 6 1 5 1 6 1 6 1 6 1 6 1 5 2 6 1 6 1 6 1 5 1 6 1 6 1 6 2 6 1 5 1 6 1 6 1 6 2 6 1 5 1 6 2 6 1 6 1 6 1 5 2 6 1 6 1 6 1 5 1 6 1 6 1 6 1 6 1 5 1 6 1 6 1 6 1 6 1 5 1 6 1 6 1 6 1 6 1 5 1 6 1 6 1 6 1 5 1 6 1 6 1 6 1 6 1 5 1 6 0 6 1 6 1 6 1 5 1 6 1 6 0 6 1 6 1 5 0 6 1 6 1 6 0 5 1 6 0 6 1 6 0 6 1 5 0 6 1 6 0 6 0 6 1 5 0 6 0 6 0 6 1 6 0 5 0 6 0 6 0 6 1 5 0 6 0 6 0 6 0 6 0 5 0 6 0 6 0 6 0 6 0 5 0 6 0 6 0 6 0 6 0 5 0 6 0 6 0 6 0 5 0 6 0 6 0 6 0 6 0 5 0 6 0 6 0 6 0 6 0 5 0 6 0 6 0 6 0 6 0 5 0 6 1 6 0 6 0 5 0 6 0 6 0 6 0 6 0 5 0 6 0 6 0 6 0 6 0 5 1 6 0 6 0 6 0 6 0 5 0 6 0 6 1 6 0 5 0 6 0 6 0 6 0 6 1 5 0 6 0 6 0 6 0"/>
<path transform="scale(.1)" fill="none" stroke="#d99aa2" stroke-width="7"  d="M565 7329l6 0 6 0 5 0 6 0 6 0 6 0 6 0 5 0 6 0 6 0 6 0 5 0 6 0 6 0 6 0 6 0 5 0 6 0 6 0 6 0 6 0 5 0 6 0 6 0 6 0 6 0 5 0 6 0 6 0 6 0 5 0 6 0 6 0 6 0 6 0 5 0 6 0 6 0 6 0 6 0 5 0 6 0 6 0 6 0 6 0 5 0 6 0 6 0 6 0 5 0 6 0 6 0 6 0 6 0 5 0 6 0 6 0 6 0 6 0 5 0 6 0 6 0 6 0 6 0 5 0 6 0 6 0 6 0 5 0 6 0 6 0 6 0 6 0 5 0 6 0 6 0 6 0 6 0 5 0 6 0 6 0 6 0 6 0 5 0 6 0 6 0 6 0 5 0 6 0 6 0 6 0 6 0 5 0 6 0 6 0 6 0 6 0 5 0 6 0 6 0 6 0 6 0 5 0 6 0 6 0 6 0 5 0 6 0 6 0 6 0 6 0 5 0 6 0 6 0 6 0 6 0 5 0 6 0 6 0 6 0 6 0 5 0 6 0 6 0 6 0 5 0 6 0 6 0 6 0 6 0 5 0 6 0 6 0 6 0 6 0 5 0 6 0 6 0 6 0 6 0 5 0 6 0 6 0 6 0 5 0 6 0 6 0 6 0 6 0 5 0 6 0 6 0 6 0 6 0 5 0 6 0 6 0 6 0 6 0 5 0 6 0 6 0 6 0 5 0 6 0 6 0 6 0 6 0 5 0 6 0 6 0 6 0 6 0 5 0 6 0 6 0 6 0 6 0 5 0 6 0 6 0 6 0 5 0 6 0 6 0 6 0 6 0 5 0 6 0 6 0 6 0 6 0 5 0 6 0 6 0 6 0 6 0 5 0 6 0 6 0 6 0 5 0 6 0 6 0 6 0 6 0 5 0 6 0 6 0 6 0 6 0 5 0 6 0 6 0 6 0 6 0 5 0 6 0 6 0 6 0 5 0 6 0 6 0 6 0 6 0 5 0 6 0 6 0 6 0 6 0 5 0 6 0 6 0 6 0 6 0 5 0 6 0 6 0 6 0 5 0 6 0 6 0 6 0 6 0 5 0 6 0 6 0 6 0 6 0 5 0 6 0 6 0 6 0 6-1 5 0 6 0 6 0 6 0 5 0 6 0 6 0 6 0 6 0 5 0 6 0 6-1 6 0 6 0 5 0 6 0 6 0 6-1 6 0 5 0 6 0 6 0 6-1 5 0 6 0 6-1 6 0 6 0 5-1 6 0 6 0 6-1 6 0 5-1 6 0 6-1 6 0 6-1 5 0 6-1 6 0 6-1 5 0 6-1 6-1 6 0 6-1 5 0 6-1 6-1 6 0 6-1 5-1 6-1 6 0 6-1 6-1 5 0 6-1 6-1 6 0 5-1 6-1 6 0 6-1 6-1 5 0 6-1 6 0 6-1 6-1 5 0 6 0 6-1 6 0 6-1 5 0 6 0 6-1 6 0 5 0 6 0 6 0 6 0 6 0 5 0 6 0 6 0 6 0 6 0 5 0 6 0 6 1 6 0 6 0 5 1 6 0 6 1 6 0 5 0 6 1 6 1 6 0 6 1 5 0 6 1 6 1 6 0 6 1 5 1 6 0 6 1 6 1 6 0 5 1 6 1 6 0 6 1 5 1 6 1 6 0 6 1 6 1 5 0 6 1 6 0 6 1 6 1 5 0 6 1 6 0 6 1 6 0 5 1 6 0 6 1 6 0 5 1 6 0 6 1 6 0 6 0 5 1 6 0 6 0 6 1 6 0 5 0 6 1 6 0 6 0 6 0 5 0 6 1 6 0 6 0 5 0 6 0 6 0 6 1 6 0 5 0 6 0 6 0 6 0"/>
<path transform="scale(.1)" fill="none" stroke="#000" stroke-width="12.5"  d="M565 7270l6 1 6-1 5-1 6-1 6-5 6 0 6-33 5 35 6 0 6 1 6-1 5-1 6-4 6-1 6-4 6 1 5 4 6-2 6-5 6-11 6 7 5-5 6-2 6 0 6-6 6 5 5-5 6-2 6-8 6-7 5 4 6-1 6-3 6-6 6-2 5-4 6 0 6-3 6-9 6-3 5-2 6 1 6-9 6-9 6 8 5-9 6-1 6-6 6-4 5-5 6 0 6-6 6-2 6-7 5-3 6-2 6-6 6-2 6-7 5-4 6-4 6 3 6-9 6-3 5-4 6-8 6-24 6 18 5-7 6-4 6-1 6-6 6-6 5 5 6-4 6-4 6-5 6-5 5-7 6 1 6-9 6-4 6-4 5 0 6-1 6-9 6-2 5-2 6-6 6-3 6 0 6-7 5-3 6-71 6 64 6 0 6-6 5-2 6-6 6-2 6-2 6-6 5 1 6-3 6-8 6 2 5-10 6-1 6 0 6-2 6-11 5 3 6-2 6-2 6-2 6-12 5 2 6-1 6-1 6-3 6-7 5 6 6-6 6-2 6-1 5-8 6 1 6-6 6-2 6 5 5-7 6 1 6 1 6-4 6 3 5 1 6 5 6-6 6 4 6-2 5 5 6-2 6 5 6 0 5 10 6-3 6 3 6 3 6 5 5 5 6-4 6 5 6 2 6 0 5 8 6-3 6 5 6 4 6 3 5-1 6 6 6-49 6 60 5-1 6 8 6 2 6 1 6 5 5 8 6 1 6 3 6-26 6 33 5-1 6 6 6 6 6-3 6 8 5 5 6 4 6 1 6 5 5 2 6 2 6 5 6 6 6-2 5 7 6 2 6 10 6-6 6 9 5-1 6 9 6 0 6-1 6 4 5 6 6 2 6 11 6-1 5 2 6 8 6-1 6 1 6 1 5 6 6-2 6-1 6 10 6 1 5 2 6 1 6 12 6-4 6 5 5 5 6 2 6 0 6 1 5 5 6 5 6-1 6-2 6 9 5-2 6 1 6 6 6 4 6 3 5-4 6 4 6 5 6 1 6 5 5 1 6-3 6 5 6 2 5 2 6 6 6 0 6 6 6 5 5-4 6 4 6 2 6 5 6-1 5 2 6 4 6 2 6 3 6 1 5-2 6 7 6-3 6 7 5 0 6-8 6 13 6-5 6 6 5-2 6 0 6 0 6 4 6 3 5-8 6 6 6 1 6 5 6 2 5-4 6-1 6 6 6 3 5-5 6 5 6-1 6 5 6-2 5 3 6 0 6 2 6-2 6 3 5-1 6 3 6-3 6 6 6 0 5-3 6 3 6 3 6 1 5 1 6-4 6 3 6 1 6 5 5-6 6 0 6 0 6 7 6-6 5 5 6-2 6 1 6-1 6 7 5-4 6-1 6-3 6 6 5-1 6-2 6 5 6 1 6-1 5-3 6 5 6-1 6 2 6-1 5-4 6 4 6 0 6 3 6 2 5-4 6-1 6 6 6-1 5 1 6 0 6-13 6 16 6-5 5-1 6 8 6-3 6 1 6 3 5-8 6 2 6 6 6 0 6-1 5-3 6 1 6 3 6 4 5 2 6-4 6-1 6 0 6-2 5 5 6 1 6-3 6 4 6-3 5 10 6-10 6 3 6 1 6-1 5 2 6 5 6-2 6-6 5 6 6 0 6 2 6-1 6 2 5 2 6-3 6 3 6 1 6-5 5 4 6-1 6-3 6 0 6 6 5-2 6 2 6 2 6-16 5 16 6 1 6-1 6-1 6 0 5 2 6-3 6 4 6 1 6-3 5 4 6-3 6 0 6 3 6 1 5-2 6 0 6 3 6 0 5 3 6-5 6-1 6 0 6 3 5-1 6-3 6 3 6 1"/>
<path transform="scale(.1)" fill="none" stroke="#cc2020" stroke-width="8" stroke-dasharray="16,16" d="M565 7253l6-1 6 0 5-1 6-2 6-1 6-1 6-1 5-1 6-1 6-1 6-2 5-1 6-1 6-1 6-1 6-1 5-2 6-1 6-2 6-1 6-2 5-2 6-2 6-2 6-2 6-3 5-2 6-3 6-2 6-2 5-3 6-2 6-2 6-3 6-2 5-2 6-3 6-2 6-3 6-2 5-3 6-3 6-3 6-3 6-3 5-3 6-3 6-3 6-3 5-4 6-3 6-3 6-4 6-3 5-3 6-4 6-3 6-3 6-4 5-3 6-3 6-3 6-4 6-3 5-3 6-4 6-3 6-3 5-3 6-4 6-3 6-3 6-3 5-3 6-4 6-3 6-3 6-3 5-4 6-3 6-3 6-4 6-3 5-4 6-3 6-4 6-3 5-4 6-3 6-4 6-3 6-4 5-4 6-3 6-4 6-3 6-3 5-4 6-3 6-4 6-3 6-4 5-3 6-3 6-4 6-3 5-4 6-3 6-4 6-3 6-3 5-4 6-3 6-3 6-4 6-3 5-3 6-3 6-3 6-3 6-3 5-3 6-3 6-2 6-3 5-3 6-2 6-2 6-2 6-2 5-1 6-1 6-1 6 0 6 0 5 0 6 1 6 0 6 1 6 1 5 2 6 1 6 2 6 2 5 2 6 2 6 3 6 2 6 3 5 3 6 2 6 3 6 3 6 2 5 3 6 3 6 3 6 3 6 3 5 3 6 3 6 3 6 3 5 3 6 4 6 3 6 3 6 4 5 3 6 4 6 3 6 4 6 3 5 4 6 4 6 3 6 4 6 3 5 4 6 3 6 4 6 3 5 4 6 3 6 4 6 3 6 3 5 4 6 3 6 3 6 4 6 3 5 3 6 4 6 3 6 3 6 3 5 4 6 3 6 3 6 3 5 4 6 3 6 3 6 3 6 2 5 3 6 3 6 3 6 2 6 3 5 2 6 3 6 3 6 2 6 3 5 2 6 3 6 2 6 3 5 2 6 3 6 3 6 2 6 3 5 2 6 3 6 2 6 2 6 3 5 2 6 2 6 3 6 2 6 2 5 2 6 3 6 2 6 2 5 2 6 2 6 3 6 2 6 2 5 2 6 2 6 3 6 2 6 2 5 2 6 2 6 3 6 2 6 2 5 2 6 2 6 2 6 1 5 2 6 1 6 2 6 1 6 1 5 1 6 2 6 1 6 1 6 1 5 1 6 1 6 1 6 1 6 1 5 1 6 1 6 1 6 1 5 1 6 1 6 1 6 1 6 1 5 1 6 1 6 1 6 1 6 1 5 1 6 1 6 1 6 1 6 1 5 1 6 0 6 1 6 1 5 1 6 1 6 0 6 1 6 0 5 1 6 1 6 0 6 1 6 0 5 1 6 0 6 1 6 0 6 1 5 0 6 1 6 0 6 1 5 0 6 1 6 0 6 1 6 0 5 1 6 0 6 1 6 0 6 1 5 0 6 1 6 0 6 0 6 1 5 0 6 1 6 0 6 1 5 0 6 1 6 0 6 1 6 0 5 0 6 1 6 0 6 1 6 0 5 1 6 0 6 1 6 0 6 0 5 1 6 0 6 1 6 0 5 1 6 0 6 1 6 0 6 1 5 0 6 1 6 0 6 0 6 1 5 0 6 1 6 0 6 1 6 0 5 1 6 0 6 1 6 0 5 1 6 0 6 1 6 0 6 1 5 0 6 0 6 1 6 0 6 1 5 0 6 1 6 0 6 1 6 0 5 1 6 0 6 0 6 1 5 0 6 1 6 0 6 0 6 1 5 0 6 0 6 0 6 1 6 0 5 0 6 1 6 0 6 0 6 1 5 0 6 0 6 0 6 1 5 0 6 0 6 1 6 0 6 0 5 0 6 1 6 0 6 0"/>
<line x1="56.8" y1="779.4" x2="298.6" y2="779.4" stroke="#d99aa2" stroke-width="0.9" />
<path transform="scale(.1)" fill="none" stroke="#d99aa2" stroke-width="7"  d="M565 7732l6 0 6-1 5-1 6 0 6-1 6-1 6-1 5-1 6-1 6-1 6-1 5-1 6-1 6-1 6-1 6-1 5-2 6-1 6-2 6-1 6-2 5-2 6-2 6-3 6-2 6-3 5-2 6-3 6-2 6-3 5-2 6-3 6-3 6-2 6-3 5-3 6-3 6-2 6-3 6-3 5-3 6-3 6-4 6-3 6-4 5-3 6-4 6-3 6-4 5-4 6-4 6-4 6-3 6-4 5-4 6-4 6-3 6-4 6-4 5-4 6-3 6-4 6-4 6-4 5-3 6-4 6-4 6-3 5-4 6-4 6-3 6-4 6-3 5-4 6-3 6-4 6-3 6-3 5-4 6-3 6-4 6-3 6-4 5-3 6-4 6-3 6-4 5-3 6-3 6-4 6-3 6-4 5-3 6-3 6-3 6-3 6-3 5-3 6-3 6-3 6-3 6-3 5-2 6-3 6-3 6-3 5-3 6-2 6-3 6-3 6-2 5-3 6-2 6-3 6-2 6-2 5-2 6-2 6-1 6-2 6-2 5-1 6-2 6-1 6-2 5-1 6-1 6-1 6-1 6 0 5-1 6 0 6 1 6 0 6 1 5 1 6 1 6 1 6 2 6 2 5 2 6 2 6 3 6 2 5 3 6 3 6 3 6 4 6 3 5 4 6 3 6 3 6 4 6 3 5 4 6 3 6 4 6 3 6 4 5 3 6 3 6 4 6 3 5 4 6 3 6 3 6 4 6 3 5 3 6 3 6 4 6 3 6 3 5 4 6 3 6 3 6 4 6 3 5 3 6 3 6 4 6 3 5 3 6 3 6 4 6 3 6 3 5 3 6 3 6 3 6 3 6 3 5 3 6 3 6 3 6 2 6 3 5 3 6 3 6 3 6 3 5 3 6 2 6 3 6 2 6 3 5 2 6 2 6 3 6 2 6 2 5 2 6 2 6 2 6 2 6 2 5 2 6 2 6 2 6 3 5 2 6 2 6 2 6 2 6 2 5 2 6 2 6 2 6 2 6 1 5 2 6 2 6 2 6 2 6 1 5 2 6 2 6 1 6 2 5 2 6 1 6 2 6 2 6 2 5 1 6 2 6 2 6 1 6 2 5 2 6 2 6 1 6 2 6 2 5 1 6 2 6 1 6 1 5 2 6 1 6 1 6 1 6 1 5 1 6 1 6 1 6 1 6 1 5 1 6 0 6 1 6 1 6 1 5 1 6 1 6 1 6 1 5 1 6 1 6 1 6 1 6 1 5 1 6 1 6 1 6 1 6 1 5 1 6 1 6 1 6 1 6 1 5 1 6 1 6 1 6 2 5 1 6 0 6 1 6 1 6 1 5 1 6 1 6 1 6 1 6 1 5 1 6 1 6 0 6 1 6 1 5 1 6 1 6 1 6 1 5 1 6 1 6 0 6 1 6 1 5 1 6 1 6 1 6 0 6 1 5 1 6 1 6 0 6 1 6 1 5 1 6 0 6 1 6 0 5 1 6 1 6 0 6 1 6 0 5 1 6 0 6 0 6 1 6 0 5 0 6 1 6 0 6 0 6 0 5 0 6 0 6 1 6 0 5 0 6 0 6 0 6 0 6 0 5 0 6 0 6 0 6 0 6 0 5 0 6 0 6 0 6 0 6 0 5-1 6 0 6 0 6 0 5 0 6 0 6 0 6 0 6 0 5 0 6 0 6 0 6 0 6 0 5 0 6 0 6 0 6 0 6 0 5 0 6 0 6 0 6 0 5 0 6 1 6 0 6 0 6 0 5 0 6 0 6 0 6 1 6 0 5 0 6 0 6 1 6 0 6 0 5 0 6 1 6 0 6 0 5 0 6 1 6 0 6 0 6 1 5 0 6 0 6 0 6 0"/>
<path transform="scale(.1)" fill="none" stroke="#d99aa2" stroke-width="7"  d="M565 7794l6 0 6 0 5 0 6 0 6 0 6 0 6 0 5 0 6 0 6 0 6 0 5 0 6 0 6 0 6 0 6 0 5 0 6 0 6 0 6 0 6 0 5 0 6 0 6 0 6 0 6 0 5 0 6 0 6 0 6 0 5 0 6 0 6 0 6 0 6 0 5 0 6 0 6 0 6 0 6 0 5 0 6 0 6 0 6 0 6 0 5 0 6 0 6 0 6 0 5 0 6 0 6 0 6 0 6 0 5 0 6 0 6 0 6 0 6 0 5 0 6 0 6 0 6 0 6 0 5 0 6 0 6 0 6 0 5 0 6 0 6 0 6 0 6 0 5 0 6 0 6 0 6 0 6 0 5 0 6 0 6 0 6 0 6 0 5 0 6 0 6 0 6 0 5 0 6 0 6 0 6 0 6 0 5 0 6 0 6 0 6 0 6 0 5 0 6 0 6 0 6 0 6 0 5 0 6 0 6 0 6 0 5 0 6 0 6 0 6 0 6 0 5 0 6 0 6 0 6 0 6 0 5 0 6 0 6 0 6 0 6 0 5 0 6 0 6 0 6 0 5 0 6 0 6 0 6 0 6 0 5 0 6 0 6 0 6 0 6 0 5 0 6 0 6 0 6 0 6 0 5 0 6 0 6 0 6 0 5 0 6 0 6 0 6 0 6 0 5 0 6 0 6 0 6 0 6 0 5 0 6 0 6 0 6 0 6 0 5 0 6 0 6 0 6 0 5 0 6 0 6 0 6 0 6 0 5 0 6 0 6 0 6 0 6 0 5 0 6 0 6 0 6 0 6 0 5 0 6 0 6 0 6 0 5 0 6 0 6 0 6 0 6 0 5 0 6 0 6 0 6 0 6 0 5 0 6 0 6 0 6 0 6 0 5 0 6 0 6 0 6 0 5 0 6 0 6 0 6 0 6 0 5 0 6 0 6 0 6 0 6 0 5 0 6 0 6 0 6 0 6 0 5 0 6 0 6 0 6 0 5 0 6 0 6 0 6 0 6 0 5 0 6 0 6 0 6 0 6 0 5 0 6 0 6 0 6 0 6 0 5 0 6 0 6 0 6 0 5 0 6 0 6 0 6 0 6 0 5 0 6 0 6 0 6 0 6 0 5 0 6 0 6 0 6-1 6 0 5 0 6 0 6 0 6 0 5 0 6 0 6 0 6 0 6 0 5 0 6-1 6 0 6 0 6 0 5 0 6 0 6-1 6 0 6 0 5 0 6-1 6 0 6 0 5 0 6-1 6 0 6 0 6-1 5 0 6-1 6 0 6 0 6-1 5 0 6-1 6 0 6-1 6 0 5-1 6-1 6 0 6-1 5-1 6 0 6-1 6-1 6 0 5-1 6-1 6 0 6-1 6-1 5-1 6-1 6 0 6-1 6-1 5-1 6 0 6-1 6-1 5-1 6 0 6-1 6-1 6 0 5-1 6-1 6 0 6-1 6-1 5 0 6-1 6 0 6-1 6 0 5 0 6-1 6 0 6 0 5 0 6-1 6 0 6 0 6 0 5 0 6 0 6 0 6 0 6 1 5 0 6 0 6 0 6 1 6 0 5 0 6 1 6 0 6 1 5 0 6 1 6 1 6 0 6 1 5 1 6 0 6 1 6 1 6 0 5 1 6 1 6 1 6 0 6 1 5 1 6 1 6 0 6 1 5 1 6 1 6 1 6 0 6 1 5 1 6 0 6 1 6 1 6 0 5 1 6 1 6 0 6 1 6 1 5 0 6 1 6 0 6 1 5 0 6 1 6 0 6 0 6 1 5 0 6 1 6 0 6 0 6 1 5 0 6 0 6 0 6 1 6 0 5 0 6 0 6 1 6 0 5 0 6 0 6 0 6 0 6 1 5 0 6 0 6 0 6 0"/>
<path transform="scale(.1)" fill="none" stroke="#000" stroke-width="12.5"  d="M565 7733l6-88 6 92 5-10 6 2 6-2 6 1 6-5 5-5 6 7 6-6 6 0 5-1 6 0 6-3 6-2 6 3 5 5 6-10 6 1 6-7 6 3 5-4 6 5 6-10 6-2 6-5 5 0 6-3 6-3 6 4 5-11 6 0 6-3 6-4 6 0 5-3 6-4 6-4 6-5 6 0 5-4 6 0 6-10 6-2 6-3 5 2 6-9 6 2 6-7 5-3 6-2 6-8 6-8 6 3 5-8 6-2 6-3 6-5 6-5 5 0 6-3 6-5 6 2 6-3 5-10 6-7 6-2 6-3 5-3 6-4 6-5 6-4 6-3 5-5 6-5 6 2 6-3 6-11 5 3 6-5 6-7 6-79 6 70 5-69 6 63 6-2 6-4 5-1 6-107 6 98 6 0 6-10 5 0 6-2 6-9 6 3 6-3 5-6 6-1 6-4 6-3 6-4 5 0 6-8 6 3 6-6 5-1 6-33 6 29 6-12 6 6 5-6 6-2 6-3 6-2 6 3 5-2 6-5 6-3 6 1 6-5 5-4 6 1 6-2 6 2 5-10 6 5 6-1 6-1 6 1 5-1 6-1 6 4 6-5 6 2 5 3 6 4 6-1 6 3 6-6 5 4 6 5 6 4 6-1 5 4 6 0 6 14 6-4 6 9 5-6 6 15 6 1 6 3 6 2 5 4 6 0 6 6 6 3 6 3 5 9 6-4 6 10 6-2 5 4 6 8 6-3 6 5 6 4 5 4 6 3 6 3 6 2 6 12 5-8 6 8 6 3 6 6 6 3 5 1 6 7 6 5 6-2 5 4 6 5 6-2 6 7 6 3 5 4 6 3 6 5 6-3 6 11 5 1 6 6 6-1 6 2 6 3 5 2 6 6 6 0 6 6 5 3 6 1 6 0 6 10 6 0 5 2 6-1 6 5 6 0 6 0 5 4 6 3 6 5 6 4 6-1 5-3 6 9 6-1 6 5 5-2 6 1 6 8 6-1 6 3 5 2 6 4 6-2 6 2 6-1 5 8 6-1 6 4 6 2 6-6 5 5 6 5 6 2 6 1 5-2 6 2 6 5 6 5 6 0 5-4 6 9 6 0 6 6 6-5 5 3 6-3 6 12 6-1 6 2 5-4 6 4 6 5 6-4 5 11 6-10 6 2 6 8 6-1 5 3 6-4 6 0 6 4 6-6 5 6 6-2 6 2 6 1 6 0 5 3 6 2 6 2 6-2 5-2 6-2 6 5 6 2 6 1 5 0 6 4 6 1 6-3 6-1 5-1 6 3 6 4 6-4 6 3 5 2 6-5 6 6 6-3 5 5 6 0 6 0 6 0 6 1 5 0 6-3 6 4 6 3 6 4 5-8 6-2 6 8 6-3 6-4 5 7 6 0 6-3 6 4 5 2 6-2 6 9 6-6 6-4 5 3 6 0 6 0 6 2 6 1 5-1 6 3 6-4 6 2 6-2 5 4 6-6 6 5 6 2 5-4 6 6 6-6 6-1 6 9 5 1 6-4 6-104 6 104 6 5 5 1 6 3 6-6 6 3 6-30 5 28 6-1 6 2 6 3 5-3 6 9 6-7 6 0 6 2 5 2 6 0 6-5 6 7 6 4 5-6 6 5 6-3 6 2 6-1 5 3 6-4 6 0 6 2 5 0 6 0 6 3 6-1 6-1 5 3 6 3 6 4 6-7 6-2 5 3 6 1 6 3 6-1 6-3 5-3 6 4 6 2 6-3 5 1 6 10 6-4 6 4 6 2 5-7 6 2 6 0 6-2 6 2 5 0 6 0 6 4 6-8 6 4 5 3 6-1 6 3 6-2 5 0 6 4 6 1 6-10 6 10 5-5 6 6 6-1 6-3"/>
<path transform="scale(.1)" fill="none" stroke="#cc2020" stroke-width="8" stroke-dasharray="16,16" d="M565 7711l6 0 6-1 5-1 6-1 6-1 6-1 6-1 5-1 6-1 6-1 6-1 5-2 6-1 6-1 6-1 6-1 5-1 6-1 6-2 6-1 6-2 5-2 6-2 6-2 6-2 6-2 5-3 6-2 6-2 6-3 5-2 6-2 6-3 6-2 6-2 5-2 6-3 6-2 6-2 6-3 5-2 6-3 6-3 6-3 6-3 5-3 6-3 6-3 6-3 5-3 6-3 6-3 6-4 6-3 5-3 6-3 6-3 6-4 6-3 5-3 6-3 6-3 6-3 6-4 5-3 6-3 6-3 6-3 5-3 6-3 6-3 6-3 6-3 5-3 6-4 6-3 6-3 6-3 5-3 6-3 6-4 6-3 6-3 5-4 6-3 6-3 6-4 5-3 6-4 6-3 6-3 6-4 5-3 6-3 6-4 6-3 6-3 5-3 6-4 6-3 6-3 6-3 5-3 6-3 6-4 6-3 5-3 6-3 6-3 6-3 6-3 5-3 6-3 6-3 6-3 6-2 5-2 6-3 6-2 6-2 6-2 5-2 6-2 6-2 6-1 5-2 6-2 6-1 6-1 6-1 5 0 6-1 6 0 6 1 6 0 5 1 6 1 6 1 6 1 6 2 5 2 6 2 6 3 6 2 5 3 6 3 6 3 6 4 6 3 5 3 6 4 6 3 6 4 6 3 5 4 6 3 6 4 6 3 6 4 5 3 6 4 6 3 6 4 5 3 6 3 6 4 6 3 6 4 5 3 6 3 6 4 6 3 6 4 5 3 6 3 6 4 6 3 6 4 5 3 6 3 6 4 6 3 5 3 6 4 6 3 6 3 6 3 5 3 6 4 6 3 6 3 6 3 5 3 6 3 6 3 6 3 6 3 5 3 6 3 6 3 6 2 5 3 6 3 6 3 6 2 6 3 5 2 6 3 6 2 6 2 6 2 5 3 6 2 6 2 6 2 6 2 5 2 6 2 6 2 6 3 5 2 6 2 6 2 6 2 6 2 5 2 6 2 6 2 6 2 6 2 5 2 6 2 6 2 6 1 6 2 5 2 6 2 6 1 6 2 5 2 6 2 6 1 6 2 6 2 5 2 6 1 6 2 6 2 6 2 5 1 6 2 6 2 6 1 6 2 5 2 6 1 6 2 6 1 5 1 6 1 6 2 6 1 6 0 5 1 6 1 6 1 6 1 6 1 5 0 6 1 6 1 6 1 6 1 5 0 6 1 6 1 6 1 5 0 6 1 6 1 6 1 6 0 5 1 6 1 6 1 6 1 6 0 5 1 6 1 6 1 6 0 6 1 5 1 6 1 6 0 6 1 5 0 6 1 6 0 6 1 6 0 5 1 6 0 6 1 6 0 6 0 5 1 6 0 6 0 6 1 6 0 5 1 6 0 6 0 6 1 5 0 6 1 6 0 6 0 6 1 5 0 6 1 6 0 6 0 6 1 5 0 6 1 6 0 6 0 6 1 5 0 6 1 6 0 6 1 5 0 6 1 6 0 6 1 6 0 5 0 6 1 6 0 6 1 6 0 5 1 6 0 6 1 6 0 6 0 5 1 6 0 6 1 6 0 5 1 6 0 6 1 6 0 6 1 5 0 6 1 6 0 6 0 6 1 5 0 6 1 6 0 6 1 6 0 5 1 6 0 6 1 6 0 5 1 6 0 6 1 6 0 6 1 5 0 6 0 6 1 6 0 6 1 5 0 6 1 6 0 6 1 6 0 5 1 6 0 6 1 6 0 5 0 6 1 6 0 6 1 6 0 5 1 6 0 6 0 6 1 6 0 5 1 6 0 6 1 6 0 6 0 5 1 6 0 6 1 6 0 5 1 6 0 6 0 6 1 6 0 5 0 6 1 6 0 6 0"/>
<line x1="56.8" y1="826.1" x2="298.6" y2="826.1" stroke="#d99aa2" stroke-width="0.9" />
<path transform="scale(.1)" fill="none" stroke="#d99aa2" stroke-width="7"  d="M565 8201l6 0 6-1 5 0 6-1 6-1 6 0 6-1 5-1 6-1 6-1 6 0 5-1 6-1 6-1 6-1 6-1 5-1 6-1 6-1 6-2 6-1 5-1 6-2 6-2 6-2 6-1 5-2 6-2 6-2 6-2 5-2 6-2 6-2 6-2 6-2 5-2 6-2 6-2 6-2 6-3 5-2 6-3 6-3 6-3 6-3 5-3 6-4 6-3 6-4 5-3 6-4 6-3 6-4 6-4 5-3 6-4 6-3 6-4 6-4 5-3 6-4 6-3 6-4 6-3 5-3 6-4 6-3 6-3 5-3 6-2 6-3 6-3 6-2 5-3 6-2 6-3 6-2 6-3 5-2 6-3 6-2 6-3 6-2 5-3 6-2 6-3 6-2 5-3 6-2 6-2 6-3 6-2 5-2 6-2 6-2 6-2 6-1 5-2 6-2 6-1 6-2 6-1 5-1 6-2 6-1 6-2 5-1 6-1 6-2 6-1 6-2 5-1 6-1 6-1 6-2 6-1 5-1 6-1 6-1 6-1 6-1 5-1 6-1 6-1 6-1 5 0 6-1 6 0 6 0 6 0 5 0 6 1 6 0 6 1 6 1 5 2 6 1 6 2 6 2 6 2 5 2 6 2 6 3 6 2 5 3 6 2 6 2 6 3 6 2 5 3 6 2 6 3 6 2 6 3 5 2 6 3 6 2 6 3 6 2 5 3 6 2 6 3 6 3 5 2 6 3 6 3 6 2 6 3 5 3 6 3 6 2 6 3 6 3 5 3 6 2 6 3 6 3 6 3 5 2 6 3 6 3 6 2 5 3 6 3 6 2 6 2 6 3 5 2 6 2 6 2 6 2 6 2 5 2 6 2 6 2 6 2 6 2 5 2 6 2 6 2 6 2 5 2 6 1 6 2 6 2 6 2 5 1 6 2 6 1 6 2 6 2 5 1 6 2 6 1 6 2 6 1 5 2 6 1 6 2 6 1 5 2 6 1 6 2 6 1 6 2 5 1 6 2 6 1 6 1 6 2 5 1 6 1 6 1 6 1 6 2 5 1 6 1 6 1 6 1 5 1 6 1 6 2 6 1 6 1 5 1 6 1 6 1 6 1 6 2 5 1 6 1 6 1 6 1 6 1 5 1 6 1 6 1 6 1 5 1 6 1 6 1 6 0 6 1 5 1 6 0 6 1 6 1 6 0 5 1 6 0 6 1 6 1 6 0 5 1 6 1 6 0 6 1 5 1 6 0 6 1 6 1 6 1 5 0 6 1 6 1 6 1 6 0 5 1 6 1 6 1 6 1 6 1 5 0 6 1 6 1 6 1 5 1 6 1 6 0 6 1 6 1 5 1 6 1 6 0 6 1 6 1 5 1 6 1 6 1 6 0 6 1 5 1 6 1 6 1 6 1 5 0 6 1 6 1 6 1 6 1 5 0 6 1 6 1 6 1 6 0 5 1 6 1 6 0 6 1 6 0 5 1 6 1 6 0 6 0 5 1 6 0 6 1 6 0 6 0 5 1 6 0 6 0 6 1 6 0 5 0 6 0 6 0 6 0 6 1 5 0 6 0 6 0 6 0 5 0 6 0 6 0 6 0 6 1 5 0 6 0 6 0 6 0 6 0 5 0 6 0 6 0 6 0 6 0 5 0 6 0 6 0 6 0 5 0 6 0 6 0 6 0 6 0 5 0 6 0 6 0 6 0 6 0 5 1 6 0 6 0 6 0 6 0 5 0 6 0 6 0 6 0 5 1 6 0 6 0 6 0 6 0 5 0 6 0 6 0 6 0 6 1 5 0 6 0 6 0 6 0 6 0 5 1 6 0 6 0 6 0 5 1 6 0 6 0 6 0 6 0 5 1 6 0 6 0 6 0"/>
<path transform="scale(.1)" fill="none" stroke="#d99aa2" stroke-width="7"  d="M565 8261l6 0 6 0 5 0 6 0 6 0 6 0 6 0 5 0 6 0 6 0 6 0 5 0 6 0 6 0 6 0 6 0 5 0 6 0 6 0 6 0 6 0 5 0 6 0 6 0 6 0 6 0 5 0 6 0 6 0 6 0 5 0 6 0 6 0 6 0 6 0 5 0 6 0 6 0 6 0 6 0 5 0 6 0 6 0 6 0 6 0 5 0 6 0 6 0 6 0 5 0 6 0 6 0 6 0 6 0 5 0 6 0 6 0 6 0 6 0 5 0 6 0 6 0 6 0 6 0 5 0 6 0 6 0 6 0 5 0 6 0 6 0 6 0 6 0 5 0 6 0 6 0 6 0 6 0 5 0 6 0 6 0 6 0 6 0 5 0 6 0 6 0 6 0 5 0 6 0 6 0 6 0 6 0 5 0 6 0 6 0 6 0 6 0 5 0 6 0 6 0 6 0 6 0 5 0 6 0 6 0 6 0 5 0 6 0 6 0 6 0 6 0 5 0 6 0 6 0 6 0 6 0 5 0 6 0 6 0 6 0 6 0 5 0 6 0 6 0 6 0 5 0 6 0 6 0 6 0 6 0 5 0 6 0 6 0 6 0 6 0 5 0 6 0 6 0 6 0 6 0 5 0 6 0 6 0 6 0 5 0 6 0 6 0 6 0 6 0 5 0 6 0 6 0 6 0 6 0 5 0 6 0 6 0 6 0 6 0 5 0 6 0 6 0 6 0 5 0 6 0 6 0 6 0 6 0 5 0 6 0 6 0 6 0 6 0 5 0 6 0 6 0 6 0 6 0 5 0 6 0 6 0 6 0 5 0 6 0 6 0 6 0 6 0 5 0 6 0 6 0 6 0 6 0 5 0 6 0 6 0 6 0 6 0 5 0 6 0 6 0 6 0 5 0 6 0 6 0 6 0 6 0 5 0 6 0 6 0 6 0 6 0 5 0 6 0 6 0 6 0 6 0 5 0 6 0 6 0 6 0 5 0 6 0 6 0 6 0 6 0 5 0 6 0 6 0 6 0 6 0 5 0 6 0 6 0 6 0 6 0 5 0 6 0 6 0 6 0 5 0 6 0 6 0 6 0 6 0 5 0 6 0 6 0 6 0 6 0 5 0 6 0 6 0 6-1 6 0 5 0 6 0 6 0 6 0 5 0 6 0 6 0 6 0 6 0 5 0 6-1 6 0 6 0 6 0 5 0 6 0 6-1 6 0 6 0 5 0 6-1 6 0 6 0 5 0 6-1 6 0 6 0 6-1 5 0 6-1 6 0 6 0 6-1 5 0 6-1 6 0 6-1 6 0 5-1 6-1 6 0 6-1 5-1 6 0 6-1 6-1 6 0 5-1 6-1 6 0 6-1 6-1 5-1 6-1 6 0 6-1 6-1 5-1 6 0 6-1 6-1 5-1 6 0 6-1 6-1 6 0 5-1 6-1 6 0 6-1 6-1 5 0 6-1 6 0 6-1 6 0 5 0 6-1 6 0 6 0 5 0 6-1 6 0 6 0 6 0 5 0 6 0 6 0 6 0 6 1 5 0 6 0 6 0 6 1 6 0 5 0 6 1 6 0 6 1 5 0 6 1 6 1 6 0 6 1 5 1 6 0 6 1 6 1 6 0 5 1 6 1 6 1 6 0 6 1 5 1 6 1 6 0 6 1 5 1 6 1 6 1 6 0 6 1 5 1 6 0 6 1 6 1 6 0 5 1 6 1 6 0 6 1 6 1 5 0 6 1 6 0 6 1 5 0 6 1 6 0 6 0 6 1 5 0 6 1 6 0 6 0 6 1 5 0 6 0 6 0 6 1 6 0 5 0 6 0 6 1 6 0 5 0 6 0 6 0 6 0 6 1 5 0 6 0 6 0 6 0"/>
<path transform="scale(.1)" fill="none" stroke="#000" stroke-width="12.5"  d="M565 8196l6 3 6 3 5-4 6 2 6-1 6-6 6 0 5-3 6 5 6-2 6 1 5-6 6 4 6-1 6 0 6-6 5 0 6-1 6-4 6 2 6 1 5-10 6 6 6-2 6-7 6 2 5-3 6 3 6-4 6-2 5-5 6 0 6-4 6 1 6-3 5-4 6 2 6-3 6-8 6 2 5-10 6 1 6-3 6-1 6-4 5-3 6 1 6-6 6-4 5-42 6 34 6 2 6-11 6-2 5-6 6-3 6 1 6-3 6-6 5-3 6-6 6-2 6-5 6-5 5-2 6-2 6-7 6-4 5-2 6 3 6-7 6-2 6-6 5 7 6-9 6-3 6-4 6 0 5-3 6-4 6 2 6-7 6 2 5-4 6-7 6-70 6 66 5-5 6 0 6-2 6 0 6-2 5-8 6 4 6-7 6 0 6-6 5 5 6-6 6 3 6-3 6-7 5-1 6 2 6-4 6 1 5 0 6-5 6 5 6-1 6 3 5-10 6 2 6-3 6-2 6-1 5-3 6 0 6-4 6 7 6-8 5-2 6 3 6-49 6 47 5-7 6 1 6 3 6 1 6-2 5 1 6 2 6-1 6-1 6 5 5 3 6-6 6 7 6 1 6 4 5 3 6-2 6 2 6 7 5 3 6 0 6 2 6 5 6-1 5 4 6 6 6 0 6 2 6 3 5 4 6 0 6 7 6-2 6 4 5 5 6 2 6 5 6 3 5 3 6-2 6 4 6 5 6 2 5 4 6-3 6 8 6 0 6 2 5 2 6 2 6 6 6 7 6-3 5 2 6 10 6-2 6 2 5 4 6 2 6 6 6 1 6 3 5-5 6 7 6 3 6 3 6 0 5 2 6 3 6 4 6 2 6 3 5 3 6-38 6 39 6-1 5 3 6 2 6 2 6-37 6 35 5 5 6 5 6-3 6 6 6 4 5 3 6 1 6-5 6 2 6 6 5-1 6 5 6-2 6-1 5 3 6 4 6 2 6-1 6 1 5 4 6 0 6-1 6 3 6 6 5-6 6 5 6 6 6-7 6 0 5 4 6 4 6 3 6-1 5 6 6-6 6 1 6 6 6-7 5 4 6-1 6 4 6-1 6 4 5 5 6-2 6 5 6 0 6-1 5 3 6 2 6-4 6 3 5 1 6-1 6 5 6-3 6 3 5-3 6 1 6 1 6-3 6 4 5 0 6 1 6 0 6-2 6-2 5 6 6 2 6 0 6 0 5-3 6 6 6 2 6 4 6-6 5 0 6 2 6 0 6 0 6 2 5-1 6 3 6-2 6-6 6 5 5 2 6 1 6 0 6-3 5 6 6-2 6 1 6-3 6 2 5 3 6 4 6-7 6-1 6 6 5-6 6 9 6 0 6 1 6-6 5 3 6-3 6 10 6-9 5 2 6-4 6 3 6 6 6-8 5 4 6-2 6 6 6-3 6-2 5 0 6 1 6 6 6-2 6-58 5 57 6 6 6-9 6 7 5-4 6 5 6-8 6 1 6 10 5 0 6-5 6 6 6-4 6-3 5 6 6-1 6 0 6-1 6-2 5 2 6 5 6 0 6-3 5-2 6 5 6 2 6-1 6 0 5-1 6 2 6-1 6 3 6-3 5 1 6 1 6 2 6 2 6 2 5-3 6 2 6 0 6-4 5 5 6-4 6-1 6 3 6 4 5-1 6 2 6 0 6 0 6 5 5-3 6 0 6-1 6 2 6 1 5 1 6-3 6 5 6 1 5-2 6 2 6 3 6-5 6-1 5 3 6 1 6 0 6-2 6 6 5-3 6-2 6 5 6-4 6 8 5-7 6-2 6 3 6-274 5 279 6 0 6 1 6-4 6 2 5-3 6 4 6-2 6 1"/>
<path transform="scale(.1)" fill="none" stroke="#cc2020" stroke-width="8" stroke-dasharray="16,16" d="M565 8180l6 0 6-1 5-1 6-1 6 0 6-1 6-1 5-1 6-1 6-1 6-1 5-1 6-1 6 0 6-1 6-1 5-1 6-1 6-1 6-1 6-2 5-1 6-1 6-2 6-2 6-1 5-2 6-1 6-2 6-1 5-2 6-2 6-1 6-2 6-1 5-2 6-2 6-1 6-2 6-2 5-2 6-2 6-2 6-3 6-3 5-2 6-3 6-3 6-3 5-3 6-3 6-3 6-3 6-3 5-3 6-3 6-3 6-3 6-3 5-2 6-3 6-3 6-3 6-3 5-3 6-2 6-3 6-2 5-3 6-2 6-2 6-3 6-2 5-2 6-2 6-2 6-2 6-2 5-2 6-3 6-2 6-2 6-2 5-3 6-2 6-2 6-3 5-2 6-3 6-2 6-2 6-3 5-2 6-2 6-2 6-2 6-2 5-2 6-1 6-2 6-2 6-2 5-1 6-2 6-2 6-2 5-1 6-2 6-2 6-2 6-1 5-2 6-2 6-1 6-2 6-2 5-1 6-2 6-1 6-1 6-2 5-1 6-2 6-1 6-1 5-1 6-1 6 0 6-1 6 0 5 0 6 0 6 1 6 0 6 1 5 2 6 1 6 2 6 1 6 2 5 2 6 2 6 3 6 2 5 2 6 3 6 2 6 2 6 3 5 2 6 3 6 2 6 3 6 2 5 3 6 2 6 3 6 2 6 3 5 2 6 3 6 3 6 2 5 3 6 3 6 3 6 2 6 3 5 3 6 3 6 3 6 2 6 3 5 3 6 3 6 3 6 3 6 2 5 3 6 3 6 3 6 2 5 3 6 3 6 2 6 3 6 2 5 2 6 3 6 2 6 2 6 2 5 2 6 2 6 2 6 2 6 2 5 2 6 2 6 2 6 2 5 2 6 2 6 2 6 1 6 2 5 2 6 1 6 2 6 2 6 1 5 2 6 1 6 2 6 2 6 1 5 2 6 1 6 2 6 1 5 2 6 1 6 2 6 2 6 1 5 2 6 1 6 1 6 2 6 1 5 1 6 2 6 1 6 1 6 1 5 2 6 1 6 1 6 1 5 1 6 1 6 2 6 1 6 1 5 1 6 1 6 1 6 1 6 2 5 1 6 1 6 1 6 1 6 1 5 1 6 1 6 1 6 1 5 1 6 1 6 1 6 0 6 1 5 0 6 1 6 1 6 0 6 1 5 0 6 1 6 0 6 1 6 0 5 1 6 0 6 1 6 0 5 1 6 0 6 1 6 0 6 1 5 0 6 1 6 0 6 1 6 0 5 1 6 0 6 1 6 0 6 1 5 0 6 0 6 1 6 0 5 1 6 0 6 1 6 0 6 0 5 1 6 0 6 0 6 1 6 0 5 0 6 1 6 0 6 0 6 0 5 1 6 0 6 0 6 1 5 0 6 0 6 1 6 0 6 0 5 1 6 0 6 0 6 1 6 0 5 0 6 1 6 0 6 0 6 1 5 0 6 0 6 0 6 1 5 0 6 0 6 1 6 0 6 0 5 1 6 0 6 0 6 1 6 0 5 0 6 1 6 0 6 0 6 1 5 0 6 1 6 0 6 1 5 0 6 1 6 0 6 1 6 0 5 1 6 0 6 1 6 0 6 1 5 1 6 0 6 1 6 0 6 1 5 0 6 1 6 0 6 1 5 1 6 0 6 1 6 0 6 1 5 0 6 1 6 0 6 1 6 1 5 0 6 1 6 0 6 1 6 0 5 1 6 0 6 1 6 0 5 1 6 0 6 0 6 1 6 0 5 1 6 0 6 0 6 1 6 0 5 0 6 1 6 0 6 1 6 0 5 0 6 1 6 0 6 0 5 1 6 0 6 0 6 1 6 0 5 0 6 1 6 0 6 0"/>
</g>
<rect x="56.8" y="591.8" width="241.8" height="235" stroke="#9a9a9a" stroke-width="1.2" fill="none" />
<line x1="56.8" y1="639.2" x2="59" y2="639.2" stroke="#444" stroke-width="0.6" />
<line x1="56.8" y1="635.8" x2="59" y2="635.8" stroke="#444" stroke-width="0.6" />
<line x1="56.8" y1="632.3" x2="59" y2="632.3" stroke="#444" stroke-width="0.6" />
<line x1="56.8" y1="628.9" x2="59" y2="628.9" stroke="#444" stroke-width="0.6" />
<line x1="56.8" y1="625.4" x2="59" y2="625.4" stroke="#444" stroke-width="0.6" />
<line x1="56.8" y1="622" x2="59" y2="622" stroke="#444" stroke-width="0.6" />
<line x1="59" y1="622" x2="61.3" y2="622" stroke="#bbb" stroke-width="0.6" />
<line x1="56.8" y1="618.6" x2="59" y2="618.6" stroke="#444" stroke-width="0.6" />
<line x1="56.8" y1="615.1" x2="59" y2="615.1" stroke="#444" stroke-width="0.6" />
<line x1="56.8" y1="611.7" x2="59" y2="611.7" stroke="#444" stroke-width="0.6" />
<line x1="56.8" y1="608.2" x2="59" y2="608.2" stroke="#444" stroke-width="0.6" />
<line x1="56.8" y1="604.8" x2="59" y2="604.8" stroke="#444" stroke-width="0.6" />
<line x1="59" y1="604.8" x2="61.3" y2="604.8" stroke="#bbb" stroke-width="0.6" />
<line x1="56.8" y1="601.4" x2="59" y2="601.4" stroke="#444" stroke-width="0.6" />
<line x1="56.8" y1="597.9" x2="59" y2="597.9" stroke="#444" stroke-width="0.6" />
<line x1="56.8" y1="594.5" x2="59" y2="594.5" stroke="#444" stroke-width="0.6" />
<text x="55" y="641.2" font-size="5.6" text-anchor="end" fill="#222" textLength="2.9" lengthAdjust="spacingAndGlyphs">0</text>
<text x="55" y="624" font-size="5.6" text-anchor="end" fill="#222" textLength="8.7" lengthAdjust="spacingAndGlyphs">100</text>
<text x="55" y="606.8" font-size="5.6" text-anchor="end" fill="#222" textLength="8.7" lengthAdjust="spacingAndGlyphs">200</text>
<text x="62.9" y="600.6" font-size="6.2" fill="#222" textLength="22.5" lengthAdjust="spacingAndGlyphs" font-weight="bold">3.7 GPa</text>
<line x1="56.8" y1="686.2" x2="59" y2="686.2" stroke="#444" stroke-width="0.6" />
<line x1="56.8" y1="682.8" x2="59" y2="682.8" stroke="#444" stroke-width="0.6" />
<line x1="56.8" y1="679.3" x2="59" y2="679.3" stroke="#444" stroke-width="0.6" />
<line x1="56.8" y1="675.9" x2="59" y2="675.9" stroke="#444" stroke-width="0.6" />
<line x1="56.8" y1="672.4" x2="59" y2="672.4" stroke="#444" stroke-width="0.6" />
<line x1="56.8" y1="669" x2="59" y2="669" stroke="#444" stroke-width="0.6" />
<line x1="59" y1="669" x2="61.3" y2="669" stroke="#bbb" stroke-width="0.6" />
<line x1="56.8" y1="665.6" x2="59" y2="665.6" stroke="#444" stroke-width="0.6" />
<line x1="56.8" y1="662.1" x2="59" y2="662.1" stroke="#444" stroke-width="0.6" />
<line x1="56.8" y1="658.7" x2="59" y2="658.7" stroke="#444" stroke-width="0.6" />
<line x1="56.8" y1="655.2" x2="59" y2="655.2" stroke="#444" stroke-width="0.6" />
<line x1="56.8" y1="651.8" x2="59" y2="651.8" stroke="#444" stroke-width="0.6" />
<line x1="59" y1="651.8" x2="61.3" y2="651.8" stroke="#bbb" stroke-width="0.6" />
<line x1="56.8" y1="648.4" x2="59" y2="648.4" stroke="#444" stroke-width="0.6" />
<line x1="56.8" y1="644.9" x2="59" y2="644.9" stroke="#444" stroke-width="0.6" />
<line x1="56.8" y1="641.5" x2="59" y2="641.5" stroke="#444" stroke-width="0.6" />
<text x="55" y="688.2" font-size="5.6" text-anchor="end" fill="#222" textLength="2.9" lengthAdjust="spacingAndGlyphs">0</text>
<text x="55" y="671" font-size="5.6" text-anchor="end" fill="#222" textLength="8.7" lengthAdjust="spacingAndGlyphs">100</text>
<text x="55" y="653.8" font-size="5.6" text-anchor="end" fill="#222" textLength="8.7" lengthAdjust="spacingAndGlyphs">200</text>
<text x="62.9" y="647.6" font-size="6.2" fill="#222" textLength="22.5" lengthAdjust="spacingAndGlyphs" font-weight="bold">2.0 GPa</text>
<line x1="56.8" y1="732.9" x2="59" y2="732.9" stroke="#444" stroke-width="0.6" />
<line x1="56.8" y1="729.5" x2="59" y2="729.5" stroke="#444" stroke-width="0.6" />
<line x1="56.8" y1="726" x2="59" y2="726" stroke="#444" stroke-width="0.6" />
<line x1="56.8" y1="722.6" x2="59" y2="722.6" stroke="#444" stroke-width="0.6" />
<line x1="56.8" y1="719.1" x2="59" y2="719.1" stroke="#444" stroke-width="0.6" />
<line x1="56.8" y1="715.7" x2="59" y2="715.7" stroke="#444" stroke-width="0.6" />
<line x1="59" y1="715.7" x2="61.3" y2="715.7" stroke="#bbb" stroke-width="0.6" />
<line x1="56.8" y1="712.3" x2="59" y2="712.3" stroke="#444" stroke-width="0.6" />
<line x1="56.8" y1="708.8" x2="59" y2="708.8" stroke="#444" stroke-width="0.6" />
<line x1="56.8" y1="705.4" x2="59" y2="705.4" stroke="#444" stroke-width="0.6" />
<line x1="56.8" y1="701.9" x2="59" y2="701.9" stroke="#444" stroke-width="0.6" />
<line x1="56.8" y1="698.5" x2="59" y2="698.5" stroke="#444" stroke-width="0.6" />
<line x1="59" y1="698.5" x2="61.3" y2="698.5" stroke="#bbb" stroke-width="0.6" />
<line x1="56.8" y1="695.1" x2="59" y2="695.1" stroke="#444" stroke-width="0.6" />
<line x1="56.8" y1="691.6" x2="59" y2="691.6" stroke="#444" stroke-width="0.6" />
<line x1="56.8" y1="688.2" x2="59" y2="688.2" stroke="#444" stroke-width="0.6" />
<text x="55" y="734.9" font-size="5.6" text-anchor="end" fill="#222" textLength="2.9" lengthAdjust="spacingAndGlyphs">0</text>
<text x="55" y="717.7" font-size="5.6" text-anchor="end" fill="#222" textLength="8.7" lengthAdjust="spacingAndGlyphs">100</text>
<text x="55" y="700.5" font-size="5.6" text-anchor="end" fill="#222" textLength="8.7" lengthAdjust="spacingAndGlyphs">200</text>
<text x="62.9" y="694.3" font-size="6.2" fill="#222" textLength="22.5" lengthAdjust="spacingAndGlyphs" font-weight="bold">1.4 GPa</text>
<line x1="56.8" y1="779.4" x2="59" y2="779.4" stroke="#444" stroke-width="0.6" />
<line x1="56.8" y1="776" x2="59" y2="776" stroke="#444" stroke-width="0.6" />
<line x1="56.8" y1="772.5" x2="59" y2="772.5" stroke="#444" stroke-width="0.6" />
<line x1="56.8" y1="769.1" x2="59" y2="769.1" stroke="#444" stroke-width="0.6" />
<line x1="56.8" y1="765.6" x2="59" y2="765.6" stroke="#444" stroke-width="0.6" />
<line x1="56.8" y1="762.2" x2="59" y2="762.2" stroke="#444" stroke-width="0.6" />
<line x1="59" y1="762.2" x2="61.3" y2="762.2" stroke="#bbb" stroke-width="0.6" />
<line x1="56.8" y1="758.8" x2="59" y2="758.8" stroke="#444" stroke-width="0.6" />
<line x1="56.8" y1="755.3" x2="59" y2="755.3" stroke="#444" stroke-width="0.6" />
<line x1="56.8" y1="751.9" x2="59" y2="751.9" stroke="#444" stroke-width="0.6" />
<line x1="56.8" y1="748.4" x2="59" y2="748.4" stroke="#444" stroke-width="0.6" />
<line x1="56.8" y1="745" x2="59" y2="745" stroke="#444" stroke-width="0.6" />
<line x1="59" y1="745" x2="61.3" y2="745" stroke="#bbb" stroke-width="0.6" />
<line x1="56.8" y1="741.6" x2="59" y2="741.6" stroke="#444" stroke-width="0.6" />
<line x1="56.8" y1="738.1" x2="59" y2="738.1" stroke="#444" stroke-width="0.6" />
<line x1="56.8" y1="734.7" x2="59" y2="734.7" stroke="#444" stroke-width="0.6" />
<text x="55" y="781.4" font-size="5.6" text-anchor="end" fill="#222" textLength="2.9" lengthAdjust="spacingAndGlyphs">0</text>
<text x="55" y="764.2" font-size="5.6" text-anchor="end" fill="#222" textLength="8.7" lengthAdjust="spacingAndGlyphs">100</text>
<text x="55" y="747" font-size="5.6" text-anchor="end" fill="#222" textLength="8.7" lengthAdjust="spacingAndGlyphs">200</text>
<text x="62.9" y="740.8" font-size="6.2" fill="#222" textLength="22.5" lengthAdjust="spacingAndGlyphs" font-weight="bold">0.6 GPa</text>
<line x1="56.8" y1="826.1" x2="59" y2="826.1" stroke="#444" stroke-width="0.6" />
<line x1="56.8" y1="822.7" x2="59" y2="822.7" stroke="#444" stroke-width="0.6" />
<line x1="56.8" y1="819.2" x2="59" y2="819.2" stroke="#444" stroke-width="0.6" />
<line x1="56.8" y1="815.8" x2="59" y2="815.8" stroke="#444" stroke-width="0.6" />
<line x1="56.8" y1="812.3" x2="59" y2="812.3" stroke="#444" stroke-width="0.6" />
<line x1="56.8" y1="808.9" x2="59" y2="808.9" stroke="#444" stroke-width="0.6" />
<line x1="59" y1="808.9" x2="61.3" y2="808.9" stroke="#bbb" stroke-width="0.6" />
<line x1="56.8" y1="805.5" x2="59" y2="805.5" stroke="#444" stroke-width="0.6" />
<line x1="56.8" y1="802" x2="59" y2="802" stroke="#444" stroke-width="0.6" />
<line x1="56.8" y1="798.6" x2="59" y2="798.6" stroke="#444" stroke-width="0.6" />
<line x1="56.8" y1="795.1" x2="59" y2="795.1" stroke="#444" stroke-width="0.6" />
<line x1="56.8" y1="791.7" x2="59" y2="791.7" stroke="#444" stroke-width="0.6" />
<line x1="59" y1="791.7" x2="61.3" y2="791.7" stroke="#bbb" stroke-width="0.6" />
<line x1="56.8" y1="788.3" x2="59" y2="788.3" stroke="#444" stroke-width="0.6" />
<line x1="56.8" y1="784.8" x2="59" y2="784.8" stroke="#444" stroke-width="0.6" />
<line x1="56.8" y1="781.4" x2="59" y2="781.4" stroke="#444" stroke-width="0.6" />
<text x="55" y="828.1" font-size="5.6" text-anchor="end" fill="#222" textLength="2.9" lengthAdjust="spacingAndGlyphs">0</text>
<text x="55" y="810.9" font-size="5.6" text-anchor="end" fill="#222" textLength="8.7" lengthAdjust="spacingAndGlyphs">100</text>
<text x="55" y="793.7" font-size="5.6" text-anchor="end" fill="#222" textLength="8.7" lengthAdjust="spacingAndGlyphs">200</text>
<text x="62.9" y="787.5" font-size="6.2" fill="#222" textLength="22.5" lengthAdjust="spacingAndGlyphs" font-weight="bold">0.1 GPa</text>
<line x1="64.3" y1="826.8" x2="64.3" y2="828.6" stroke="#666" stroke-width="0.6" />
<text x="64.3" y="835.6" font-size="7.4" text-anchor="middle" fill="#222" textLength="9.4" lengthAdjust="spacingAndGlyphs" font-weight="bold">3.2</text>
<line x1="95.5" y1="826.8" x2="95.5" y2="828.6" stroke="#666" stroke-width="0.6" />
<text x="95.5" y="835.6" font-size="7.4" text-anchor="middle" fill="#222" textLength="9.4" lengthAdjust="spacingAndGlyphs" font-weight="bold">3.6</text>
<line x1="126.7" y1="826.8" x2="126.7" y2="828.6" stroke="#666" stroke-width="0.6" />
<text x="126.7" y="835.6" font-size="7.4" text-anchor="middle" fill="#222" textLength="9.4" lengthAdjust="spacingAndGlyphs" font-weight="bold">4.0</text>
<line x1="157.9" y1="826.8" x2="157.9" y2="828.6" stroke="#666" stroke-width="0.6" />
<text x="157.9" y="835.6" font-size="7.4" text-anchor="middle" fill="#222" textLength="9.4" lengthAdjust="spacingAndGlyphs" font-weight="bold">4.4</text>
<line x1="189.1" y1="826.8" x2="189.1" y2="828.6" stroke="#666" stroke-width="0.6" />
<text x="189.1" y="835.6" font-size="7.4" text-anchor="middle" fill="#222" textLength="9.4" lengthAdjust="spacingAndGlyphs" font-weight="bold">4.8</text>
<line x1="220.3" y1="826.8" x2="220.3" y2="828.6" stroke="#666" stroke-width="0.6" />
<text x="220.3" y="835.6" font-size="7.4" text-anchor="middle" fill="#222" textLength="9.4" lengthAdjust="spacingAndGlyphs" font-weight="bold">5.2</text>
<line x1="251.5" y1="826.8" x2="251.5" y2="828.6" stroke="#666" stroke-width="0.6" />
<text x="251.5" y="835.6" font-size="7.4" text-anchor="middle" fill="#222" textLength="9.4" lengthAdjust="spacingAndGlyphs" font-weight="bold">5.6</text>
<line x1="282.7" y1="826.8" x2="282.7" y2="828.6" stroke="#666" stroke-width="0.6" />
<text x="282.7" y="835.6" font-size="7.4" text-anchor="middle" fill="#222" textLength="9.4" lengthAdjust="spacingAndGlyphs" font-weight="bold">6.0</text>
<text x="149.3" y="843" font-size="7.9" fill="#222" textLength="43.2" lengthAdjust="spacingAndGlyphs">Eenrgy (eV)</text>
<text x="37.9" y="709.4" font-size="8.3" text-anchor="middle" fill="#222" textLength="70.4" lengthAdjust="spacingAndGlyphs" transform="rotate(-90 37.9 709.4)">Intensity (arb. unit)</text>
<rect x="206" y="595.5" width="84.2" height="20.5" stroke="#888" stroke-width="0.6" fill="#fff" />
<line x1="207.7" y1="599.5" x2="217.8" y2="599.5" stroke="#000" stroke-width="1.1" />
<line x1="207.7" y1="605.6" x2="217.8" y2="605.6" stroke="#d99aa2" stroke-width="0.8" />
<line x1="207.7" y1="611.9" x2="217.8" y2="611.9" stroke="#cc2020" stroke-width="0.9" stroke-dasharray="1.4,1.4"/>
<text x="219.2" y="601.7" font-size="6.1" fill="#111" textLength="48.5" lengthAdjust="spacingAndGlyphs" stroke="#111" stroke-width="0.12">Experimental data</text>
<text x="219.2" y="607.8" font-size="6.1" fill="#111" textLength="51" lengthAdjust="spacingAndGlyphs" stroke="#111" stroke-width="0.12">Fitting components</text>
<text x="219.2" y="614.1" font-size="6.1" fill="#111" textLength="70" lengthAdjust="spacingAndGlyphs" stroke="#111" stroke-width="0.12">Convoluted fitting function</text>
<text x="2.4" y="629.4" font-size="40" style='font-family:"Liberation Serif", serif'>e</text>
</g>
<g id="pf">
<defs><clipPath id="cf"><rect x="402.7" y="594.8" width="242.59999999999997" height="234.80000000000007"/></clipPath></defs>
<line x1="410.9" y1="594.8" x2="410.9" y2="829.6" stroke="#c8c8d8" stroke-width="0.9" />
<line x1="426.4" y1="594.8" x2="426.4" y2="829.6" stroke="#c8c8d8" stroke-width="0.9" />
<line x1="441.9" y1="594.8" x2="441.9" y2="829.6" stroke="#c8c8d8" stroke-width="0.9" />
<line x1="457.4" y1="594.8" x2="457.4" y2="829.6" stroke="#c8c8d8" stroke-width="0.9" />
<line x1="472.9" y1="594.8" x2="472.9" y2="829.6" stroke="#c8c8d8" stroke-width="0.9" />
<line x1="488.4" y1="594.8" x2="488.4" y2="829.6" stroke="#c8c8d8" stroke-width="0.9" />
<line x1="503.9" y1="594.8" x2="503.9" y2="829.6" stroke="#c8c8d8" stroke-width="0.9" />
<line x1="519.4" y1="594.8" x2="519.4" y2="829.6" stroke="#c8c8d8" stroke-width="0.9" />
<line x1="534.9" y1="594.8" x2="534.9" y2="829.6" stroke="#c8c8d8" stroke-width="0.9" />
<line x1="550.4" y1="594.8" x2="550.4" y2="829.6" stroke="#c8c8d8" stroke-width="0.9" />
<line x1="565.9" y1="594.8" x2="565.9" y2="829.6" stroke="#c8c8d8" stroke-width="0.9" />
<line x1="581.4" y1="594.8" x2="581.4" y2="829.6" stroke="#c8c8d8" stroke-width="0.9" />
<line x1="596.9" y1="594.8" x2="596.9" y2="829.6" stroke="#c8c8d8" stroke-width="0.9" />
<line x1="612.4" y1="594.8" x2="612.4" y2="829.6" stroke="#c8c8d8" stroke-width="0.9" />
<line x1="627.9" y1="594.8" x2="627.9" y2="829.6" stroke="#c8c8d8" stroke-width="0.9" />
<g clip-path="url(#cf)">
<line x1="402.7" y1="641.5" x2="645.3" y2="641.5" stroke="#c47080" stroke-width="0.8" />
<path transform="scale(.1)" fill="none" stroke="#c47080" stroke-width="7"  d="M4028 6390l3 0 4 0 4 0 4 0 3 0 4 0 4-1 3 0 4 0 4 0 4 0 3 0 4 0 4 0 4 0 3 0 4 0 4 0 4 0 3 0 4 0 4-1 3 0 4 0 4 0 4 0 3 0 4 0 4 0 4 0 3 0 4 0 4 0 4 0 3 0 4 0 4 0 3 0 4 0 4-1 4 0 3 0 4 0 4 0 4 0 3 0 4 0 4 0 3 0 4 0 4 0 4 0 3 0 4 0 4 0 4 0 3 0 4 0 4 0 4 0 3 0 4-1 4 0 3 0 4 0 4 0 4 0 3 0 4 0 4 0 4 0 3 0 4 0 4 0 4 0 3 0 4 0 4 0 3 0 4 0 4 0 4 0 3 0 4 0 4 0 4 0 3 0 4 0 4 0 3 0 4 0 4 0 4 0 3 0 4 0 4 0 4 0 3 0 4 0 4 0 4 0 3 0 4 0 4 0 3 0 4 0 4 0 4 0 3 0 4 0 4 0 4 0 3 0 4 0 4 0 4 0 3 0 4 0 4 0 3 0 4 0 4 0 4 0 3 0 4 0 4 0 4 0 3 0 4 0 4 0 3 0 4 0 4 0 4 0 3 0 4 0 4 0 4 0 3 0 4 0 4 0 4 0 3 0 4 0 4 0 3 0 4 0 4 1 4 0 3 0 4 0 4 0 4 0 3 0 4 0 4 0 4 0 3 0 4 0 4 0 3 0 4 0 4 0 4 0 3 0 4 0 4 0 4 0 3 0 4 0 4 1 3 0 4 0 4 0 4 0 3 0 4 0 4 0 4 0 3 0 4 0 4 0 4 0 3 0 4 0 4 0 3 0 4 0 4 1 4 0 3 0 4 0 4 0 4 0 3 0 4 0 4 0 4 0 3 0 4 0 4 0 3 0 4 1 4 0 4 0 3 0 4 0 4 0 4 0 3 0 4 0 4 0 3 0 4 0 4 0 4 0 3 1 4 0 4 0 4 0 3 0 4 0 4 0 4 0 3 0 4 0 4 0 3 0 4 1 4 0 4 0 3 0 4 0 4 0 4 0 3 0 4 0 4 0 4 0 3 0 4 1 4 0 3 0 4 0 4 0 4 0 3 0 4 0 4 0 4 0 3 0 4 1 4 0 3 0 4 0 4 0 4 0 3 0 4 0 4 0 4 0 3 0 4 1 4 0 4 0 3 0 4 0 4 0 3 0 4 0 4 0 4 0 3 0 4 1 4 0 4 0 3 0 4 0 4 0 4 0 3 0 4 0 4 0 3 1 4 0 4 0 4 0 3 0 4 0 4 0 4 0 3 0 4 0 4 0 3 1 4 0 4 0 4 0 3 0 4 0 4 0 4 0 3 0 4 0 4 1 4 0 3 0 4 0 4 0 3 0 4 0 4 0 4 0 3 0 4 0 4 1 4 0 3 0 4 0 4 0 4 0 3 0 4 0 4 0 3 0 4 0 4 1 4 0 3 0 4 0 4 0 4 0 3 0 4 0 4 0 3 0 4 0 4 1 4 0 3 0 4 0 4 0 4 0 3 0 4 0 4 0 4 0 3 0 4 1 4 0 3 0 4 0 4 0 4 0 3 0 4 0 4 0 4 0 3 0 4 0 4 1 4 0 3 0 4 0 4 0 3 0 4 0 4 0 4 0 3 0 4 0 4 0 4 1 3 0 4 0 4 0 3 0 4 0 4 0 4 0 3 0 4 0 4 0 4 0 3 0 4 1 4 0 4 0 3 0 4 0 4 0 3 0 4 0 4 0 4 0 3 0 4 0 4 0 4 1 3 0 4 0 4 0 4 0 3 0 4 0 4 0 3 0 4 0 4 0 4 0 3 0 4 0 4 0 4 1 3 0 4 0 4 0 3 0 4 0 4 0 4 0 3 0 4 0 4 0 4 0 3 0 4 0 4 0 4 0 3 1 4 0 4 0 3 0 4 0 4 0 4 0 3 0 4 0 4 0 4 0 3 0 4 0 4 0 4 0 3 0 4 0 4 1 3 0 4 0 4 0 4 0 3 0 4 0 4 0 4 0 3 0 4 0 4 0 3 0 4 0 4 0 4 0 3 0 4 0 4 0 4 0 3 1 4 0 4 0 4 0 3 0 4 0 4 0 3 0 4 0 4 0 4 0 3 0 4 0 4 0 4 0 3 0 4 0 4 0 4 0 3 0 4 0 4 0 3 0 4 0 4 1 4 0 3 0 4 0 4 0 4 0 3 0 4 0 4 0 3 0 4 0 4 0 4 0 3 0 4 0 4 0 4 0 3 0 4 0 4 0 4 0 3 0 4 0 4 0 3 0 4 0 4 0 4 0 3 0 4 1 4 0 4 0 3 0 4 0 4 0 4 0 3 0 4 0 4 0 3 0 4 0 4 0 4 0 3 0 4 0 4 0 4 0 3 0 4 0 4 0 3 0 4 0 4 0 4 0 3 0 4 0 4 0 4 0 3 0 4 0 4 0 4 0 3 0 4 0 4 0 3 0 4 0 4 0 4 0 3 0 4 1 4 0 4 0 3 0 4 0 4 0 4 0 3 0 4 0 4 0 3 0 4 0 4 0 4 0 3 0 4 0 4 0 4 0 3 0 4 0 4 0 3 0 4 0 4 0 4 0 3 0 4 0 4 0 4 0 3 0 4 0 4 0 4 0 3 0 4 0 4 0 3 0 4 0 4 0 4 0 3 0 4 0 4 0 4 0 3 0 4 0 4 0 4 0 3 0 4 0 4 0 3 0 4 0 4 0 4 0 3 0 4 0 4 0 4 0 3 0 4 0 4 0 3 0 4 0 4 0 4 0 3 0 4 0 4 0 4 0 3 0 4 0 4 0 4 0 3 0 4 0 4 0 3 0 4 1 4 0 4 0 3 0 4 0 4 0 4 0 3 0 4 0 4 0 3 0"/>
<path transform="scale(.1)" fill="none" stroke="#c47080" stroke-width="7"  d="M4028 6415l3 0 4 0 4 0 4 0 3 0 4 0 4-1 3 0 4 0 4 0 4 0 3 0 4 0 4 0 4 0 3 0 4 0 4 0 4 0 3 0 4 0 4 0 3 0 4 0 4 0 4 0 3 0 4 0 4 0 4 0 3 0 4 0 4 0 4 0 3 0 4 0 4 0 3 0 4 0 4 0 4 0 3 0 4 0 4 0 4 0 3 0 4 0 4 0 3 0 4 0 4 0 4 0 3 0 4 0 4 0 4 0 3 0 4 0 4 0 4 0 3 0 4 0 4 0 3 0 4 0 4 0 4 0 3 0 4 0 4 0 4 0 3 0 4 0 4 0 4 0 3 0 4 0 4 0 3 0 4 0 4-1 4 0 3 0 4 0 4 0 4 0 3 0 4 0 4 0 3 0 4 0 4 0 4 0 3 0 4 0 4 0 4 0 3 0 4 0 4 0 4 0 3 0 4 0 4 0 3 0 4 0 4 0 4 0 3 0 4 0 4 0 4 0 3 0 4 0 4 0 4 0 3 0 4-1 4 0 3 0 4 0 4 0 4 0 3 0 4 0 4 0 4 0 3 0 4 0 4 0 3 0 4 0 4 0 4 0 3 0 4 0 4 0 4 0 3 0 4 0 4 0 4 0 3 0 4-1 4 0 3 0 4 0 4 0 4 0 3 0 4 0 4 0 4 0 3 0 4 0 4 0 4 0 3 0 4 0 4 0 3 0 4 0 4 0 4 0 3-1 4 0 4 0 4 0 3 0 4 0 4 0 3 0 4 0 4 0 4 0 3 0 4 0 4 0 4 0 3 0 4-1 4 0 4 0 3 0 4 0 4 0 3 0 4 0 4 0 4 0 3 0 4 0 4 0 4 0 3 0 4-1 4 0 4 0 3 0 4 0 4 0 3 0 4 0 4 0 4 0 3 0 4 0 4 0 4-1 3 0 4 0 4 0 3 0 4 0 4 0 4 0 3 0 4 0 4 0 4-1 3 0 4 0 4 0 4 0 3 0 4 0 4 0 3 0 4 0 4-1 4 0 3 0 4 0 4 0 4 0 3 0 4 0 4 0 4 0 3-1 4 0 4 0 3 0 4 0 4 0 4 0 3 0 4 0 4-1 4 0 3 0 4 0 4 0 3 0 4 0 4 0 4-1 3 0 4 0 4 0 4 0 3 0 4 0 4 0 4-1 3 0 4 0 4 0 3 0 4 0 4 0 4-1 3 0 4 0 4 0 4 0 3 0 4 0 4-1 4 0 3 0 4 0 4 0 3 0 4 0 4-1 4 0 3 0 4 0 4 0 4 0 3-1 4 0 4 0 3 0 4 0 4 0 4-1 3 0 4 0 4 0 4 0 3 0 4-1 4 0 4 0 3 0 4 0 4 0 3-1 4 0 4 0 4 0 3 0 4-1 4 0 4 0 3 0 4 0 4 0 4-1 3 0 4 0 4 0 3 0 4-1 4 0 4 0 3 0 4 0 4-1 4 0 3 0 4 0 4 0 3-1 4 0 4 0 4 0 3 0 4-1 4 0 4 0 3 0 4-1 4 0 4 0 3 0 4 0 4-1 3 0 4 0 4 0 4-1 3 0 4 0 4 0 4 0 3-1 4 0 4 0 4 0 3-1 4 0 4 0 3 0 4-1 4 0 4 0 3 0 4-1 4 0 4 0 3 0 4-1 4 0 3 0 4 0 4-1 4 0 3 0 4 0 4-1 4 0 3 0 4 0 4-1 4 0 3 0 4 0 4-1 3 0 4 0 4 0 4-1 3 0 4 0 4-1 4 0 3 0 4 0 4-1 4 0 3 0 4 0 4-1 3 0 4 0 4-1 4 0 3 0 4 0 4-1 4 0 3 0 4-1 4 0 3 0 4 0 4-1 4 0 3 0 4-1 4 0 4 0 3 0 4-1 4 0 4 0 3-1 4 0 4 0 3-1 4 0 4 0 4 0 3-1 4 0 4 0 4-1 3 0 4 0 4-1 4 0 3 0 4 0 4-1 3 0 4 0 4-1 4 0 3 0 4-1 4 0 4 0 3-1 4 0 4 0 3 0 4-1 4 0 4 0 3-1 4 0 4 0 4-1 3 0 4 0 4-1 4 0 3 0 4 0 4-1 3 0 4 0 4-1 4 0 3 0 4-1 4 0 4 0 3-1 4 0 4 0 4 0 3-1 4 0 4 0 3-1 4 0 4 0 4-1 3 0 4 0 4-1 4 0 3 0 4-1 4 0 3 0 4 0 4-1 4 0 3 0 4-1 4 0 4 0 3-1 4 0 4 0 4 0 3-1 4 0 4 0 3-1 4 0 4 0 4-1 3 0 4 0 4 0 4-1 3 0 4 0 4-1 4 0 3 0 4-1 4 0 3 0 4 0 4-1 4 0 3 0 4-1 4 0 4 0 3 0 4-1 4 0 3 0 4-1 4 0 4 0 3 0 4-1 4 0 4 0 3 0 4-1 4 0 4 0 3-1 4 0 4 0 3 0 4-1 4 0 4 0 3 0 4-1 4 0 4 0 3 0 4-1 4 0 4 0 3 0 4-1 4 0 3 0 4 0 4-1 4 0 3 0 4 0 4-1 4 0 3 0 4 0 4-1 3 0 4 0 4 0 4 0 3-1 4 0 4 0 4 0 3-1 4 0 4 0 4 0 3 0 4-1 4 0 3 0 4 0 4 0 4-1 3 0 4 0 4 0 4 0 3-1 4 0 4 0 4 0 3 0 4 0 4-1 3 0 4 0 4 0 4 0 3 0 4-1 4 0 4 0 3 0 4 0 4 0 3-1 4 0 4 0 4 0 3 0 4 0 4 0 4-1 3 0 4 0 4 0 4 0 3 0 4 0 4 0 3-1 4 0 4 0 4 0 3 0 4 0 4 0 4 0 3 0 4-1 4 0 3 0"/>
<path transform="scale(.1)" fill="none" stroke="#000" stroke-width="11" stroke-linejoin="bevel" d="M4028 6389l3 10 4-29 4 72 4-109 3 66 4-23 4-35 3 76 4-8 4-46 4 54 3-27 4 2 4-12 4 12 3-21 4 33 4-16 4 30 3-44 4 54 4-51 3 24 4-49 4 27 4-2 3 23 4-22 4-13 4 9 3-29 4 40 4-45 4 78 3-21 4-9 4 2 3-17 4 20 4 21 4-20 3 20 4-27 4-6 4 89 3-104 4 39 4-122 3 98 4 7 4-25 4-7 3 94 4-120 4 63 4-11 3 8 4 17 4-17 4-5 3-2 4-20 4 9 3 30 4-48 4 16 4 29 3-27 4-8 4 24 4-3 3 56 4-12 4-34 4-5 3-25 4 53 4-13 3-17 4 23 4 1 4-51 3 24 4-32 4 57 4-45 3 0 4-26 4 42 3-27 4 6 4 24 4 31 3-12 4-2 4-9 4-22 3-8 4-231 4 244 4-2 3-5 4 43 4 4 3-45 4 20 4-1 4-38 3 51 4 18 4-18 4-51 3 39 4-18 4 1 4-36 3 65 4-27 4 3 3 12 4-11 4 44 4-49 3 41 4-54 4 26 4 36 3-27 4-28 4 36 3 30 4-43 4-5 4 1 3-7 4-23 4 4 4-3 3 31 4-46 4 77 4-3 3-6 4-21 4-10 3 28 4-23 4-21 4 11 3 2 4-16 4-8 4 51 3-14 4 32 4-17 4 1 3-10 4 30 4-34 3-6 4 28 4-15 4-30 3 2 4 36 4-9 4-7 3-18 4-8 4 32 3-1 4-15 4 18 4-21 3 41 4-15 4-56 4 36 3 26 4-47 4 21 4 2 3-3 4-44 4 57 3 11 4-35 4-3 4 38 3-13 4-46 4 20 4-17 3 41 4-8 4 27 4 25 3-72 4 48 4-25 3 19 4-18 4 12 4-55 3 40 4 15 4-13 4 58 3-71 4 31 4-44 3 53 4-59 4 89 4-40 3-42 4 11 4 26 4-33 3 41 4-43 4-13 4-3 3 62 4-58 4 1 3 26 4-1 4-3 4 21 3-4 4-20 4-8 4 21 3 41 4-55 4 61 4-76 3 12 4 39 4-43 3 1 4 30 4 25 4-61 3 21 4 15 4-31 4 37 3-42 4-13 4 54 3-2 4-32 4 16 4 45 3-69 4 37 4-39 4 59 3-40 4-2 4-2 4 33 3 15 4-52 4-9 3 21 4-8 4 28 4 8 3-54 4-7 4-9 4 35 3 31 4 42 4-71 4-19 3 10 4 0 4 42 3-55 4-6 4-27 4 29 3-7 4 82 4-9 4-3 3-53 4 21 4 24 3-2 4-36 4 53 4-50 3 0 4-39 4 48 4 44 3-76 4 28 4 7 4 13 3-21 4 22 4-6 3 1 4-40 4 11 4 47 3-31 4 13 4-17 4-8 3 18 4-35 4 0 4 52 3-23 4 26 4 11 3-3 4-6 4-2 4-36 3 3 4 24 4 7 4-29 3-7 4-20 4 27 3-6 4 47 4-28 4-19 3 28 4 2 4-232 4 189 3 24 4-24 4 16 4 23 3-13 4 2 4-28 3 28 4-4 4 27 4-1 3-22 4-2 4-17 4 1 3 7 4 29 4-36 4 47 3-40 4-9 4-21 3 44 4-14 4 4 4 35 3-57 4 32 4-27 4 45 3-41 4-5 4 15 3-49 4 43 4-13 4 66 3-66 4 57 4-12 4-6 3-9 4-53 4 47 4-8 3 17 4-12 4 38 3-48 4 0 4 42 4 14 3-31 4-21 4 26 4 18 3-51 4 49 4-57 4-11 3 74 4-61 4-1 3 0 4-21 4-6 4 31 3-1 4 8 4 5 4-35 3 7 4 16 4-36 3 2 4 6 4 25 4-4 3-37 4 11 4 15 4 30 3-7 4-9 4 3 4-26 3 5 4 63 4-49 3-9 4 39 4 10 4-33 3 2 4-38 4 33 4-23 3-11 4 5 4 41 4-15 3 14 4 10 4-45 3 55 4-3 4-2 4-26 3 3 4-14 4-3 4 89 3-50 4-22 4-18 3-2 4 46 4-17 4 27 3-56 4 19 4-14 4 13 3 20 4 16 4-79 4 80 3-8 4-61 4 54 3-38 4-20 4 0 4 14 3 8 4-21 4 20 4-7 3 19 4 3 4 24 4-67 3 29 4-40 4 82 3-1 4-27 4-134 4 129 3 10 4-4 4-12 4-35 3 19 4 36 4-18 3 2 4-45 4 89 4-31 3-28 4 24 4-41 4 43 3-18 4-22 4-22 4 12 3 39 4-36 4 47 3-14 4-34 4 58 4-61 3 55 4-44 4 15 4-11 3 4 4 41 4-33 4-17 3 22 4-24 4 50 3-16 4-48 4 27 4 2 3-5 4-23 4 46 4-36 3 19 4 1 4 21 3-57 4 25 4 20 4-7 3 11 4-38 4 55 4-21 3-8 4-8 4 23 4 1 3-41 4-19 4 59 3-12 4 2 4 7 4-36 3 74 4-23 4-23 4-15 3-4 4-6 4-1 4 20 3-2 4-15 4-16 3 1 4 31 4 4 4-42 3 14 4-19 4 34 4 7 3-21 4 50 4-55 3 30 4 1 4-13 4 28 3-15 4-46 4 61 4-32 3 26 4-50 4-16 4 89 3-55 4 1 4-12 3-6 4 14 4-8 4 32 3-457 4 426 4 39 4-18 3-4 4 26 4-13 4 6 3-43 4-19 4 33 3-26 4 58 4-28 4 11 3-26 4 34 4-14 4 0 3 8 4 15 4-42 3 40 4-28 4 37 4 2 3-10 4-3 4-43 4 41 3-7 4 2 4-24 4-13 3 36 4-8 4-34 3-4 4 28 4 4 4 53 3-40 4-43 4 38 4 35 3-39 4 7 4-28 3 16"/>
<path transform="scale(.1)" fill="none" stroke="#cc2020" stroke-width="8" stroke-dasharray="16,16" d="M4028 6390l3-1 4 0 4 0 4 0 3 0 4 0 4 0 3 0 4 0 4 0 4 0 3 0 4 0 4-1 4 0 3 0 4 0 4 0 4 0 3 0 4 0 4 0 3 0 4 0 4 0 4 0 3-1 4 0 4 0 4 0 3 0 4 0 4 0 4 0 3 0 4 0 4 0 3 0 4 0 4 0 4 0 3-1 4 0 4 0 4 0 3 0 4 0 4 0 3 0 4 0 4 0 4 0 3 0 4 0 4 0 4 0 3 0 4 0 4-1 4 0 3 0 4 0 4 0 3 0 4 0 4 0 4 0 3 0 4 0 4 0 4 0 3 0 4 0 4 0 4 0 3 0 4 0 4 0 3 0 4-1 4 0 4 0 3 0 4 0 4 0 4 0 3 0 4 0 4 0 3 0 4 0 4 0 4 0 3 0 4 0 4 0 4 0 3 0 4 0 4 0 4 0 3 0 4 0 4 0 3 0 4 0 4 0 4 0 3 0 4-1 4 0 4 0 3 0 4 0 4 0 4 0 3 0 4 0 4 0 3 0 4 0 4 0 4 0 3 0 4 0 4 0 4 0 3 0 4 0 4 0 3 0 4 0 4 0 4 0 3 0 4 0 4 0 4 0 3 0 4 0 4 0 4 0 3 0 4 0 4 0 3 0 4 0 4 0 4 0 3 0 4 0 4 0 4 0 3 0 4 0 4 0 4 0 3 0 4 0 4 0 3 0 4 0 4 0 4 0 3 0 4 0 4 0 4 0 3 0 4 0 4 0 3 0 4 0 4 0 4 0 3 0 4 0 4 0 4 0 3 0 4 0 4 0 4 0 3 0 4 0 4 0 3 0 4 0 4 0 4 0 3 0 4-1 4 0 4 0 3 0 4 0 4 0 4 0 3 0 4 0 4 0 3 0 4 0 4 0 4 0 3 0 4 0 4 0 4 0 3 0 4 0 4 0 3 0 4 0 4 0 4 0 3 0 4 0 4 0 4 0 3 0 4 0 4 0 4 0 3 0 4 0 4 0 3 0 4 0 4 0 4 0 3 0 4 0 4 0 4 0 3 0 4 0 4 0 4 0 3 0 4 0 4 0 3 0 4 0 4 0 4 0 3 0 4 0 4 0 4 0 3 0 4 0 4 0 3 0 4 0 4-1 4 0 3 0 4 0 4 0 4 0 3 0 4 0 4 0 4 0 3 0 4 0 4 0 3 0 4 0 4 0 4 0 3 0 4 0 4 0 4 0 3 0 4 0 4 0 4-1 3 0 4 0 4 0 3 0 4 0 4 0 4 0 3 0 4 0 4 0 4 0 3 0 4 0 4 0 3 0 4-1 4 0 4 0 3 0 4 0 4 0 4 0 3 0 4 0 4 0 4 0 3 0 4 0 4-1 3 0 4 0 4 0 4 0 3 0 4 0 4 0 4 0 3 0 4 0 4-1 4 0 3 0 4 0 4 0 3 0 4 0 4 0 4 0 3 0 4-1 4 0 4 0 3 0 4 0 4 0 3 0 4 0 4 0 4-1 3 0 4 0 4 0 4 0 3 0 4 0 4-1 4 0 3 0 4 0 4 0 3 0 4 0 4 0 4-1 3 0 4 0 4 0 4 0 3 0 4 0 4-1 4 0 3 0 4 0 4 0 3 0 4-1 4 0 4 0 3 0 4 0 4 0 4-1 3 0 4 0 4 0 3 0 4 0 4-1 4 0 3 0 4 0 4 0 4 0 3-1 4 0 4 0 4 0 3 0 4-1 4 0 3 0 4 0 4 0 4-1 3 0 4 0 4 0 4 0 3-1 4 0 4 0 4 0 3 0 4-1 4 0 3 0 4 0 4 0 4-1 3 0 4 0 4 0 4 0 3-1 4 0 4 0 3 0 4-1 4 0 4 0 3 0 4 0 4-1 4 0 3 0 4 0 4-1 4 0 3 0 4 0 4-1 3 0 4 0 4 0 4-1 3 0 4 0 4 0 4-1 3 0 4 0 4 0 4 0 3-1 4 0 4 0 3 0 4-1 4 0 4 0 3 0 4-1 4 0 4 0 3-1 4 0 4 0 3 0 4-1 4 0 4 0 3 0 4-1 4 0 4 0 3 0 4-1 4 0 4 0 3 0 4-1 4 0 3 0 4-1 4 0 4 0 3 0 4-1 4 0 4 0 3 0 4-1 4 0 4 0 3 0 4-1 4 0 3 0 4-1 4 0 4 0 3 0 4-1 4 0 4 0 3 0 4-1 4 0 3 0 4-1 4 0 4 0 3 0 4-1 4 0 4 0 3 0 4-1 4 0 4 0 3-1 4 0 4 0 3 0 4-1 4 0 4 0 3 0 4-1 4 0 4 0 3 0 4-1 4 0 4 0 3-1 4 0 4 0 3 0 4-1 4 0 4 0 3 0 4-1 4 0 4 0 3 0 4-1 4 0 3 0 4 0 4-1 4 0 3 0 4 0 4-1 4 0 3 0 4 0 4-1 4 0 3 0 4 0 4-1 3 0 4 0 4 0 4-1 3 0 4 0 4 0 4-1 3 0 4 0 4 0 4-1 3 0 4 0 4 0 3 0 4-1 4 0 4 0 3 0 4-1 4 0 4 0 3 0 4 0 4-1 3 0 4 0 4 0 4-1 3 0 4 0 4 0 4 0 3-1 4 0 4 0 4 0 3 0 4-1 4 0 3 0 4 0 4 0 4 0 3-1 4 0 4 0 4 0 3 0 4-1 4 0 4 0 3 0 4 0 4 0 3-1 4 0 4 0 4 0 3 0 4 0 4 0 4-1 3 0 4 0 4 0 3 0 4 0 4 0 4-1 3 0 4 0 4 0 4 0 3 0 4 0 4 0 4-1 3 0 4 0 4 0 3 0 4 0 4 0 4 0 3 0 4-1 4 0 4 0 3 0 4 0 4 0 3 0"/>
<line x1="402.7" y1="688.9" x2="645.3" y2="688.9" stroke="#c47080" stroke-width="0.8" />
<path transform="scale(.1)" fill="none" stroke="#c47080" stroke-width="7"  d="M4028 6818l3-1 4 0 4-1 4 0 3-1 4 0 4-1 3-1 4 0 4-1 4 0 3-1 4-1 4 0 4-1 3 0 4-1 4-1 4 0 3-1 4 0 4-1 3-1 4 0 4-1 4-1 3 0 4-1 4 0 4-1 3-1 4 0 4-1 4 0 3-1 4-1 4 0 3-1 4-1 4 0 4-1 3 0 4-1 4-1 4 0 3-1 4-1 4 0 3-1 4 0 4-1 4-1 3 0 4-1 4-1 4 0 3-1 4 0 4-1 4-1 3 0 4-1 4 0 3-1 4-1 4 0 4-1 3 0 4-1 4-1 4 0 3-1 4 0 4-1 4-1 3 0 4-1 4 0 3-1 4-1 4 0 4-1 3 0 4-1 4 0 4-1 3-1 4 0 4-1 3 0 4-1 4 0 4-1 3-1 4 0 4-1 4 0 3-1 4 0 4-1 4 0 3-1 4 0 4-1 3 0 4-1 4 0 4-1 3 0 4-1 4 0 4-1 3 0 4-1 4 0 4-1 3 0 4-1 4 0 3-1 4 0 4-1 4 0 3 0 4-1 4 0 4-1 3 0 4-1 4 0 3 0 4-1 4 0 4-1 3 0 4 0 4-1 4 0 3 0 4-1 4 0 4 0 3-1 4 0 4-1 3 0 4 0 4 0 4-1 3 0 4 0 4-1 4 0 3 0 4-1 4 0 4 0 3 0 4-1 4 0 3 0 4 0 4-1 4 0 3 0 4 0 4 0 4-1 3 0 4 0 4 0 3 0 4-1 4 0 4 0 3 0 4 0 4 0 4 0 3 0 4-1 4 0 4 0 3 0 4 0 4 0 3 0 4 0 4 0 4 0 3 0 4 0 4-1 4 0 3 0 4 0 4 0 4 0 3 0 4 0 4 0 3 0 4 0 4 1 4 0 3 0 4 0 4 0 4 0 3 0 4 0 4 0 3 0 4 0 4 0 4 0 3 1 4 0 4 0 4 0 3 0 4 0 4 0 4 1 3 0 4 0 4 0 3 0 4 0 4 1 4 0 3 0 4 0 4 1 4 0 3 0 4 0 4 0 4 1 3 0 4 0 4 1 3 0 4 0 4 0 4 1 3 0 4 0 4 1 4 0 3 0 4 1 4 0 3 0 4 1 4 0 4 0 3 1 4 0 4 0 4 1 3 0 4 1 4 0 4 0 3 1 4 0 4 1 3 0 4 0 4 1 4 0 3 1 4 0 4 1 4 0 3 1 4 0 4 0 4 1 3 0 4 1 4 0 3 1 4 0 4 1 4 0 3 1 4 0 4 1 4 0 3 1 4 0 4 1 3 0 4 1 4 0 4 1 3 0 4 1 4 1 4 0 3 1 4 0 4 1 4 0 3 1 4 0 4 1 3 1 4 0 4 1 4 0 3 1 4 0 4 1 4 1 3 0 4 1 4 0 4 1 3 1 4 0 4 1 3 0 4 1 4 1 4 0 3 1 4 0 4 1 4 1 3 0 4 1 4 0 3 1 4 1 4 0 4 1 3 0 4 1 4 1 4 0 3 1 4 1 4 0 4 1 3 0 4 1 4 1 3 0 4 1 4 1 4 0 3 1 4 0 4 1 4 1 3 0 4 1 4 0 4 1 3 1 4 0 4 1 3 1 4 0 4 1 4 0 3 1 4 1 4 0 4 1 3 1 4 0 4 1 3 0 4 1 4 1 4 0 3 1 4 0 4 1 4 1 3 0 4 1 4 0 4 1 3 1 4 0 4 1 3 0 4 1 4 0 4 1 3 1 4 0 4 1 4 0 3 1 4 1 4 0 4 1 3 0 4 1 4 0 3 1 4 0 4 1 4 1 3 0 4 1 4 0 4 1 3 0 4 1 4 0 3 1 4 0 4 1 4 1 3 0 4 1 4 0 4 1 3 0 4 1 4 0 4 1 3 0 4 1 4 0 3 1 4 0 4 1 4 0 3 1 4 0 4 1 4 0 3 1 4 0 4 1 4 0 3 0 4 1 4 0 3 1 4 0 4 1 4 0 3 1 4 0 4 1 4 0 3 0 4 1 4 0 3 1 4 0 4 0 4 1 3 0 4 1 4 0 4 1 3 0 4 0 4 1 4 0 3 1 4 0 4 0 3 1 4 0 4 0 4 1 3 0 4 1 4 0 4 0 3 1 4 0 4 0 4 1 3 0 4 0 4 1 3 0 4 0 4 1 4 0 3 0 4 1 4 0 4 0 3 1 4 0 4 0 3 1 4 0 4 0 4 0 3 1 4 0 4 0 4 1 3 0 4 0 4 0 4 1 3 0 4 0 4 1 3 0 4 0 4 0 4 1 3 0 4 0 4 0 4 1 3 0 4 0 4 0 4 1 3 0 4 0 4 0 3 0 4 1 4 0 4 0 3 0 4 1 4 0 4 0 3 0 4 0 4 1 3 0 4 0 4 0 4 0 3 1 4 0 4 0 4 0 3 0 4 1 4 0 4 0 3 0 4 0 4 0 3 1 4 0 4 0 4 0 3 0 4 0 4 1 4 0 3 0 4 0 4 0 4 0 3 0 4 1 4 0 3 0 4 0 4 0 4 0 3 0 4 1 4 0 4 0 3 0 4 0 4 0 3 0 4 0 4 1 4 0 3 0 4 0 4 0 4 0 3 0 4 0 4 0 4 1 3 0 4 0 4 0 3 0 4 0 4 0 4 0 3 0 4 0 4 1 4 0 3 0 4 0 4 0 4 0 3 0 4 0 4 0 3 0 4 0 4 0 4 1 3 0 4 0 4 0 4 0 3 0 4 0 4 0 3 0 4 0 4 0 4 0 3 0 4 0 4 1 4 0 3 0 4 0 4 0 4 0 3 0 4 0 4 0 3 0 4 0 4 0 4 0 3 0 4 0 4 0 4 0 3 0 4 0 4 1 3 0"/>
<path transform="scale(.1)" fill="none" stroke="#c47080" stroke-width="7"  d="M4028 6889l3 0 4 0 4 0 4 0 3 0 4 0 4 0 3 0 4 0 4 0 4 0 3 0 4 0 4 0 4 0 3 0 4 0 4 0 4 0 3 0 4 0 4 0 3 0 4 0 4 0 4 0 3 0 4 0 4 0 4 0 3 0 4 0 4 0 4 0 3 0 4 0 4 0 3 0 4 0 4 0 4 0 3 0 4 0 4 0 4 0 3 0 4 0 4 0 3 0 4 0 4 0 4 0 3 0 4 0 4 0 4 0 3 0 4 0 4 0 4 0 3 0 4 0 4 0 3 0 4 0 4 0 4 0 3 0 4 0 4 0 4 0 3 0 4 0 4 0 4 0 3 0 4 0 4 0 3 0 4 0 4 0 4 0 3 0 4 0 4 0 4 0 3 0 4 0 4 0 3 0 4 0 4 0 4 0 3 0 4 0 4 0 4 0 3 0 4 0 4 0 4 0 3 0 4 0 4 0 3 0 4 0 4 0 4 0 3 0 4 0 4 0 4 0 3 0 4 0 4 0 4 0 3 0 4 0 4 0 3 0 4 0 4 0 4 0 3 0 4 0 4 0 4 0 3 0 4 0 4 0 3 0 4 0 4 0 4 0 3 0 4 0 4 0 4 0 3 0 4 0 4 0 4 0 3 0 4 0 4 0 3 0 4 0 4 0 4 0 3 0 4 0 4 0 4 0 3 0 4 0 4 0 4 0 3 0 4 0 4 0 3-1 4 0 4 0 4 0 3 0 4 0 4 0 4 0 3 0 4 0 4 0 3 0 4 0 4 0 4 0 3 0 4 0 4 0 4 0 3 0 4 0 4 0 4 0 3 0 4 0 4 0 3 0 4 0 4 0 4-1 3 0 4 0 4 0 4 0 3 0 4 0 4 0 4 0 3 0 4 0 4 0 3 0 4 0 4-1 4 0 3 0 4 0 4 0 4 0 3 0 4 0 4 0 3 0 4-1 4 0 4 0 3 0 4 0 4 0 4 0 3-1 4 0 4 0 4 0 3 0 4 0 4-1 3 0 4 0 4 0 4 0 3 0 4-1 4 0 4 0 3 0 4-1 4 0 4 0 3 0 4 0 4-1 3 0 4 0 4-1 4 0 3 0 4 0 4-1 4 0 3 0 4-1 4 0 3 0 4-1 4 0 4 0 3-1 4 0 4-1 4 0 3 0 4-1 4 0 4-1 3 0 4-1 4 0 3-1 4 0 4-1 4 0 3-1 4 0 4-1 4 0 3-1 4 0 4-1 4-1 3 0 4-1 4 0 3-1 4-1 4 0 4-1 3-1 4-1 4 0 4-1 3-1 4-1 4 0 3-1 4-1 4-1 4-1 3 0 4-1 4-1 4-1 3-1 4-1 4-1 4-1 3-1 4-1 4-1 3-1 4-1 4-1 4-1 3-1 4-1 4-1 4-1 3-1 4-1 4-2 4-1 3-1 4-1 4-1 3-2 4-1 4-1 4-1 3-2 4-1 4-1 4-2 3-1 4-1 4-2 3-1 4-1 4-2 4-1 3-2 4-1 4-2 4-1 3-2 4-1 4-2 4-1 3-2 4-1 4-2 3-1 4-2 4-1 4-2 3-2 4-1 4-2 4-2 3-1 4-2 4-2 4-1 3-2 4-2 4-1 3-2 4-2 4-1 4-2 3-2 4-2 4-1 4-2 3-2 4-2 4-1 3-2 4-2 4-2 4-1 3-2 4-2 4-2 4-1 3-2 4-2 4-2 4-1 3-2 4-2 4-2 3-1 4-2 4-2 4-1 3-2 4-2 4-2 4-1 3-2 4-2 4-1 4-2 3-2 4-1 4-2 3-1 4-2 4-2 4-1 3-2 4-1 4-2 4-1 3-2 4-1 4-2 3-1 4-1 4-2 4-1 3-1 4-2 4-1 4-1 3-2 4-1 4-1 4-1 3-1 4-2 4-1 3-1 4-1 4-1 4-1 3-1 4-1 4-1 4-1 3-1 4 0 4-1 4-1 3-1 4-1 4 0 3-1 4-1 4 0 4-1 3 0 4-1 4 0 4-1 3 0 4-1 4 0 3 0 4-1 4 0 4 0 3 0 4 0 4-1 4 0 3 0 4 0 4 0 4 0 3 0 4 1 4 0 3 0 4 0 4 0 4 1 3 0 4 0 4 1 4 0 3 0 4 1 4 0 4 1 3 0 4 1 4 1 3 0 4 1 4 1 4 0 3 1 4 1 4 1 4 1 3 1 4 1 4 0 3 1 4 1 4 1 4 2 3 1 4 1 4 1 4 1 3 1 4 1 4 2 4 1 3 1 4 1 4 2 3 1 4 1 4 2 4 1 3 2 4 1 4 1 4 2 3 1 4 2 4 1 4 2 3 1 4 2 4 2 3 1 4 2 4 1 4 2 3 2 4 1 4 2 4 2 3 1 4 2 4 2 3 1 4 2 4 2 4 2 3 1 4 2 4 2 4 2 3 1 4 2 4 2 4 2 3 1 4 2 4 2 3 2 4 1 4 2 4 2 3 2 4 1 4 2 4 2 3 2 4 1 4 2 4 2 3 1 4 2 4 2 3 2 4 1 4 2 4 2 3 1 4 2 4 2 4 1 3 2 4 2 4 1 3 2 4 2 4 1 4 2 3 1 4 2 4 1 4 2 3 1 4 2 4 2 4 1 3 2 4 1 4 1 3 2 4 1 4 2 4 1 3 2 4 1 4 1 4 2 3 1 4 1 4 2 4 1 3 1 4 1 4 2 3 1 4 1 4 1 4 2 3 1 4 1 4 1 4 1 3 1 4 1 4 1 3 2 4 1 4 1 4 1 3 1 4 1 4 1 4 1 3 1 4 1 4 0 4 1 3 1 4 1 4 1 3 1 4 1 4 1 4 0 3 1 4 1 4 1 4 1 3 0 4 1 4 1 3 0"/>
<path transform="scale(.1)" fill="none" stroke="#000" stroke-width="11" stroke-linejoin="bevel" d="M4028 6813l3-33 4 45 4 10 4-22 3-6 4 34 4-42 3 51 4-15 4-35 4-21 3 38 4-28 4 24 4 17 3-13 4-24 4 1 4-24 3 26 4-22 4-190 3 243 4 1 4-21 4-31 3-6 4 45 4-6 4 13 3-10 4-69 4 55 4 24 3-5 4 18 4-60 3 20 4-54 4 11 4 62 3 8 4-1 4-54 4-44 3 73 4 3 4-6 3 13 4 21 4-26 4 15 3-175 4 151 4 2 4-21 3 41 4-56 4 6 4-3 3 36 4-18 4-27 3 18 4-249 4 246 4 19 3-4 4-3 4 31 4-17 3 7 4-6 4-31 4-11 3 10 4-9 4 20 3 4 4 12 4-38 4 18 3-11 4 4 4-35 4 58 3-13 4 18 4-11 3-30 4 19 4 47 4-32 3-26 4 3 4 12 4-25 3 16 4-4 4-16 4 1 3 51 4-31 4-36 3 23 4-22 4 36 4-28 3 18 4 3 4-9 4-20 3 37 4-12 4 10 4-7 3-6 4 3 4-6 3-27 4 47 4 28 4-85 3-7 4 71 4-19 4-30 3 22 4 9 4 8 3 18 4-68 4 31 4 37 3-52 4-11 4 18 4-6 3 41 4-44 4 17 4 5 3 7 4-24 4-59 3 68 4-6 4 3 4-2 3-40 4 17 4-27 4 7 3 76 4-63 4 26 4 33 3-4 4-26 4-35 3 10 4 14 4 23 4-16 3-10 4-5 4 21 4 33 3-21 4-33 4 13 3-17 4-119 4 151 4-26 3-15 4 43 4-3 4-40 3 33 4-12 4 6 4-3 3 2 4-30 4 20 3 5 4-9 4 16 4 13 3 8 4-70 4 55 4 8 3-39 4-1 4 2 4-1 3 40 4-71 4 19 3 32 4 2 4 48 4-34 3-41 4-3 4 32 4 12 3-20 4 7 4-5 3-19 4 76 4-59 4 38 3-51 4 34 4 18 4-49 3-6 4 33 4-51 4 46 3 1 4-13 4 5 3 11 4-52 4 44 4-20 3 25 4 4 4-2 4 14 3-51 4 55 4-31 4-8 3 52 4-56 4 35 3-10 4 14 4-43 4 52 3-9 4-31 4-44 4 25 3-4 4 51 4-52 3 34 4 1 4-71 4 27 3 29 4 30 4-29 4-17 3 15 4-25 4 42 4-25 3-11 4 26 4 10 3-45 4 29 4-7 4 29 3-26 4-2 4-1 4 7 3-4 4 11 4-10 4 14 3 2 4-47 4 98 3-22 4-39 4 11 4-69 3 36 4-12 4 49 4-7 3 25 4-21 4-31 3 36 4-39 4 13 4 38 3-8 4-361 4 321 4 34 3 1 4-15 4-5 4-3 3-14 4 56 4-33 3-20 4-26 4 21 4 17 3-8 4 24 4-35 4 41 3-4 4-7 4-19 4-22 3 25 4-37 4 8 3-6 4 13 4 7 4 8 3-22 4 17 4 15 4-30 3-6 4 26 4 13 3-16 4 39 4-67 4 30 3-31 4 7 4 21 4-8 3 48 4-46 4 24 4-47 3 24 4-18 4 21 3 11 4-3 4-51 4 18 3 11 4-7 4 22 4-22 3 12 4-341 4 352 4-27 3 30 4 2 4 5 3-73 4 18 4-14 4 7 3 25 4 18 4-6 4 12 3-26 4 3 4-1 3-49 4 67 4-35 4 20 3-12 4-2 4-37 4 42 3-19 4-42 4-1 4 28 3-2 4-32 4 25 3 22 4 8 4 1 4-24 3 7 4-38 4 45 4-39 3 16 4 3 4-19 4 20 3 2 4 37 4-34 3 22 4-32 4 4 4 2 3 18 4-11 4-43 4 8 3 27 4-38 4 34 3 32 4-32 4-3 4 16 3-7 4-23 4 26 4-18 3-12 4 32 4-13 4 12 3-36 4-24 4 19 3 58 4-65 4 42 4-25 3 30 4-71 4 36 4 18 3-17 4-31 4 75 4-60 3 19 4 44 4-48 3-9 4 22 4 19 4-9 3-20 4-19 4 16 4-15 3 45 4 5 4-61 3-10 4 49 4-11 4 2 3-16 4 5 4 6 4 9 3 44 4-79 4 64 4-7 3 21 4-26 4 12 3-12 4 11 4-33 4 5 3 39 4-56 4 46 4-70 3 49 4-4 4 10 4-16 3-49 4 57 4 3 3 15 4 7 4-35 4-5 3 46 4-12 4 5 4 8 3-14 4 19 4 5 3-81 4 115 4-42 4-18 3 30 4 13 4-34 4-4 3-11 4 67 4-37 4-19 3-25 4 24 4 48 3-28 4 8 4-11 4-7 3-17 4 54 4-34 4 29 3 10 4 2 4 0 4-28 3 6 4 73 4-58 3-14 4 4 4-4 4 27 3-16 4 59 4-39 4 21 3 19 4 1 4-26 3-16 4 58 4-40 4-16 3 29 4-34 4 34 4-24 3 9 4-24 4 0 4 63 3-54 4-8 4 84 3-77 4 24 4 35 4-51 3 23 4 26 4-3 4-2 3-3 4 3 4 6 4 17 3-19 4-11 4-9 3 37 4 8 4 18 4-65 3 10 4 58 4 17 4-42 3 21 4-32 4-34 3 53 4 27 4-48 4 0 3 11 4 11 4 10 4-11 3 50 4-43 4 7 4-10 3 67 4-58 4-1 3 28 4-23 4 28 4-22 3-352 4 373 4-14 4 12 3-23 4 9 4 46 4-22 3-32 4 13 4-15 3 34 4-11 4-10 4 49 3-33 4 41 4-37 4-24 3 18 4 7 4 7 3-20 4 39 4-68 4 35 3 1 4-2 4 31 4-36 3 11 4 25 4-4 4 3 3 16 4 27 4-42 3-11 4-22 4 21 4-30 3 43 4-1 4-2 4 11 3-33 4 47 4-23 3-1"/>
<path transform="scale(.1)" fill="none" stroke="#cc2020" stroke-width="8" stroke-dasharray="16,16" d="M4028 6818l3-1 4 0 4-1 4 0 3-1 4 0 4-1 3-1 4 0 4-1 4 0 3-1 4-1 4 0 4-1 3 0 4-1 4-1 4 0 3-1 4 0 4-1 3-1 4 0 4-1 4-1 3 0 4-1 4 0 4-1 3-1 4 0 4-1 4 0 3-1 4-1 4 0 3-1 4-1 4 0 4-1 3 0 4-1 4-1 4 0 3-1 4-1 4 0 3-1 4 0 4-1 4-1 3 0 4-1 4-1 4 0 3-1 4 0 4-1 4-1 3 0 4-1 4 0 3-1 4-1 4 0 4-1 3 0 4-1 4-1 4 0 3-1 4 0 4-1 4-1 3 0 4-1 4 0 3-1 4-1 4 0 4-1 3 0 4-1 4 0 4-1 3-1 4 0 4-1 3 0 4-1 4 0 4-1 3-1 4 0 4-1 4 0 3-1 4 0 4-1 4 0 3-1 4 0 4-1 3 0 4-1 4 0 4-1 3 0 4-1 4 0 4-1 3 0 4-1 4 0 4-1 3 0 4-1 4 0 3-1 4 0 4-1 4 0 3-1 4 0 4 0 4-1 3 0 4-1 4 0 3-1 4 0 4 0 4-1 3 0 4 0 4-1 4 0 3-1 4 0 4 0 4-1 3 0 4 0 4-1 3 0 4 0 4-1 4 0 3 0 4-1 4 0 4 0 3-1 4 0 4 0 4-1 3 0 4 0 4 0 3-1 4 0 4 0 4 0 3-1 4 0 4 0 4 0 3 0 4-1 4 0 3 0 4 0 4-1 4 0 3 0 4 0 4 0 4 0 3-1 4 0 4 0 4 0 3 0 4 0 4 0 3-1 4 0 4 0 4 0 3 0 4 0 4 0 4 0 3 0 4-1 4 0 4 0 3 0 4 0 4 0 3 0 4 0 4 0 4 0 3 0 4 0 4 0 4 0 3 0 4 0 4 0 3 0 4 0 4 0 4 0 3 0 4 0 4 0 4 0 3 0 4 0 4 0 4 0 3 0 4 0 4 0 3 0 4 0 4 0 4 0 3 0 4 0 4 0 4 0 3 0 4 0 4 0 4 0 3 0 4 0 4 0 3 0 4 0 4 0 4 0 3 0 4 0 4 0 4 0 3 0 4 0 4 0 3 0 4 0 4 0 4 0 3 0 4 0 4 0 4 0 3 0 4 0 4 0 4 0 3 0 4 0 4 0 3-1 4 0 4 0 4 0 3 0 4 0 4 0 4 0 3 0 4 0 4-1 4 0 3 0 4 0 4 0 3 0 4 0 4-1 4 0 3 0 4 0 4 0 4-1 3 0 4 0 4 0 3-1 4 0 4 0 4-1 3 0 4 0 4-1 4 0 3 0 4-1 4 0 4 0 3-1 4 0 4-1 3 0 4-1 4 0 4 0 3-1 4 0 4-1 4-1 3 0 4-1 4 0 4-1 3 0 4-1 4-1 3 0 4-1 4 0 4-1 3-1 4-1 4 0 4-1 3-1 4 0 4-1 3-1 4-1 4-1 4 0 3-1 4-1 4-1 4-1 3-1 4 0 4-1 4-1 3-1 4-1 4-1 3-1 4-1 4-1 4-1 3-1 4-1 4-1 4-1 3-1 4-1 4-1 4-1 3-1 4-1 4-1 3-1 4-2 4-1 4-1 3-1 4-1 4-1 4-1 3-1 4-1 4-2 3-1 4-1 4-1 4-1 3-1 4-2 4-1 4-1 3-1 4-1 4-1 4-1 3-2 4-1 4-1 3-1 4-1 4-1 4-1 3-2 4-1 4-1 4-1 3-1 4-1 4-1 4-1 3-1 4-1 4-1 3-1 4-1 4-1 4-1 3-1 4-1 4-1 4-1 3-1 4-1 4-1 3-1 4-1 4-1 4-1 3 0 4-1 4-1 4-1 3 0 4-1 4-1 4-1 3 0 4-1 4-1 3 0 4-1 4 0 4-1 3 0 4-1 4 0 4-1 3 0 4 0 4-1 4 0 3 0 4-1 4 0 3 0 4 0 4 0 4-1 3 0 4 0 4 0 4 0 3 0 4 0 4 0 3 0 4 1 4 0 4 0 3 0 4 0 4 1 4 0 3 0 4 1 4 0 4 0 3 1 4 0 4 1 3 1 4 0 4 1 4 0 3 1 4 1 4 0 4 1 3 1 4 1 4 1 4 1 3 0 4 1 4 1 3 1 4 1 4 1 4 1 3 2 4 1 4 1 4 1 3 1 4 1 4 2 3 1 4 1 4 2 4 1 3 1 4 2 4 1 4 2 3 1 4 2 4 1 4 2 3 1 4 2 4 1 3 2 4 1 4 2 4 2 3 1 4 2 4 2 4 1 3 2 4 2 4 2 4 1 3 2 4 2 4 2 3 2 4 1 4 2 4 2 3 2 4 2 4 2 4 2 3 2 4 1 4 2 3 2 4 2 4 2 4 2 3 2 4 2 4 2 4 2 3 2 4 2 4 1 4 2 3 2 4 2 4 2 3 2 4 2 4 2 4 2 3 2 4 2 4 2 4 2 3 1 4 2 4 2 4 2 3 2 4 2 4 2 3 1 4 2 4 2 4 2 3 2 4 2 4 1 4 2 3 2 4 2 4 1 3 2 4 2 4 2 4 1 3 2 4 2 4 1 4 2 3 2 4 1 4 2 4 2 3 1 4 2 4 1 3 2 4 1 4 2 4 1 3 2 4 1 4 2 4 1 3 2 4 1 4 1 4 2 3 1 4 2 4 1 3 1 4 2 4 1 4 1 3 1 4 2 4 1 4 1 3 1 4 1 4 2 3 1 4 1 4 1 4 1 3 1 4 1 4 1 4 1 3 1 4 1 4 1 4 1 3 1 4 1 4 1 3 1 4 1 4 1 4 1 3 0 4 1 4 1 4 1 3 1 4 0 4 1 3 1"/>
<line x1="402.7" y1="734.8" x2="645.3" y2="734.8" stroke="#c47080" stroke-width="0.8" />
<path transform="scale(.1)" fill="none" stroke="#c47080" stroke-width="7"  d="M4028 7322l3 0 4 0 4 0 4 0 3-1 4 0 4 0 3 0 4-1 4 0 4 0 3 0 4 0 4-1 4 0 3 0 4 0 4-1 4 0 3 0 4 0 4 0 3-1 4 0 4 0 4 0 3-1 4 0 4 0 4 0 3-1 4 0 4 0 4 0 3-1 4 0 4 0 3 0 4 0 4-1 4 0 3 0 4 0 4-1 4 0 3 0 4 0 4-1 3 0 4 0 4 0 4-1 3 0 4 0 4 0 4-1 3 0 4 0 4 0 4-1 3 0 4 0 4 0 3 0 4-1 4 0 4 0 3 0 4-1 4 0 4 0 3 0 4-1 4 0 4 0 3 0 4-1 4 0 3 0 4 0 4-1 4 0 3 0 4 0 4-1 4 0 3 0 4 0 4-1 3 0 4 0 4 0 4 0 3-1 4 0 4 0 4 0 3-1 4 0 4 0 4 0 3-1 4 0 4 0 3 0 4 0 4-1 4 0 3 0 4 0 4-1 4 0 3 0 4 0 4 0 4-1 3 0 4 0 4 0 3-1 4 0 4 0 4 0 3 0 4-1 4 0 4 0 3 0 4 0 4-1 3 0 4 0 4 0 4 0 3-1 4 0 4 0 4 0 3 0 4-1 4 0 4 0 3 0 4 0 4 0 3-1 4 0 4 0 4 0 3 0 4 0 4-1 4 0 3 0 4 0 4 0 4 0 3-1 4 0 4 0 3 0 4 0 4 0 4-1 3 0 4 0 4 0 4 0 3 0 4 0 4-1 3 0 4 0 4 0 4 0 3 0 4 0 4 0 4 0 3-1 4 0 4 0 4 0 3 0 4 0 4 0 3 0 4 0 4-1 4 0 3 0 4 0 4 0 4 0 3 0 4 0 4 0 4 0 3 0 4 0 4-1 3 0 4 0 4 0 4 0 3 0 4 0 4 0 4 0 3 0 4 0 4 0 3 0 4 0 4 0 4 0 3 0 4 0 4 0 4 0 3 0 4 0 4 0 4 0 3 0 4 0 4 0 3 0 4 0 4 0 4 0 3 0 4 0 4 0 4 0 3 0 4 0 4 0 4 0 3 0 4 0 4 0 3 0 4 0 4 0 4 0 3 0 4 0 4 0 4 0 3 0 4 0 4 0 3 0 4 0 4 0 4 0 3 0 4 1 4 0 4 0 3 0 4 0 4 0 4 0 3 0 4 0 4 0 3 0 4 0 4 1 4 0 3 0 4 0 4 0 4 0 3 0 4 0 4 0 4 1 3 0 4 0 4 0 3 0 4 0 4 0 4 0 3 0 4 1 4 0 4 0 3 0 4 0 4 0 3 0 4 1 4 0 4 0 3 0 4 0 4 0 4 1 3 0 4 0 4 0 4 0 3 0 4 1 4 0 3 0 4 0 4 0 4 0 3 1 4 0 4 0 4 0 3 0 4 0 4 1 4 0 3 0 4 0 4 0 3 1 4 0 4 0 4 0 3 0 4 1 4 0 4 0 3 0 4 0 4 1 3 0 4 0 4 0 4 0 3 1 4 0 4 0 4 0 3 1 4 0 4 0 4 0 3 0 4 1 4 0 3 0 4 0 4 1 4 0 3 0 4 0 4 0 4 1 3 0 4 0 4 0 4 1 3 0 4 0 4 0 3 1 4 0 4 0 4 0 3 0 4 1 4 0 4 0 3 0 4 1 4 0 3 0 4 0 4 1 4 0 3 0 4 0 4 1 4 0 3 0 4 0 4 1 4 0 3 0 4 0 4 1 3 0 4 0 4 0 4 1 3 0 4 0 4 0 4 0 3 1 4 0 4 0 4 0 3 1 4 0 4 0 3 0 4 1 4 0 4 0 3 0 4 1 4 0 4 0 3 0 4 1 4 0 3 0 4 0 4 1 4 0 3 0 4 0 4 0 4 1 3 0 4 0 4 0 4 1 3 0 4 0 4 0 3 1 4 0 4 0 4 0 3 1 4 0 4 0 4 0 3 0 4 1 4 0 4 0 3 0 4 1 4 0 3 0 4 0 4 0 4 1 3 0 4 0 4 0 4 1 3 0 4 0 4 0 3 0 4 1 4 0 4 0 3 0 4 0 4 1 4 0 3 0 4 0 4 0 4 1 3 0 4 0 4 0 3 0 4 1 4 0 4 0 3 0 4 0 4 1 4 0 3 0 4 0 4 0 4 1 3 0 4 0 4 0 3 0 4 1 4 0 4 0 3 0 4 0 4 0 4 1 3 0 4 0 4 0 3 0 4 1 4 0 4 0 3 0 4 0 4 0 4 1 3 0 4 0 4 0 4 0 3 0 4 0 4 1 3 0 4 0 4 0 4 0 3 0 4 1 4 0 4 0 3 0 4 0 4 0 4 0 3 1 4 0 4 0 3 0 4 0 4 0 4 0 3 1 4 0 4 0 4 0 3 0 4 0 4 0 3 1 4 0 4 0 4 0 3 0 4 0 4 0 4 0 3 1 4 0 4 0 4 0 3 0 4 0 4 0 3 0 4 0 4 1 4 0 3 0 4 0 4 0 4 0 3 0 4 0 4 0 4 1 3 0 4 0 4 0 3 0 4 0 4 0 4 0 3 0 4 0 4 1 4 0 3 0 4 0 4 0 3 0 4 0 4 0 4 0 3 0 4 0 4 1 4 0 3 0 4 0 4 0 4 0 3 0 4 0 4 0 3 0 4 0 4 0 4 0 3 1 4 0 4 0 4 0 3 0 4 0 4 0 4 0 3 0 4 0 4 0 3 0 4 0 4 0 4 0 3 1 4 0 4 0 4 0 3 0 4 0 4 0 3 0 4 0 4 0 4 0 3 0 4 0 4 0 4 0 3 0 4 0 4 1 4 0 3 0 4 0 4 0 3 0 4 0 4 0 4 0 3 0 4 0 4 0 4 0 3 0 4 0 4 0 3 0"/>
<path transform="scale(.1)" fill="none" stroke="#c47080" stroke-width="7"  d="M4028 7348l3 0 4 0 4 0 4 0 3 0 4 0 4 0 3 0 4 0 4 0 4 0 3 0 4 0 4 0 4 0 3 0 4 0 4 0 4 0 3 0 4 0 4 0 3 0 4 0 4 0 4 0 3 0 4 0 4 0 4 0 3 0 4 0 4 0 4 0 3 0 4 0 4 0 3 0 4 0 4 0 4 0 3 0 4 0 4 0 4 0 3 0 4 0 4 0 3 0 4 0 4 0 4 0 3 0 4 0 4 0 4 0 3 0 4 0 4 0 4 0 3 0 4 0 4 0 3 0 4 0 4 0 4 0 3 0 4 0 4 0 4 0 3 0 4 0 4 0 4 0 3 0 4 0 4 0 3 0 4 0 4 0 4 0 3 0 4 0 4 0 4 0 3 0 4 0 4 0 3 0 4 0 4 0 4 0 3 0 4 0 4 0 4 0 3 0 4 0 4 0 4 0 3 0 4 0 4 0 3 0 4 0 4 0 4 0 3 0 4 0 4 0 4 0 3 0 4 0 4 0 4 0 3 0 4 0 4 0 3 0 4 0 4 0 4 0 3 0 4 0 4 0 4 0 3 0 4 0 4 0 3 0 4 0 4 0 4 0 3 0 4 0 4 0 4 0 3 0 4 0 4 0 4 0 3 0 4 0 4 0 3 0 4 0 4 0 4 0 3 0 4 0 4 0 4 0 3 0 4 0 4 0 4 0 3 0 4 0 4 0 3 0 4 0 4 0 4 0 3 0 4 0 4 0 4 0 3 0 4 0 4 0 3 0 4 0 4 0 4 0 3 0 4 0 4 0 4 0 3 0 4 0 4 0 4 0 3 0 4 0 4 0 3 0 4 0 4 0 4 0 3 0 4 0 4 0 4 0 3 0 4 0 4 0 4 0 3 0 4 0 4 0 3-1 4 0 4 0 4 0 3 0 4 0 4 0 4 0 3 0 4 0 4 0 3 0 4 0 4 0 4 0 3 0 4 0 4 0 4 0 3 0 4 0 4 0 4 0 3-1 4 0 4 0 3 0 4 0 4 0 4 0 3 0 4 0 4 0 4 0 3-1 4 0 4 0 4 0 3 0 4 0 4 0 3 0 4-1 4 0 4 0 3 0 4 0 4 0 4-1 3 0 4 0 4 0 3 0 4-1 4 0 4 0 3 0 4-1 4 0 4 0 3 0 4-1 4 0 4 0 3-1 4 0 4 0 3-1 4 0 4 0 4-1 3 0 4 0 4-1 4 0 3-1 4 0 4 0 4-1 3 0 4-1 4 0 3-1 4 0 4-1 4 0 3-1 4 0 4-1 4-1 3 0 4-1 4 0 3-1 4-1 4 0 4-1 3-1 4 0 4-1 4-1 3-1 4 0 4-1 4-1 3-1 4 0 4-1 3-1 4-1 4-1 4-1 3-1 4 0 4-1 4-1 3-1 4-1 4-1 4-1 3-1 4-1 4-1 3-1 4-1 4-1 4-1 3-1 4-1 4-1 4-1 3-1 4-2 4-1 3-1 4-1 4-1 4-1 3-1 4-1 4-2 4-1 3-1 4-1 4-1 4-1 3-2 4-1 4-1 3-1 4-1 4-2 4-1 3-1 4-1 4-1 4-2 3-1 4-1 4-1 4-1 3-1 4-2 4-1 3-1 4-1 4-1 4-1 3-2 4-1 4-1 4-1 3-1 4-1 4-1 3-1 4-2 4-1 4-1 3-1 4-1 4-1 4-1 3-1 4-1 4-1 4-1 3-1 4-1 4-1 3-1 4 0 4-1 4-1 3-1 4-1 4-1 4-1 3 0 4-1 4-1 4-1 3 0 4-1 4-1 3-1 4 0 4-1 4-1 3 0 4-1 4-1 4 0 3-1 4 0 4-1 3 0 4-1 4 0 4-1 3 0 4-1 4 0 4-1 3 0 4 0 4-1 4 0 3-1 4 0 4 0 3-1 4 0 4 0 4 0 3-1 4 0 4 0 4 0 3-1 4 0 4 0 4 0 3 0 4-1 4 0 3 0 4 0 4 0 4 0 3 0 4 0 4 0 4 0 3 0 4 0 4 0 3 0 4 0 4 0 4 0 3 0 4 0 4 0 4 0 3 0 4 0 4 0 4 0 3 1 4 0 4 0 3 0 4 0 4 1 4 0 3 0 4 0 4 1 4 0 3 0 4 0 4 1 4 0 3 0 4 1 4 0 3 1 4 0 4 0 4 1 3 0 4 1 4 0 4 1 3 0 4 1 4 0 3 1 4 0 4 1 4 1 3 0 4 1 4 0 4 1 3 1 4 0 4 1 4 1 3 1 4 0 4 1 3 1 4 1 4 1 4 0 3 1 4 1 4 1 4 1 3 1 4 1 4 1 4 0 3 1 4 1 4 1 3 1 4 1 4 1 4 1 3 1 4 1 4 1 4 2 3 1 4 1 4 1 3 1 4 1 4 1 4 1 3 1 4 2 4 1 4 1 3 1 4 1 4 1 4 2 3 1 4 1 4 1 3 1 4 1 4 2 4 1 3 1 4 1 4 1 4 2 3 1 4 1 4 1 4 1 3 2 4 1 4 1 3 1 4 1 4 1 4 2 3 1 4 1 4 1 4 1 3 1 4 1 4 2 3 1 4 1 4 1 4 1 3 1 4 1 4 1 4 1 3 1 4 1 4 1 4 1 3 1 4 1 4 1 3 1 4 1 4 1 4 1 3 1 4 1 4 0 4 1 3 1 4 1 4 1 4 1 3 0 4 1 4 1 3 1 4 1 4 0 4 1 3 1 4 0 4 1 4 1 3 0 4 1 4 1 3 0 4 1 4 0 4 1 3 1 4 0 4 1 4 0 3 1 4 0 4 1 4 0 3 1 4 0 4 1 3 0 4 0 4 1 4 0 3 1 4 0 4 0 4 1 3 0 4 1 4 0 3 0"/>
<path transform="scale(.1)" fill="none" stroke="#000" stroke-width="11" stroke-linejoin="bevel" d="M4028 7325l3-63 4 47 4 19 4-37 3 27 4-11 4 27 3 27 4-89 4 36 4 19 3 16 4-10 4-5 4-5 3 45 4-35 4-47 4 15 3-23 4 28 4 24 3-44 4 40 4-15 4-2 3 2 4 42 4-67 4 47 3-29 4 27 4-18 4-17 3 58 4-4 4-57 3 40 4-1 4-48 4 13 3 12 4-21 4 33 4-28 3 0 4 1 4 19 3-30 4-7 4-10 4 51 3 0 4-34 4 23 4-48 3 40 4 7 4 27 4-41 3 25 4-42 4 16 3-2 4-242 4 280 4-25 3 15 4-18 4 13 4-37 3 1 4 29 4-9 4 10 3-14 4-54 4 64 3 60 4-84 4 22 4 15 3 7 4-38 4 34 4-43 3 18 4 29 4-24 3-18 4 32 4 20 4-36 3-53 4 67 4 0 4 9 3-54 4 35 4-5 4-10 3 1 4 47 4-55 3 43 4 10 4-26 4-17 3 12 4 14 4 1 4-25 3 14 4 21 4 7 4-27 3 0 4 42 4-47 3-19 4-14 4 9 4 33 3 4 4-29 4 35 4-3 3-74 4 93 4-40 3 35 4-47 4 35 4-31 3-8 4 3 4-20 4-10 3 71 4-12 4-48 4 24 3-7 4 8 4-16 3 26 4-37 4 18 4-33 3 69 4-1 4-20 4-91 3 117 4-17 4 5 4-64 3 67 4-26 4 17 3 13 4-32 4-19 4-5 3 36 4-35 4 17 4 17 3-26 4 33 4-46 3 62 4-3 4 27 4-61 3 27 4-5 4-26 4-23 3 35 4 33 4-73 4 63 3-31 4-8 4-12 3 22 4-23 4 8 4 9 3 10 4-8 4 25 4 0 3-28 4-40 4 87 4-40 3-16 4 36 4-11 3-29 4 56 4-50 4 0 3 11 4-21 4 10 4-371 3 381 4 38 4-8 3-50 4 17 4-13 4-10 3 45 4-85 4 94 4-57 3 62 4-48 4 18 4 26 3-20 4-1 4 6 3-12 4 10 4-18 4-21 3 42 4 12 4-82 4 81 3 11 4-66 4 54 4-34 3 17 4 14 4-35 3 42 4-46 4 66 4-57 3 9 4-206 4 259 4-39 3-15 4-1 4-28 3 5 4 45 4-4 4 14 3-26 4-7 4-6 4 22 3-31 4 35 4-22 4-34 3 52 4-11 4 47 3-75 4-2 4 16 4-7 3 50 4-57 4 2 4-24 3 54 4-10 4 29 4 6 3-50 4 11 4 21 3-34 4-18 4 45 4-29 3 10 4-3 4-21 4 34 3-21 4 56 4-53 3-43 4 9 4 20 4 43 3-38 4 15 4 8 4-15 3-2 4-21 4 28 4 44 3-40 4-41 4 33 3-21 4 5 4 15 4-25 3-6 4-3 4 51 4-26 3-2 4-5 4 39 4-16 3-31 4-14 4 26 3 23 4-66 4 26 4-12 3 30 4-6 4-5 4-7 3 39 4-25 4 55 3-69 4 37 4-73 4 19 3-4 4-3 4 7 4 24 3-5 4-9 4 20 4 3 3-38 4-36 4 45 3 30 4 24 4 0 4-26 3-39 4 20 4 20 4-27 3 2 4-22 4 3 4 11 3 28 4 0 4-25 3 9 4-45 4 0 4 62 3-69 4 60 4-29 4-17 3 44 4-30 4 7 3-29 4 29 4 9 4-38 3 8 4-12 4 25 4 23 3-57 4 17 4-52 4 59 3 43 4-35 4-20 3 52 4-17 4-26 4 10 3-23 4 25 4-68 4 67 3-18 4 26 4-24 4-3 3 19 4 12 4-79 3 56 4-162 4 185 4-78 3 70 4-25 4-1 4-29 3 53 4-34 4 1 3 17 4 16 4 6 4-26 3 9 4-21 4-21 4 19 3-8 4 40 4 23 4-47 3-17 4 29 4 19 3-20 4-9 4-19 4 28 3-15 4 14 4 54 4-86 3 39 4-59 4 1 4 52 3-5 4-22 4 13 3-34 4-1 4 73 4 15 3-72 4-16 4 43 4 10 3-20 4 20 4 47 3-16 4-25 4-39 4 36 3-11 4 33 4-56 4 71 3-63 4 11 4 3 4 2 3 0 4 11 4-19 3-45 4 46 4 53 4-29 3-31 4 7 4 2 4 15 3 5 4 9 4 18 4-51 3-1 4-42 4 40 3 23 4-29 4 4 4 57 3-40 4-9 4 40 4-10 3-2 4-32 4-55 3 67 4 51 4-63 4 3 3-14 4 37 4 12 4 31 3-60 4-11 4 32 4 4 3 20 4-55 4 47 3-27 4 66 4-51 4 0 3-16 4-11 4 53 4 2 3-31 4-11 4 70 4-21 3-61 4 56 4-6 3 1 4-18 4 3 4 21 3-54 4 13 4 29 4 10 3 19 4-32 4 46 3-19 4-6 4-4 4 12 3-46 4 43 4-21 4 9 3 19 4-17 4 18 4 17 3 4 4-31 4 28 3-23 4 6 4-8 4 4 3 18 4-22 4 14 4-8 3 12 4 13 4 2 4 2 3-8 4 19 4-27 3 8 4 5 4 11 4-41 3-1 4 9 4 30 4-8 3-19 4 2 4 6 3-1 4-11 4 30 4 32 3-37 4 5 4-35 4 44 3-2 4-7 4 32 4-399 3 410 4 1 4-47 3-6 4 74 4-50 4-3 3 0 4-15 4 88 4-93 3 57 4 38 4-84 4 16 3 50 4 17 4-51 3-35 4 7 4 43 4-3 3-33 4 27 4 10 4-13 3 19 4 32 4-47 3 22 4-47 4 21 4 22 3 21 4-23 4-12 4 17 3-47 4-11 4 26 4 50 3-9 4 32 4-47 3 6 4-16 4 24 4 18 3-48 4 23 4-22 4-28 3 52 4-46 4 43 3-6"/>
<path transform="scale(.1)" fill="none" stroke="#cc2020" stroke-width="8" stroke-dasharray="16,16" d="M4028 7322l3 0 4 0 4 0 4 0 3-1 4 0 4 0 3 0 4-1 4 0 4 0 3 0 4 0 4-1 4 0 3 0 4 0 4-1 4 0 3 0 4 0 4 0 3-1 4 0 4 0 4 0 3-1 4 0 4 0 4 0 3-1 4 0 4 0 4 0 3-1 4 0 4 0 3 0 4 0 4-1 4 0 3 0 4 0 4-1 4 0 3 0 4 0 4-1 3 0 4 0 4 0 4-1 3 0 4 0 4 0 4-1 3 0 4 0 4 0 4-1 3 0 4 0 4 0 3 0 4-1 4 0 4 0 3 0 4-1 4 0 4 0 3 0 4-1 4 0 4 0 3 0 4-1 4 0 3 0 4 0 4-1 4 0 3 0 4 0 4-1 4 0 3 0 4 0 4-1 3 0 4 0 4 0 4 0 3-1 4 0 4 0 4 0 3-1 4 0 4 0 4 0 3-1 4 0 4 0 3 0 4 0 4-1 4 0 3 0 4 0 4-1 4 0 3 0 4 0 4 0 4-1 3 0 4 0 4 0 3-1 4 0 4 0 4 0 3 0 4-1 4 0 4 0 3 0 4 0 4-1 3 0 4 0 4 0 4 0 3-1 4 0 4 0 4 0 3 0 4-1 4 0 4 0 3 0 4 0 4 0 3-1 4 0 4 0 4 0 3 0 4-1 4 0 4 0 3 0 4 0 4 0 4 0 3-1 4 0 4 0 3 0 4 0 4 0 4-1 3 0 4 0 4 0 4 0 3 0 4 0 4-1 3 0 4 0 4 0 4 0 3 0 4 0 4-1 4 0 3 0 4 0 4 0 4 0 3 0 4 0 4 0 3-1 4 0 4 0 4 0 3 0 4 0 4 0 4 0 3 0 4-1 4 0 4 0 3 0 4 0 4 0 3 0 4 0 4 0 4 0 3 0 4-1 4 0 4 0 3 0 4 0 4 0 3 0 4 0 4 0 4 0 3 0 4 0 4-1 4 0 3 0 4 0 4 0 4 0 3 0 4 0 4 0 3 0 4 0 4 0 4-1 3 0 4 0 4 0 4 0 3 0 4 0 4 0 4 0 3 0 4-1 4 0 3 0 4 0 4 0 4 0 3 0 4 0 4-1 4 0 3 0 4 0 4 0 3 0 4 0 4-1 4 0 3 0 4 0 4 0 4 0 3-1 4 0 4 0 4 0 3 0 4-1 4 0 3 0 4 0 4-1 4 0 3 0 4-1 4 0 4 0 3 0 4-1 4 0 4 0 3-1 4 0 4 0 3-1 4 0 4-1 4 0 3 0 4-1 4 0 4-1 3 0 4-1 4 0 3-1 4 0 4-1 4 0 3-1 4 0 4-1 4 0 3-1 4 0 4-1 4-1 3 0 4-1 4-1 3 0 4-1 4-1 4 0 3-1 4-1 4 0 4-1 3-1 4-1 4 0 4-1 3-1 4-1 4-1 3 0 4-1 4-1 4-1 3-1 4-1 4 0 4-1 3-1 4-1 4-1 3-1 4-1 4-1 4-1 3-1 4-1 4 0 4-1 3-1 4-1 4-1 4-1 3-1 4-1 4-1 3-1 4-1 4-1 4-1 3-1 4-1 4-1 4-1 3-1 4-1 4-1 4-1 3-1 4-1 4 0 3-1 4-1 4-1 4-1 3-1 4-1 4-1 4-1 3-1 4-1 4 0 3-1 4-1 4-1 4-1 3-1 4 0 4-1 4-1 3-1 4 0 4-1 4-1 3-1 4 0 4-1 3-1 4 0 4-1 4-1 3 0 4-1 4-1 4 0 3-1 4 0 4-1 4 0 3-1 4 0 4-1 3 0 4-1 4 0 4 0 3-1 4 0 4-1 4 0 3 0 4-1 4 0 3 0 4-1 4 0 4 0 3 0 4-1 4 0 4 0 3 0 4 0 4 0 4-1 3 0 4 0 4 0 3 0 4 0 4 0 4 0 3 0 4 0 4 0 4 0 3 0 4 0 4 0 4 0 3 0 4 0 4 0 3 0 4 0 4 0 4 1 3 0 4 0 4 0 4 0 3 0 4 1 4 0 3 0 4 0 4 0 4 1 3 0 4 0 4 1 4 0 3 0 4 0 4 1 4 0 3 1 4 0 4 0 3 1 4 0 4 0 4 1 3 0 4 1 4 0 4 1 3 0 4 1 4 0 4 1 3 0 4 1 4 0 3 1 4 1 4 0 4 1 3 0 4 1 4 1 4 0 3 1 4 1 4 0 3 1 4 1 4 1 4 0 3 1 4 1 4 1 4 1 3 0 4 1 4 1 4 1 3 1 4 1 4 1 3 1 4 1 4 1 4 1 3 1 4 1 4 1 4 1 3 1 4 1 4 1 4 1 3 1 4 1 4 1 3 1 4 2 4 1 4 1 3 1 4 1 4 1 4 2 3 1 4 1 4 1 3 1 4 2 4 1 4 1 3 1 4 2 4 1 4 1 3 2 4 1 4 1 4 1 3 2 4 1 4 1 3 2 4 1 4 1 4 2 3 1 4 1 4 1 4 2 3 1 4 1 4 2 4 1 3 1 4 1 4 2 3 1 4 1 4 2 4 1 3 1 4 1 4 2 4 1 3 1 4 1 4 1 3 2 4 1 4 1 4 1 3 1 4 1 4 2 4 1 3 1 4 1 4 1 4 1 3 1 4 1 4 1 3 1 4 1 4 1 4 1 3 1 4 1 4 1 4 1 3 1 4 1 4 1 4 1 3 1 4 0 4 1 3 1 4 1 4 1 4 0 3 1 4 1 4 1 4 0 3 1 4 1 4 1 3 0 4 1 4 1 4 0 3 1 4 0 4 1 4 1 3 0 4 1 4 0 4 1 3 0 4 1 4 0 3 1 4 0 4 1 4 0 3 1 4 0 4 0 4 1 3 0 4 1 4 0 3 0"/>
<line x1="402.7" y1="782" x2="645.3" y2="782" stroke="#c47080" stroke-width="0.8" />
<path transform="scale(.1)" fill="none" stroke="#c47080" stroke-width="7"  d="M4028 7794l3-1 4 0 4-1 4 0 3-1 4-1 4 0 3-1 4 0 4-1 4-1 3 0 4-1 4-1 4 0 3-1 4 0 4-1 4-1 3-1 4 0 4-1 3-1 4 0 4-1 4-1 3-1 4 0 4-1 4-1 3-1 4 0 4-1 4-1 3-1 4-1 4 0 3-1 4-1 4-1 4-1 3-1 4-1 4 0 4-1 3-1 4-1 4-1 3-1 4-1 4-1 4-1 3-1 4-1 4-1 4 0 3-1 4-1 4-1 4-1 3-1 4-1 4-1 3-1 4-1 4-1 4-1 3-1 4-1 4-1 4-1 3-1 4-1 4-1 4-1 3-1 4-1 4-1 3-2 4-1 4-1 4-1 3-1 4-1 4-1 4-1 3-1 4-1 4-1 3-1 4-1 4-1 4-1 3-1 4-1 4-1 4-1 3-1 4-1 4-1 4-1 3-1 4-1 4-1 3-1 4-1 4-1 4-1 3-1 4-1 4-1 4-1 3-1 4-1 4-1 4 0 3-1 4-1 4-1 3-1 4-1 4-1 4-1 3 0 4-1 4-1 4-1 3-1 4 0 4-1 3-1 4-1 4 0 4-1 3-1 4-1 4 0 4-1 3-1 4 0 4-1 4 0 3-1 4-1 4 0 3-1 4 0 4-1 4 0 3-1 4 0 4-1 4 0 3-1 4 0 4 0 4-1 3 0 4 0 4-1 3 0 4 0 4-1 4 0 3 0 4 0 4-1 4 0 3 0 4 0 4 0 3 0 4 0 4 0 4-1 3 0 4 0 4 0 4 0 3 0 4 1 4 0 4 0 3 0 4 0 4 0 3 0 4 0 4 1 4 0 3 0 4 0 4 1 4 0 3 0 4 0 4 1 4 0 3 1 4 0 4 0 3 1 4 0 4 1 4 0 3 1 4 0 4 1 4 0 3 1 4 0 4 1 3 0 4 1 4 1 4 0 3 1 4 1 4 0 4 1 3 1 4 0 4 1 4 1 3 1 4 0 4 1 3 1 4 1 4 1 4 0 3 1 4 1 4 1 4 1 3 1 4 1 4 1 4 0 3 1 4 1 4 1 3 1 4 1 4 1 4 1 3 1 4 1 4 1 4 1 3 1 4 1 4 1 3 1 4 1 4 1 4 1 3 1 4 1 4 1 4 1 3 1 4 1 4 1 4 1 3 1 4 1 4 1 3 1 4 1 4 1 4 1 3 1 4 1 4 1 4 1 3 1 4 1 4 1 4 1 3 1 4 2 4 1 3 1 4 1 4 1 4 1 3 1 4 1 4 1 4 1 3 1 4 1 4 1 3 1 4 1 4 0 4 1 3 1 4 1 4 1 4 1 3 1 4 1 4 1 4 1 3 1 4 1 4 1 3 1 4 0 4 1 4 1 3 1 4 1 4 1 4 1 3 0 4 1 4 1 4 1 3 1 4 0 4 1 3 1 4 1 4 1 4 0 3 1 4 1 4 1 4 0 3 1 4 1 4 0 3 1 4 1 4 0 4 1 3 1 4 0 4 1 4 1 3 0 4 1 4 1 4 0 3 1 4 0 4 1 3 0 4 1 4 1 4 0 3 1 4 0 4 1 4 0 3 1 4 0 4 1 4 0 3 1 4 0 4 1 3 0 4 1 4 0 4 0 3 1 4 0 4 1 4 0 3 0 4 1 4 0 3 1 4 0 4 0 4 1 3 0 4 0 4 1 4 0 3 0 4 1 4 0 4 0 3 1 4 0 4 0 3 1 4 0 4 0 4 0 3 1 4 0 4 0 4 0 3 1 4 0 4 0 4 0 3 1 4 0 4 0 3 0 4 0 4 1 4 0 3 0 4 0 4 0 4 0 3 1 4 0 4 0 3 0 4 0 4 0 4 1 3 0 4 0 4 0 4 0 3 0 4 0 4 1 4 0 3 0 4 0 4 0 3 0 4 0 4 0 4 1 3 0 4 0 4 0 4 0 3 0 4 0 4 0 4 0 3 0 4 0 4 0 3 1 4 0 4 0 4 0 3 0 4 0 4 0 4 0 3 0 4 0 4 0 3 0 4 0 4 0 4 0 3 0 4 1 4 0 4 0 3 0 4 0 4 0 4 0 3 0 4 0 4 0 3 0 4 0 4 0 4 0 3 0 4 0 4 0 4 0 3 0 4 0 4 0 4 0 3 0 4 0 4 0 3 0 4 0 4 0 4 0 3 0 4 0 4 1 4 0 3 0 4 0 4 0 3 0 4 0 4 0 4 0 3 0 4 0 4 0 4 0 3 0 4 0 4 0 4 0 3 0 4 0 4 0 3 0 4 0 4 0 4 0 3 0 4 0 4 0 4 0 3 0 4 0 4 0 4 0 3 0 4 0 4 0 3 0 4 0 4 0 4 0 3 0 4 0 4 0 4 0 3 0 4 0 4 0 3 0 4 0 4 0 4 0 3 0 4 0 4 0 4 0 3 0 4 0 4 0 4 0 3 0 4 0 4 0 3 0 4 0 4 0 4 0 3 0 4 0 4 0 4 0 3 0 4 0 4 0 4 0 3 0 4 0 4 0 3 0 4 0 4 0 4 0 3 0 4 0 4 0 4 0 3 0 4 0 4 0 3 0 4 0 4 0 4 0 3 0 4 0 4 0 4 0 3 0 4 0 4 0 4 0 3 0 4 0 4 0 3 0 4 0 4 0 4 0 3 0 4 0 4 0 4 0 3 0 4 0 4 0 4 0 3 0 4 0 4 0 3 0 4 0 4 0 4 0 3 0 4 0 4 0 4 0 3 0 4 0 4 0 3 0 4 0 4 0 4 0 3 0 4 0 4 0 4 0 3 0 4 0 4 0 4 0 3 0 4 0 4 0 3 0 4 0 4 0 4 0 3 0 4 0 4 0 4 0 3 0 4 0 4 0 3 0"/>
<path transform="scale(.1)" fill="none" stroke="#c47080" stroke-width="7"  d="M4028 7820l3 0 4 0 4 0 4 0 3 0 4 0 4 0 3 0 4 0 4 0 4 0 3 0 4 0 4 0 4 0 3 0 4 0 4 0 4 0 3 0 4 0 4 0 3 0 4 0 4 0 4 0 3 0 4 0 4 0 4 0 3 0 4 0 4 0 4 0 3 0 4 0 4 0 3 0 4 0 4 0 4 0 3 0 4 0 4 0 4 0 3 0 4 0 4 0 3 0 4 0 4 0 4 0 3 0 4 0 4 0 4 0 3 0 4 0 4 0 4 0 3 0 4 0 4 0 3 0 4 0 4 0 4 0 3 0 4 0 4 0 4 0 3 0 4 0 4 0 4 0 3 0 4 0 4 0 3 0 4 0 4 0 4 0 3 0 4 0 4 0 4-1 3 0 4 0 4 0 3 0 4 0 4 0 4 0 3 0 4 0 4 0 4 0 3 0 4 0 4 0 4 0 3 0 4 0 4 0 3 0 4 0 4 0 4 0 3 0 4 0 4 0 4 0 3 0 4 0 4 0 4 0 3 0 4 0 4 0 3-1 4 0 4 0 4 0 3 0 4 0 4 0 4 0 3 0 4 0 4 0 3 0 4 0 4 0 4 0 3 0 4-1 4 0 4 0 3 0 4 0 4 0 4 0 3 0 4 0 4 0 3 0 4 0 4-1 4 0 3 0 4 0 4 0 4 0 3 0 4 0 4 0 4-1 3 0 4 0 4 0 3 0 4 0 4 0 4-1 3 0 4 0 4 0 4 0 3 0 4-1 4 0 3 0 4 0 4 0 4 0 3-1 4 0 4 0 4 0 3-1 4 0 4 0 4 0 3 0 4-1 4 0 3 0 4 0 4-1 4 0 3 0 4-1 4 0 4 0 3 0 4-1 4 0 4 0 3-1 4 0 4 0 3-1 4 0 4 0 4-1 3 0 4-1 4 0 4 0 3-1 4 0 4-1 3 0 4 0 4-1 4 0 3-1 4 0 4-1 4 0 3-1 4 0 4-1 4 0 3-1 4 0 4-1 3 0 4-1 4 0 4-1 3-1 4 0 4-1 4-1 3 0 4-1 4 0 4-1 3-1 4-1 4 0 3-1 4-1 4 0 4-1 3-1 4-1 4 0 4-1 3-1 4-1 4-1 3 0 4-1 4-1 4-1 3-1 4-1 4-1 4-1 3-1 4-1 4 0 4-1 3-1 4-1 4-1 3-1 4-1 4-2 4-1 3-1 4-1 4-1 4-1 3-1 4-1 4-1 4-1 3-2 4-1 4-1 3-1 4-1 4-2 4-1 3-1 4-1 4-2 4-1 3-1 4-2 4-1 3-1 4-2 4-1 4-1 3-2 4-1 4-2 4-1 3-1 4-2 4-1 4-2 3-1 4-2 4-1 3-2 4-1 4-2 4-1 3-2 4-2 4-1 4-2 3-1 4-2 4-2 4-1 3-2 4-1 4-2 3-2 4-1 4-2 4-2 3-2 4-1 4-2 4-2 3-1 4-2 4-2 3-2 4-1 4-2 4-2 3-2 4-1 4-2 4-2 3-2 4-1 4-2 4-2 3-2 4-1 4-2 3-2 4-2 4-2 4-1 3-2 4-2 4-2 4-2 3-1 4-2 4-2 4-2 3-1 4-2 4-2 3-2 4-1 4-2 4-2 3-2 4-1 4-2 4-2 3-2 4-1 4-2 3-2 4-1 4-2 4-2 3-1 4-2 4-2 4-1 3-2 4-2 4-1 4-2 3-1 4-2 4-2 3-1 4-2 4-1 4-2 3-1 4-2 4-1 4-1 3-2 4-1 4-2 4-1 3-1 4-2 4-1 3-1 4-1 4-2 4-1 3-1 4-1 4-2 4-1 3-1 4-1 4-1 3-1 4-1 4-1 4-1 3-1 4-1 4-1 4-1 3-1 4-1 4 0 4-1 3-1 4-1 4-1 3 0 4-1 4-1 4 0 3-1 4 0 4-1 4 0 3-1 4 0 4-1 4 0 3-1 4 0 4 0 3-1 4 0 4 0 4 0 3 0 4-1 4 0 4 0 3 0 4 0 4 0 3 0 4 0 4 0 4 0 3 0 4 1 4 0 4 0 3 0 4 1 4 0 4 0 3 1 4 0 4 0 3 1 4 0 4 1 4 0 3 1 4 0 4 1 4 1 3 0 4 1 4 1 4 0 3 1 4 1 4 1 3 0 4 1 4 1 4 1 3 1 4 1 4 1 4 1 3 1 4 1 4 1 3 1 4 1 4 1 4 2 3 1 4 1 4 1 4 1 3 2 4 1 4 1 4 2 3 1 4 1 4 2 3 1 4 1 4 2 4 1 3 2 4 1 4 2 4 1 3 2 4 1 4 2 4 1 3 2 4 1 4 2 3 2 4 1 4 2 4 1 3 2 4 2 4 1 4 2 3 2 4 1 4 2 3 2 4 2 4 1 4 2 3 2 4 2 4 1 4 2 3 2 4 2 4 1 4 2 3 2 4 2 4 1 3 2 4 2 4 2 4 2 3 1 4 2 4 2 4 2 3 1 4 2 4 2 4 2 3 2 4 1 4 2 3 2 4 2 4 1 4 2 3 2 4 2 4 1 4 2 3 2 4 2 4 1 3 2 4 2 4 2 4 1 3 2 4 2 4 1 4 2 3 2 4 1 4 2 4 2 3 1 4 2 4 2 3 1 4 2 4 1 4 2 3 2 4 1 4 2 4 1 3 2 4 1 4 2 4 1 3 2 4 1 4 2 3 1 4 2 4 1 4 2 3 1 4 1 4 2 4 1 3 2 4 1 4 1 3 2 4 1 4 1 4 1 3 2 4 1 4 1 4 1 3 2 4 1 4 1 4 1 3 2 4 1 4 1 3 1 4 1 4 1 4 1 3 1 4 2 4 1 4 1 3 1 4 1 4 1 3 1"/>
<path transform="scale(.1)" fill="none" stroke="#000" stroke-width="11" stroke-linejoin="bevel" d="M4028 7779l3 71 4-63 4 0 4-8 3-14 4 20 4 6 3-19 4-381 4 357 4 50 3-33 4-2 4-6 4 29 3-79 4 117 4-39 4 40 3-33 4 4 4-5 3-1 4-16 4-23 4 13 3 29 4 0 4-16 4-18 3 38 4-37 4-35 4 45 3 25 4-60 4 17 3 18 4 0 4-15 4-5 3 31 4-28 4 47 4-33 3 13 4-344 4 307 3-22 4 13 4 51 4-34 3-31 4 59 4-25 4-38 3 33 4 24 4-34 4 21 3-25 4 30 4-20 3 11 4 17 4-24 4-85 3 52 4-51 4 95 4-31 3-5 4 31 4-15 4-18 3-38 4 47 4-182 3 159 4-36 4 59 4-5 3-4 4 30 4-3 4-29 3-22 4 7 4 26 3-12 4-36 4-337 4 375 3-39 4-49 4 89 4 12 3-16 4 26 4-13 4-15 3-1 4 2 4-2 3-335 4 309 4 18 4 2 3-22 4 21 4-21 4-57 3 87 4 3 4-14 4-24 3 54 4-51 4-1 3-1 4 20 4-16 4-5 3-1 4 31 4-386 4 382 3-46 4 69 4-49 3 12 4-26 4 28 4-69 3 60 4-40 4 23 4 1 3-38 4 26 4 34 4-24 3 18 4-30 4 15 3 46 4-23 4-22 4-21 3-3 4 65 4-52 4 15 3-4 4-7 4 10 4 7 3 36 4-98 4 48 3-12 4-54 4 23 4 11 3 10 4 30 4-12 4-11 3-29 4 14 4-2 3 2 4 7 4-6 4 66 3-7 4-5 4-37 4-21 3 8 4-10 4 17 4-12 3 46 4-54 4 42 3-15 4 3 4-14 4 33 3 2 4-67 4 70 4-64 3 29 4 8 4-6 4-34 3 36 4-4 4-22 3 47 4-30 4-2 4-297 3 270 4 47 4-10 4-19 3 18 4-6 4 31 3-58 4-22 4 25 4 22 3-26 4 12 4 31 4-6 3-20 4 13 4 21 4-16 3-27 4 29 4 6 3-14 4 56 4-60 4-30 3 44 4 42 4-50 4 10 3 37 4-17 4-37 4-9 3-297 4 323 4-17 3 36 4-10 4-7 4 1 3 2 4-7 4-14 4 32 3-14 4 3 4-2 3-32 4 32 4-42 4 38 3 35 4-31 4 14 4-40 3 59 4-29 4 56 4-57 3 36 4-62 4 11 3 14 4-17 4 39 4-17 3 11 4-24 4 44 4-70 3 42 4 13 4-67 4-9 3-89 4 212 4-77 3 22 4 0 4 16 4-31 3 14 4-34 4 43 4-41 3 6 4-19 4 62 3-26 4-2 4-15 4 8 3 15 4-9 4-18 4 18 3-10 4 38 4-35 4-30 3-1 4 34 4 6 3-19 4 12 4 22 4-46 3 10 4-10 4-43 4 65 3-38 4 5 4-20 4-7 3 35 4 28 4-10 3-3 4-63 4-210 4 247 3-231 4 276 4-41 4 19 3-22 4 25 4-40 3-14 4 50 4-25 4 22 3 21 4 5 4-93 4 53 3 27 4-40 4 3 4 11 3-13 4 11 4 5 3-27 4-38 4 22 4 7 3-2 4-1 4-21 4-7 3 60 4 10 4-25 4-44 3-6 4 31 4-16 3 30 4-20 4 26 4-34 3 50 4 8 4-15 4-29 3-11 4-17 4 23 3-26 4 28 4-4 4-22 3 47 4-19 4-10 4 11 3-5 4-6 4-13 4 33 3-44 4 14 4-17 3 12 4-8 4 21 4-17 3 26 4-35 4-24 4 42 3-20 4 45 4-22 4-32 3 27 4-20 4-17 3 28 4-44 4 67 4-25 3-8 4-12 4 54 4-85 3 30 4 2 4-16 3 18 4-22 4 14 4 8 3 11 4-65 4 84 4 4 3-43 4 14 4-78 4 13 3 38 4 25 4-35 3 31 4-57 4 34 4-26 3-11 4 40 4-37 4 59 3-33 4 5 4-3 4 10 3-39 4 43 4-19 3 25 4-53 4-155 4 186 3 9 4-6 4 12 4 24 3 3 4-68 4 61 3-63 4 52 4-23 4-15 3 73 4-12 4-42 4-55 3 105 4-49 4 14 4-10 3 2 4 11 4-28 3-14 4 7 4 89 4-87 3 34 4 8 4-40 4 17 3-32 4 76 4-60 4 34 3-19 4 16 4 3 3 21 4 5 4-80 4 52 3-36 4 47 4-40 4 27 3 6 4 13 4-35 3 50 4-4 4-58 4 37 3 4 4 42 4-20 4-44 3 42 4 33 4-63 4 57 3-47 4-42 4 22 3 37 4 17 4 7 4-27 3 8 4-34 4 36 4-27 3 18 4-30 4 103 4-63 3 28 4-8 4 39 3-51 4 36 4-53 4-17 3 12 4 74 4-34 4-26 3 57 4-254 4 200 3 54 4-36 4 9 4 2 3-20 4 29 4-16 4 21 3 11 4 17 4-44 4 34 3-49 4 39 4 23 3-3 4-26 4-5 4 29 3 17 4-25 4 4 4-21 3 53 4-59 4 60 4-6 3-37 4-5 4 34 3 0 4-5 4 21 4-12 3-31 4-3 4 35 4-1 3 2 4-28 4 71 3-40 4 6 4 9 4-1 3 26 4-26 4-2 4 18 3-27 4-13 4 14 4 21 3 7 4-1 4 31 3-31 4-20 4 30 4-12 3 27 4-18 4-6 4 8 3 52 4-31 4-6 4 4 3-18 4 16 4 43 3-34 4 13 4-41 4 9 3 7 4-22 4 28 4 9 3 21 4-44 4 28 3-19 4 66 4-87 4 30 3-5 4 25 4 23 4-429 3 411 4 9 4 0 4-25 3 17 4 26 4-37 3 1 4 2 4 25 4 4 3-15 4-32 4 54 4 3 3-13 4 22 4-68 3 58"/>
<path transform="scale(.1)" fill="none" stroke="#cc2020" stroke-width="8" stroke-dasharray="16,16" d="M4028 7794l3-1 4 0 4-1 4 0 3-1 4-1 4 0 3-1 4 0 4-1 4-1 3 0 4-1 4-1 4 0 3-1 4-1 4 0 4-1 3-1 4 0 4-1 3-1 4 0 4-1 4-1 3-1 4 0 4-1 4-1 3-1 4-1 4 0 4-1 3-1 4-1 4-1 3 0 4-1 4-1 4-1 3-1 4-1 4-1 4 0 3-1 4-1 4-1 3-1 4-1 4-1 4-1 3-1 4-1 4-1 4-1 3-1 4-1 4-1 4-1 3-1 4-1 4-1 3-1 4-1 4-1 4-1 3-1 4-1 4-1 4-1 3-1 4-1 4-1 4-1 3-1 4-1 4-1 3-1 4-1 4-1 4-1 3-1 4-1 4-1 4-1 3-1 4-1 4-1 3-1 4-2 4-1 4-1 3-1 4-1 4-1 4-1 3-1 4-1 4-1 4-1 3-1 4-1 4-1 3-1 4-1 4-1 4-1 3-1 4-1 4-1 4-1 3-1 4-1 4-1 4-1 3-1 4-1 4-1 3-1 4 0 4-1 4-1 3-1 4-1 4-1 4-1 3-1 4 0 4-1 3-1 4-1 4-1 4-1 3 0 4-1 4-1 4-1 3 0 4-1 4-1 4 0 3-1 4-1 4 0 3-1 4-1 4 0 4-1 3-1 4 0 4-1 4 0 3-1 4 0 4-1 4 0 3-1 4 0 4-1 3 0 4-1 4 0 4 0 3-1 4 0 4-1 4 0 3 0 4-1 4 0 3 0 4 0 4-1 4 0 3 0 4 0 4-1 4 0 3 0 4 0 4 0 4-1 3 0 4 0 4 0 3 0 4 0 4 0 4 0 3 0 4 0 4 0 4 0 3 0 4 0 4 0 4 0 3 0 4 0 4 0 3 0 4 0 4 0 4 0 3 0 4 1 4 0 4 0 3 0 4 0 4 0 3 1 4 0 4 0 4 0 3 0 4 0 4 1 4 0 3 0 4 0 4 1 4 0 3 0 4 0 4 0 3 1 4 0 4 0 4 0 3 1 4 0 4 0 4 0 3 1 4 0 4 0 4 0 3 1 4 0 4 0 3 0 4 0 4 1 4 0 3 0 4 0 4 0 4 1 3 0 4 0 4 0 3 0 4 0 4 1 4 0 3 0 4 0 4 0 4 0 3 0 4 0 4 0 4 1 3 0 4 0 4 0 3 0 4 0 4 0 4 0 3 0 4 0 4 0 4-1 3 0 4 0 4 0 4 0 3 0 4 0 4 0 3-1 4 0 4 0 4 0 3-1 4 0 4 0 4 0 3-1 4 0 4 0 3-1 4 0 4-1 4 0 3 0 4-1 4 0 4-1 3 0 4-1 4 0 4-1 3-1 4 0 4-1 3 0 4-1 4-1 4 0 3-1 4-1 4 0 4-1 3-1 4-1 4-1 4 0 3-1 4-1 4-1 3-1 4-1 4-1 4-1 3 0 4-1 4-1 4-1 3-1 4-1 4-1 3-1 4-2 4-1 4-1 3-1 4-1 4-1 4-1 3-1 4-1 4-2 4-1 3-1 4-1 4-1 3-2 4-1 4-1 4-1 3-1 4-2 4-1 4-1 3-2 4-1 4-1 4-1 3-2 4-1 4-1 3-2 4-1 4-1 4-2 3-1 4-1 4-2 4-1 3-1 4-2 4-1 3-1 4-1 4-2 4-1 3-1 4-2 4-1 4-1 3-2 4-1 4-1 4-1 3-2 4-1 4-1 3-2 4-1 4-1 4-1 3-1 4-2 4-1 4-1 3-1 4-1 4-2 4-1 3-1 4-1 4-1 3-1 4-1 4-1 4-1 3-1 4-1 4-1 4-1 3-1 4-1 4-1 3-1 4-1 4-1 4-1 3 0 4-1 4-1 4-1 3 0 4-1 4-1 4-1 3 0 4-1 4 0 3-1 4-1 4 0 4-1 3 0 4-1 4 0 4 0 3-1 4 0 4-1 4 0 3 0 4 0 4-1 3 0 4 0 4 0 4 0 3-1 4 0 4 0 4 0 3 0 4 0 4 0 3 0 4 1 4 0 4 0 3 0 4 0 4 0 4 1 3 0 4 0 4 1 4 0 3 0 4 1 4 0 3 1 4 0 4 1 4 0 3 1 4 0 4 1 4 1 3 0 4 1 4 1 4 1 3 0 4 1 4 1 3 1 4 1 4 1 4 1 3 1 4 0 4 1 4 1 3 2 4 1 4 1 3 1 4 1 4 1 4 1 3 1 4 2 4 1 4 1 3 1 4 2 4 1 4 1 3 2 4 1 4 1 3 2 4 1 4 2 4 1 3 1 4 2 4 1 4 2 3 1 4 2 4 2 4 1 3 2 4 1 4 2 3 1 4 2 4 2 4 1 3 2 4 2 4 1 4 2 3 2 4 1 4 2 3 2 4 1 4 2 4 2 3 2 4 1 4 2 4 2 3 2 4 1 4 2 4 2 3 2 4 2 4 1 3 2 4 2 4 2 4 1 3 2 4 2 4 2 4 2 3 1 4 2 4 2 4 2 3 2 4 1 4 2 3 2 4 2 4 1 4 2 3 2 4 2 4 1 4 2 3 2 4 2 4 1 3 2 4 2 4 2 4 1 3 2 4 2 4 1 4 2 3 2 4 1 4 2 4 2 3 1 4 2 4 2 3 1 4 2 4 1 4 2 3 2 4 1 4 2 4 1 3 2 4 1 4 2 4 1 3 2 4 1 4 2 3 1 4 2 4 1 4 2 3 1 4 1 4 2 4 1 3 1 4 2 4 1 3 2 4 1 4 1 4 1 3 2 4 1 4 1 4 1 3 2 4 1 4 1 4 1 3 2 4 1 4 1 3 1 4 1 4 1 4 1 3 1 4 2 4 1 4 1 3 1 4 1 4 1 3 1"/>
<line x1="402.7" y1="828.7" x2="645.3" y2="828.7" stroke="#c47080" stroke-width="0.8" />
<path transform="scale(.1)" fill="none" stroke="#c47080" stroke-width="7"  d="M4028 8247l3-1 4 0 4-1 4-1 3 0 4-1 4-1 3-1 4 0 4-1 4-1 3-1 4 0 4-1 4-1 3-1 4 0 4-1 4-1 3-1 4 0 4-1 3-1 4-1 4-1 4-1 3 0 4-1 4-1 4-1 3-1 4-1 4-1 4 0 3-1 4-1 4-1 3-1 4-1 4-1 4-1 3-1 4-1 4-1 4-1 3 0 4-1 4-1 3-1 4-1 4-1 4-1 3-1 4-1 4-1 4-1 3-1 4-1 4-1 4-1 3-1 4-1 4-1 3-1 4-1 4-1 4-1 3-1 4-1 4-1 4-1 3-1 4-1 4-1 4-1 3-1 4-1 4-1 3-1 4-1 4-1 4-1 3-1 4-1 4-1 4-1 3-1 4-1 4-1 3-1 4-1 4-1 4-1 3-1 4-1 4-1 4-1 3-1 4-1 4-1 4-1 3-1 4-1 4-1 3 0 4-1 4-1 4-1 3-1 4-1 4-1 4-1 3-1 4 0 4-1 4-1 3-1 4-1 4 0 3-1 4-1 4-1 4-1 3 0 4-1 4-1 4-1 3 0 4-1 4-1 3 0 4-1 4-1 4 0 3-1 4-1 4 0 4-1 3 0 4-1 4-1 4 0 3-1 4 0 4-1 3 0 4-1 4 0 4 0 3-1 4 0 4-1 4 0 3-1 4 0 4 0 4-1 3 0 4 0 4 0 3-1 4 0 4 0 4 0 3-1 4 0 4 0 4 0 3 0 4 0 4-1 3 0 4 0 4 0 4 0 3 0 4 0 4 0 4 0 3 0 4 0 4 0 4 0 3 0 4 1 4 0 3 0 4 0 4 0 4 0 3 1 4 0 4 0 4 0 3 1 4 0 4 0 4 0 3 1 4 0 4 0 3 1 4 0 4 1 4 0 3 0 4 1 4 0 4 1 3 0 4 1 4 0 3 1 4 0 4 1 4 1 3 0 4 1 4 0 4 1 3 1 4 0 4 1 4 1 3 0 4 1 4 1 3 0 4 1 4 1 4 1 3 0 4 1 4 1 4 1 3 0 4 1 4 1 4 1 3 1 4 1 4 0 3 1 4 1 4 1 4 1 3 1 4 1 4 1 4 0 3 1 4 1 4 1 3 1 4 1 4 1 4 1 3 1 4 1 4 1 4 1 3 1 4 1 4 1 4 1 3 1 4 1 4 1 3 1 4 1 4 1 4 1 3 1 4 1 4 1 4 1 3 1 4 1 4 1 4 1 3 1 4 1 4 1 3 1 4 1 4 1 4 1 3 1 4 1 4 1 4 1 3 1 4 1 4 1 3 1 4 1 4 1 4 1 3 1 4 1 4 1 4 1 3 1 4 1 4 1 4 1 3 0 4 1 4 1 3 1 4 1 4 1 4 1 3 1 4 1 4 1 4 1 3 1 4 1 4 1 4 0 3 1 4 1 4 1 3 1 4 1 4 1 4 0 3 1 4 1 4 1 4 1 3 1 4 0 4 1 3 1 4 1 4 1 4 0 3 1 4 1 4 1 4 0 3 1 4 1 4 1 4 0 3 1 4 1 4 0 3 1 4 1 4 1 4 0 3 1 4 0 4 1 4 1 3 0 4 1 4 1 4 0 3 1 4 0 4 1 3 1 4 0 4 1 4 0 3 1 4 1 4 0 4 1 3 0 4 1 4 0 3 1 4 0 4 1 4 0 3 1 4 0 4 1 4 0 3 0 4 1 4 0 4 1 3 0 4 1 4 0 3 0 4 1 4 0 4 1 3 0 4 0 4 1 4 0 3 1 4 0 4 0 4 1 3 0 4 0 4 1 3 0 4 0 4 1 4 0 3 0 4 0 4 1 4 0 3 0 4 1 4 0 3 0 4 0 4 1 4 0 3 0 4 0 4 1 4 0 3 0 4 0 4 1 4 0 3 0 4 0 4 0 3 1 4 0 4 0 4 0 3 0 4 1 4 0 4 0 3 0 4 0 4 0 4 1 3 0 4 0 4 0 3 0 4 0 4 0 4 1 3 0 4 0 4 0 4 0 3 0 4 0 4 0 3 1 4 0 4 0 4 0 3 0 4 0 4 0 4 0 3 0 4 1 4 0 4 0 3 0 4 0 4 0 3 0 4 0 4 0 4 0 3 0 4 0 4 1 4 0 3 0 4 0 4 0 4 0 3 0 4 0 4 0 3 0 4 0 4 0 4 0 3 0 4 0 4 0 4 0 3 0 4 1 4 0 3 0 4 0 4 0 4 0 3 0 4 0 4 0 4 0 3 0 4 0 4 0 4 0 3 0 4 0 4 0 3 0 4 0 4 0 4 0 3 0 4 0 4 0 4 0 3 0 4 0 4 0 4 0 3 0 4 0 4 0 3 0 4 0 4 0 4 1 3 0 4 0 4 0 4 0 3 0 4 0 4 0 3 0 4 0 4 0 4 0 3 0 4 0 4 0 4 0 3 0 4 0 4 0 4 0 3 0 4 0 4 0 3 0 4 0 4 0 4 0 3 0 4 0 4 0 4 0 3 0 4 0 4 0 4 0 3 0 4 0 4 0 3 0 4 0 4 0 4 0 3 0 4 0 4 0 4 0 3 0 4 0 4 0 3 0 4 0 4 0 4 0 3 0 4 0 4 0 4 0 3 0 4 0 4 0 4 0 3 0 4 0 4 0 3 0 4 0 4 0 4 0 3 0 4 0 4 0 4 0 3 0 4 0 4 0 4 0 3 0 4 0 4 0 3 0 4 0 4 0 4 0 3 0 4 0 4 0 4 0 3 0 4 0 4 0 3 0 4 0 4 0 4 0 3 0 4 0 4 0 4 0 3 0 4 0 4 0 4 0 3 0 4 0 4 0 3 0 4 0 4 0 4 0 3 0 4 0 4 0 4 0 3 0 4 0 4 0 3 0"/>
<path transform="scale(.1)" fill="none" stroke="#c47080" stroke-width="7"  d="M4028 8287l3 0 4 0 4 0 4 0 3 0 4 0 4 0 3 0 4 0 4 0 4 0 3 0 4 0 4 0 4 0 3 0 4 0 4 0 4 0 3 0 4 0 4 0 3 0 4 0 4 0 4 0 3 0 4 0 4 0 4 0 3 0 4 0 4 0 4 0 3 0 4 0 4 0 3 0 4 0 4 0 4 0 3 0 4 0 4 0 4 0 3 0 4 0 4 0 3 0 4 0 4 0 4 0 3 0 4 0 4 0 4 0 3 0 4 0 4 0 4 0 3 0 4 0 4 0 3-1 4 0 4 0 4 0 3 0 4 0 4 0 4 0 3 0 4 0 4 0 4 0 3 0 4 0 4 0 3 0 4 0 4 0 4 0 3 0 4 0 4 0 4 0 3 0 4 0 4 0 3 0 4 0 4 0 4 0 3 0 4 0 4 0 4 0 3 0 4-1 4 0 4 0 3 0 4 0 4 0 3 0 4 0 4 0 4 0 3 0 4 0 4 0 4 0 3 0 4 0 4 0 4-1 3 0 4 0 4 0 3 0 4 0 4 0 4 0 3 0 4 0 4 0 4 0 3-1 4 0 4 0 3 0 4 0 4 0 4 0 3 0 4 0 4 0 4-1 3 0 4 0 4 0 4 0 3 0 4 0 4-1 3 0 4 0 4 0 4 0 3 0 4 0 4-1 4 0 3 0 4 0 4 0 4 0 3-1 4 0 4 0 3 0 4 0 4-1 4 0 3 0 4 0 4-1 4 0 3 0 4 0 4-1 3 0 4 0 4 0 4-1 3 0 4 0 4 0 4-1 3 0 4 0 4-1 4 0 3 0 4-1 4 0 3 0 4-1 4 0 4 0 3-1 4 0 4 0 4-1 3 0 4-1 4 0 4 0 3-1 4 0 4-1 3 0 4-1 4 0 4 0 3-1 4 0 4-1 4 0 3-1 4 0 4-1 3 0 4-1 4 0 4-1 3-1 4 0 4-1 4 0 3-1 4-1 4 0 4-1 3 0 4-1 4-1 3 0 4-1 4-1 4 0 3-1 4-1 4-1 4 0 3-1 4-1 4-1 4 0 3-1 4-1 4-1 3 0 4-1 4-1 4-1 3-1 4-1 4-1 4 0 3-1 4-1 4-1 3-1 4-1 4-1 4-1 3-1 4-1 4-1 4-1 3-1 4-1 4-1 4-1 3-1 4-1 4-1 3-1 4-1 4-1 4-2 3-1 4-1 4-1 4-1 3-1 4-1 4-2 4-1 3-1 4-1 4-1 3-2 4-1 4-1 4-1 3-2 4-1 4-1 4-2 3-1 4-1 4-2 3-1 4-1 4-2 4-1 3-1 4-2 4-1 4-2 3-1 4-1 4-2 4-1 3-2 4-1 4-2 3-1 4-2 4-1 4-2 3-1 4-2 4-1 4-2 3-1 4-2 4-1 4-2 3-1 4-2 4-1 3-2 4-1 4-2 4-1 3-2 4-1 4-2 4-2 3-1 4-2 4-1 3-2 4-1 4-2 4-2 3-1 4-2 4-1 4-2 3-1 4-2 4-1 4-2 3-2 4-1 4-2 3-1 4-2 4-1 4-2 3-1 4-2 4-2 4-1 3-2 4-1 4-2 4-1 3-2 4-1 4-2 3-1 4-1 4-2 4-1 3-2 4-1 4-2 4-1 3-1 4-2 4-1 3-2 4-1 4-1 4-2 3-1 4-1 4-2 4-1 3-1 4-1 4-2 4-1 3-1 4-1 4-2 3-1 4-1 4-1 4-1 3-1 4-1 4-1 4-1 3-1 4-2 4-1 4-1 3 0 4-1 4-1 3-1 4-1 4-1 4-1 3-1 4-1 4 0 4-1 3-1 4-1 4 0 3-1 4-1 4 0 4-1 3-1 4 0 4-1 4 0 3-1 4 0 4-1 4 0 3-1 4 0 4 0 3-1 4 0 4 0 4-1 3 0 4 0 4 0 4-1 3 0 4 0 4 0 4 0 3 0 4 0 4 0 3 0 4 0 4 0 4 0 3 0 4 0 4 0 4 0 3 1 4 0 4 0 3 0 4 1 4 0 4 0 3 1 4 0 4 0 4 1 3 0 4 1 4 0 4 1 3 0 4 1 4 0 3 1 4 1 4 0 4 1 3 1 4 0 4 1 4 1 3 1 4 0 4 1 4 1 3 1 4 1 4 1 3 1 4 0 4 1 4 1 3 1 4 1 4 1 4 1 3 1 4 2 4 1 3 1 4 1 4 1 4 1 3 1 4 2 4 1 4 1 3 1 4 1 4 2 4 1 3 1 4 2 4 1 3 1 4 2 4 1 4 1 3 2 4 1 4 1 4 2 3 1 4 2 4 1 4 1 3 2 4 1 4 2 3 1 4 2 4 1 4 2 3 1 4 2 4 1 4 2 3 1 4 2 4 1 3 2 4 1 4 2 4 2 3 1 4 2 4 1 4 2 3 1 4 2 4 1 4 2 3 2 4 1 4 2 3 1 4 2 4 1 4 2 3 2 4 1 4 2 4 1 3 2 4 1 4 2 4 2 3 1 4 2 4 1 3 2 4 1 4 2 4 1 3 2 4 1 4 2 4 1 3 2 4 1 4 2 3 1 4 2 4 1 4 2 3 1 4 2 4 1 4 2 3 1 4 1 4 2 4 1 3 2 4 1 4 1 3 2 4 1 4 2 4 1 3 1 4 2 4 1 4 1 3 2 4 1 4 1 4 1 3 2 4 1 4 1 3 1 4 2 4 1 4 1 3 1 4 1 4 2 4 1 3 1 4 1 4 1 3 1 4 1 4 2 4 1 3 1 4 1 4 1 4 1 3 1 4 1 4 1 4 1 3 1 4 1 4 1 3 1 4 1 4 1 4 1 3 1 4 1 4 1 4 0 3 1 4 1 4 1 3 1"/>
<path transform="scale(.1)" fill="none" stroke="#000" stroke-width="11" stroke-linejoin="bevel" d="M4028 8231l3 33 4-65 4 23 4 11 3-15 4 4 4 46 3-39 4 6 4-31 4 25 3 27 4-62 4 38 4 18 3 9 4-40 4-289 4 303 3-8 4 50 4-347 3 351 4-55 4 6 4-2 3 4 4-23 4-77 4 73 3 13 4 1 4-44 4 78 3-35 4-32 4 51 3-51 4 51 4-21 4 13 3-18 4-49 4 55 4-245 3 246 4-35 4 10 3 24 4-30 4 36 4-16 3-16 4 8 4-27 4 29 3 8 4-35 4 13 4-9 3-47 4 40 4 18 3-1 4 23 4-26 4 21 3-42 4 24 4 26 4-39 3-21 4 10 4 4 4-26 3 51 4-23 4 9 3-17 4 38 4-52 4 33 3-30 4-10 4 21 4-44 3 68 4-6 4 2 3-12 4-25 4-14 4 26 3 13 4-2 4 28 4-42 3 38 4-62 4 49 4-72 3 97 4-73 4 59 3-392 4 363 4-25 4-26 3 8 4 62 4-64 4 65 3-22 4-52 4 63 4-15 3-17 4 30 4-43 3 51 4-67 4 19 4 7 3-31 4 54 4-38 4 2 3 9 4-7 4 15 3 21 4 12 4-61 4-7 3 21 4 4 4 26 4-72 3 47 4-27 4 0 4 35 3-23 4-14 4 22 3-143 4 123 4 70 4-68 3 14 4-4 4 34 4-20 3-9 4 7 4-17 4 18 3-10 4-1 4-50 3 46 4 37 4-7 4-47 3-5 4 28 4 5 4-29 3 54 4-55 4 5 3-2 4 53 4-54 4-13 3 27 4 11 4 7 4-21 3-20 4 10 4-5 4-20 3 42 4 24 4-4 3-28 4-5 4-2 4-34 3 56 4-17 4 36 4-4 3-5 4-20 4-64 4 50 3-5 4 41 4-21 3 10 4-43 4 25 4-27 3 48 4-25 4-13 4-25 3-6 4 66 4-52 3 34 4-3 4 4 4-10 3 49 4-55 4 23 4-17 3-29 4 37 4 6 4-4 3-6 4-21 4 21 3-11 4 26 4 9 4-10 3 1 4-29 4 1 4-4 3 9 4 18 4 14 4-49 3 1 4 62 4-93 3 70 4-323 4 331 4-33 3 6 4-18 4 17 4 22 3-53 4 75 4-28 3 29 4-61 4 18 4 12 3-45 4 20 4 24 4-6 3-6 4 6 4-26 4 12 3 7 4-9 4 22 3-29 4-11 4 19 4 19 3-9 4 13 4-41 4 0 3 37 4-16 4 20 4-16 3 15 4-45 4 49 3-45 4 39 4-23 4 12 3 11 4 3 4-22 4-11 3 4 4-2 4 18 3-31 4 31 4-3 4 0 3-11 4 44 4-50 4 6 3-8 4-67 4 75 4 32 3-6 4-38 4 23 3-21 4 3 4 15 4 40 3-24 4-7 4-22 4 22 3-22 4-41 4 63 4 24 3 0 4-49 4 12 3-61 4 80 4 14 4-39 3-21 4-23 4-7 4 17 3 25 4 7 4 8 3-29 4 9 4 28 4-21 3 18 4-36 4-2 4-6 3 37 4-8 4-276 4 298 3-26 4-8 4-10 3 17 4-52 4 18 4 29 3 3 4-11 4-20 4-6 3-1 4 5 4 1 4 32 3-14 4-14 4-9 3 37 4-47 4-8 4 64 3 2 4-14 4-7 4-255 3 206 4-3 4 34 3 7 4-52 4 18 4 7 3 18 4 3 4-28 4 13 3 2 4 2 4-20 4-9 3 7 4 11 4 42 3-51 4 10 4 46 4-36 3 11 4-24 4-1 4-16 3-29 4 78 4-59 4 50 3-50 4 18 4 3 3 78 4-86 4-8 4 12 3-15 4-21 4 32 4-5 3 9 4 25 4-58 3 8 4 34 4-2 4-28 3 13 4 24 4-5 4-50 3 45 4-6 4-18 4-5 3-3 4 28 4-3 3-8 4 21 4-66 4 50 3-30 4 43 4-2 4-1 3 0 4 20 4-19 4-27 3-18 4 6 4-2 3-14 4 34 4-19 4-3 3-123 4 149 4-19 4-16 3 62 4-59 4 46 3 15 4-4 4 24 4-37 3-5 4-31 4 16 4-16 3-22 4 15 4 50 4 7 3-18 4 6 4-17 3 24 4 7 4-40 4 15 3-18 4 0 4 46 4-36 3 9 4-1 4 0 4 32 3-2 4 16 4 7 3-10 4 18 4-56 4 12 3 9 4-15 4 59 4-88 3 72 4-27 4 5 3 16 4-25 4 20 4-24 3-1 4 27 4-47 4 26 3 31 4 4 4-29 4 75 3-32 4-26 4-9 3 13 4 2 4 24 4 4 3-59 4 47 4-13 4 11 3-34 4 78 4-41 4 18 3-12 4-12 4 33 3-51 4 43 4-29 4 22 3-3 4-15 4 20 4-10 3 13 4-9 4 40 3 1 4-32 4 10 4 4 3 9 4 28 4-47 4-2 3 25 4 30 4-1 4-47 3 24 4-7 4 15 3-28 4 16 4 31 4 16 3-23 4 11 4 3 4-50 3 3 4 14 4 11 4-49 3 72 4-18 4 14 3 12 4-46 4 30 4 16 3 4 4-13 4 9 4 18 3-9 4-24 4 42 3-19 4-64 4 45 4 22 3-15 4 13 4 0 4-29 3 21 4-9 4 26 4-1 3-21 4-17 4 24 3 23 4-30 4 11 4 20 3 4 4-11 4 33 4-21 3 28 4-61 4 21 4-5 3 38 4-40 4 7 3 30 4-42 4 31 4-5 3-296 4 320 4-10 4-3 3-3 4 10 4-21 3 31 4 16 4-33 4 13 3-12 4-33 4 16 4 0 3 24 4-293 4 302 4-6 3-10 4-4 4 16 3 20 4-36 4 62 4-26 3-17 4-35 4 24 4-19 3 28 4 41 4-24 3 13"/>
<path transform="scale(.1)" fill="none" stroke="#cc2020" stroke-width="8" stroke-dasharray="16,16" d="M4028 8247l3-1 4 0 4-1 4-1 3-1 4 0 4-1 3-1 4 0 4-1 4-1 3-1 4 0 4-1 4-1 3-1 4 0 4-1 4-1 3-1 4-1 4 0 3-1 4-1 4-1 4-1 3-1 4 0 4-1 4-1 3-1 4-1 4-1 4-1 3-1 4 0 4-1 3-1 4-1 4-1 4-1 3-1 4-1 4-1 4-1 3-1 4-1 4-1 3-1 4-1 4-1 4-1 3-1 4-1 4-1 4-1 3-1 4-1 4-1 4-1 3-1 4-1 4-1 3-1 4-1 4-1 4-1 3-1 4-1 4-1 4-1 3-1 4-1 4-1 4-1 3-1 4-1 4-1 3-1 4-1 4-1 4-1 3-1 4-1 4-1 4-1 3-1 4-1 4-1 3-1 4-1 4-1 4-1 3-1 4-1 4-1 4-1 3-1 4-1 4-1 4-1 3-1 4-1 4-1 3-1 4-1 4-1 4-1 3-1 4-1 4-1 4-1 3-1 4-1 4-1 4-1 3 0 4-1 4-1 3-1 4-1 4-1 4-1 3 0 4-1 4-1 4-1 3-1 4-1 4 0 3-1 4-1 4-1 4 0 3-1 4-1 4-1 4 0 3-1 4-1 4 0 4-1 3-1 4 0 4-1 3-1 4 0 4-1 4-1 3 0 4-1 4 0 4-1 3 0 4-1 4-1 4 0 3-1 4 0 4-1 3 0 4 0 4-1 4 0 3-1 4 0 4-1 4 0 3 0 4-1 4 0 3 0 4-1 4 0 4 0 3-1 4 0 4 0 4-1 3 0 4 0 4 0 4-1 3 0 4 0 4 0 3 0 4-1 4 0 4 0 3 0 4 0 4 0 4 0 3-1 4 0 4 0 4 0 3 0 4 0 4 0 3 0 4 0 4 0 4 0 3 0 4 0 4 0 4-1 3 0 4 0 4 0 3 0 4 0 4 0 4 1 3 0 4 0 4 0 4 0 3 0 4 0 4 0 4 0 3 0 4 0 4 0 3 0 4 0 4 0 4 0 3 0 4 0 4 0 4 0 3 0 4 0 4 1 4 0 3 0 4 0 4 0 3 0 4 0 4 0 4 0 3 0 4 0 4 0 4 0 3 0 4 0 4 0 3 0 4 0 4 0 4 0 3 0 4 0 4 0 4 0 3 0 4 0 4 0 4 0 3 0 4 0 4 0 3-1 4 0 4 0 4 0 3 0 4 0 4 0 4 0 3-1 4 0 4 0 4 0 3 0 4-1 4 0 3 0 4 0 4 0 4-1 3 0 4 0 4-1 4 0 3 0 4-1 4 0 3 0 4-1 4 0 4 0 3-1 4 0 4-1 4 0 3 0 4-1 4 0 4-1 3 0 4-1 4 0 3-1 4 0 4-1 4 0 3-1 4-1 4 0 4-1 3 0 4-1 4-1 4 0 3-1 4 0 4-1 3-1 4 0 4-1 4-1 3-1 4 0 4-1 4-1 3-1 4 0 4-1 3-1 4-1 4 0 4-1 3-1 4-1 4-1 4 0 3-1 4-1 4-1 4-1 3-1 4 0 4-1 3-1 4-1 4-1 4-1 3-1 4 0 4-1 4-1 3-1 4-1 4-1 4-1 3-1 4-1 4 0 3-1 4-1 4-1 4-1 3-1 4-1 4-1 4-1 3 0 4-1 4-1 3-1 4-1 4-1 4-1 3 0 4-1 4-1 4-1 3-1 4 0 4-1 4-1 3-1 4-1 4 0 3-1 4-1 4-1 4 0 3-1 4-1 4-1 4 0 3-1 4-1 4 0 4-1 3-1 4 0 4-1 3 0 4-1 4 0 4-1 3-1 4 0 4-1 4 0 3-1 4 0 4 0 3-1 4 0 4-1 4 0 3 0 4-1 4 0 4 0 3-1 4 0 4 0 4 0 3-1 4 0 4 0 3 0 4 0 4 0 4-1 3 0 4 0 4 0 4 0 3 0 4 0 4 0 4 0 3 1 4 0 4 0 3 0 4 0 4 0 4 0 3 1 4 0 4 0 4 0 3 1 4 0 4 0 3 1 4 0 4 1 4 0 3 1 4 0 4 1 4 0 3 1 4 0 4 1 4 0 3 1 4 1 4 0 3 1 4 1 4 0 4 1 3 1 4 1 4 1 4 0 3 1 4 1 4 1 4 1 3 1 4 1 4 1 3 1 4 1 4 1 4 1 3 1 4 1 4 1 4 1 3 1 4 1 4 1 3 1 4 2 4 1 4 1 3 1 4 1 4 2 4 1 3 1 4 1 4 2 4 1 3 1 4 2 4 1 3 1 4 2 4 1 4 1 3 2 4 1 4 2 4 1 3 2 4 1 4 1 4 2 3 1 4 2 4 1 3 2 4 1 4 2 4 1 3 2 4 1 4 2 4 1 3 2 4 1 4 2 3 2 4 1 4 2 4 1 3 2 4 1 4 2 4 1 3 2 4 2 4 1 4 2 3 1 4 2 4 2 3 1 4 2 4 1 4 2 3 1 4 2 4 2 4 1 3 2 4 1 4 2 4 1 3 2 4 1 4 2 3 2 4 1 4 2 4 1 3 2 4 1 4 2 4 1 3 2 4 1 4 2 3 1 4 2 4 1 4 2 3 1 4 2 4 1 4 1 3 2 4 1 4 2 4 1 3 2 4 1 4 1 3 2 4 1 4 1 4 2 3 1 4 2 4 1 4 1 3 1 4 2 4 1 4 1 3 2 4 1 4 1 3 1 4 2 4 1 4 1 3 1 4 1 4 2 4 1 3 1 4 1 4 1 3 1 4 1 4 2 4 1 3 1 4 1 4 1 4 1 3 1 4 1 4 1 4 1 3 1 4 1 4 1 3 1 4 1 4 1 4 1 3 1 4 1 4 1 4 0 3 1 4 1 4 1 3 1"/>
</g>
<rect x="402.7" y="594.8" width="242.6" height="234.8" stroke="#9a9a9a" stroke-width="1.2" fill="none" />
<line x1="402.7" y1="641.5" x2="405.9" y2="641.5" stroke="#555" stroke-width="0.6" />
<line x1="402.7" y1="634.9" x2="404.7" y2="634.9" stroke="#555" stroke-width="0.6" />
<line x1="402.7" y1="628.2" x2="405.9" y2="628.2" stroke="#555" stroke-width="0.6" />
<line x1="402.7" y1="621.5" x2="404.7" y2="621.5" stroke="#555" stroke-width="0.6" />
<line x1="402.7" y1="614.9" x2="405.9" y2="614.9" stroke="#555" stroke-width="0.6" />
<line x1="402.7" y1="608.2" x2="404.7" y2="608.2" stroke="#555" stroke-width="0.6" />
<line x1="402.7" y1="601.6" x2="405.9" y2="601.6" stroke="#555" stroke-width="0.6" />
<text x="400.3" y="643.5" font-size="5.6" text-anchor="end" fill="#222" textLength="2.9" lengthAdjust="spacingAndGlyphs">0</text>
<text x="406.8" y="602.6" font-size="6.2" fill="#222" textLength="23" lengthAdjust="spacingAndGlyphs" font-weight="bold">8.7 GPa</text>
<line x1="402.7" y1="688.9" x2="405.9" y2="688.9" stroke="#555" stroke-width="0.6" />
<line x1="402.7" y1="682.2" x2="404.7" y2="682.2" stroke="#555" stroke-width="0.6" />
<line x1="402.7" y1="675.6" x2="405.9" y2="675.6" stroke="#555" stroke-width="0.6" />
<line x1="402.7" y1="668.9" x2="404.7" y2="668.9" stroke="#555" stroke-width="0.6" />
<line x1="402.7" y1="662.3" x2="405.9" y2="662.3" stroke="#555" stroke-width="0.6" />
<line x1="402.7" y1="655.6" x2="404.7" y2="655.6" stroke="#555" stroke-width="0.6" />
<line x1="402.7" y1="649" x2="405.9" y2="649" stroke="#555" stroke-width="0.6" />
<line x1="402.7" y1="642.4" x2="404.7" y2="642.4" stroke="#555" stroke-width="0.6" />
<text x="400.3" y="690.9" font-size="5.6" text-anchor="end" fill="#222" textLength="2.9" lengthAdjust="spacingAndGlyphs">0</text>
<text x="400.3" y="677.6" font-size="5.6" text-anchor="end" fill="#222" textLength="5.9" lengthAdjust="spacingAndGlyphs">10</text>
<text x="400.3" y="664.3" font-size="5.6" text-anchor="end" fill="#222" textLength="5.9" lengthAdjust="spacingAndGlyphs">20</text>
<text x="400.3" y="651" font-size="5.6" text-anchor="end" fill="#222" textLength="5.9" lengthAdjust="spacingAndGlyphs">30</text>
<text x="406.8" y="650" font-size="6.2" fill="#222" textLength="23" lengthAdjust="spacingAndGlyphs" font-weight="bold">7.3 GPa</text>
<line x1="402.7" y1="734.8" x2="405.9" y2="734.8" stroke="#555" stroke-width="0.6" />
<line x1="402.7" y1="728.1" x2="404.7" y2="728.1" stroke="#555" stroke-width="0.6" />
<line x1="402.7" y1="721.5" x2="405.9" y2="721.5" stroke="#555" stroke-width="0.6" />
<line x1="402.7" y1="714.8" x2="404.7" y2="714.8" stroke="#555" stroke-width="0.6" />
<line x1="402.7" y1="708.2" x2="405.9" y2="708.2" stroke="#555" stroke-width="0.6" />
<line x1="402.7" y1="701.5" x2="404.7" y2="701.5" stroke="#555" stroke-width="0.6" />
<line x1="402.7" y1="694.9" x2="405.9" y2="694.9" stroke="#555" stroke-width="0.6" />
<line x1="402.7" y1="688.2" x2="404.7" y2="688.2" stroke="#555" stroke-width="0.6" />
<text x="400.3" y="736.8" font-size="5.6" text-anchor="end" fill="#222" textLength="2.9" lengthAdjust="spacingAndGlyphs">0</text>
<text x="400.3" y="723.5" font-size="5.6" text-anchor="end" fill="#222" textLength="5.9" lengthAdjust="spacingAndGlyphs">10</text>
<text x="400.3" y="710.2" font-size="5.6" text-anchor="end" fill="#222" textLength="5.9" lengthAdjust="spacingAndGlyphs">20</text>
<text x="400.3" y="696.9" font-size="5.6" text-anchor="end" fill="#222" textLength="5.9" lengthAdjust="spacingAndGlyphs">30</text>
<text x="406.8" y="695.9" font-size="6.2" fill="#222" textLength="23" lengthAdjust="spacingAndGlyphs" font-weight="bold">6.4 GPa</text>
<line x1="402.7" y1="782" x2="405.9" y2="782" stroke="#555" stroke-width="0.6" />
<line x1="402.7" y1="775.4" x2="404.7" y2="775.4" stroke="#555" stroke-width="0.6" />
<line x1="402.7" y1="768.7" x2="405.9" y2="768.7" stroke="#555" stroke-width="0.6" />
<line x1="402.7" y1="762" x2="404.7" y2="762" stroke="#555" stroke-width="0.6" />
<line x1="402.7" y1="755.4" x2="405.9" y2="755.4" stroke="#555" stroke-width="0.6" />
<line x1="402.7" y1="748.8" x2="404.7" y2="748.8" stroke="#555" stroke-width="0.6" />
<line x1="402.7" y1="742.1" x2="405.9" y2="742.1" stroke="#555" stroke-width="0.6" />
<line x1="402.7" y1="735.5" x2="404.7" y2="735.5" stroke="#555" stroke-width="0.6" />
<text x="400.3" y="784" font-size="5.6" text-anchor="end" fill="#222" textLength="2.9" lengthAdjust="spacingAndGlyphs">0</text>
<text x="400.3" y="770.7" font-size="5.6" text-anchor="end" fill="#222" textLength="5.9" lengthAdjust="spacingAndGlyphs">10</text>
<text x="400.3" y="757.4" font-size="5.6" text-anchor="end" fill="#222" textLength="5.9" lengthAdjust="spacingAndGlyphs">20</text>
<text x="400.3" y="744.1" font-size="5.6" text-anchor="end" fill="#222" textLength="5.9" lengthAdjust="spacingAndGlyphs">30</text>
<text x="406.8" y="743.1" font-size="6.2" fill="#222" textLength="23" lengthAdjust="spacingAndGlyphs" font-weight="bold">5.0 GPa</text>
<line x1="402.7" y1="828.7" x2="405.9" y2="828.7" stroke="#555" stroke-width="0.6" />
<line x1="402.7" y1="822.1" x2="404.7" y2="822.1" stroke="#555" stroke-width="0.6" />
<line x1="402.7" y1="815.4" x2="405.9" y2="815.4" stroke="#555" stroke-width="0.6" />
<line x1="402.7" y1="808.8" x2="404.7" y2="808.8" stroke="#555" stroke-width="0.6" />
<line x1="402.7" y1="802.1" x2="405.9" y2="802.1" stroke="#555" stroke-width="0.6" />
<line x1="402.7" y1="795.5" x2="404.7" y2="795.5" stroke="#555" stroke-width="0.6" />
<line x1="402.7" y1="788.8" x2="405.9" y2="788.8" stroke="#555" stroke-width="0.6" />
<line x1="402.7" y1="782.2" x2="404.7" y2="782.2" stroke="#555" stroke-width="0.6" />
<text x="400.3" y="830.7" font-size="5.6" text-anchor="end" fill="#222" textLength="2.9" lengthAdjust="spacingAndGlyphs">0</text>
<text x="400.3" y="817.4" font-size="5.6" text-anchor="end" fill="#222" textLength="5.9" lengthAdjust="spacingAndGlyphs">10</text>
<text x="400.3" y="804.1" font-size="5.6" text-anchor="end" fill="#222" textLength="5.9" lengthAdjust="spacingAndGlyphs">20</text>
<text x="400.3" y="790.8" font-size="5.6" text-anchor="end" fill="#222" textLength="5.9" lengthAdjust="spacingAndGlyphs">30</text>
<text x="406.8" y="789.8" font-size="6.2" fill="#222" textLength="23" lengthAdjust="spacingAndGlyphs" font-weight="bold">4.5 GPa</text>
<line x1="410.9" y1="829.6" x2="410.9" y2="831.4" stroke="#666" stroke-width="0.6" />
<text x="410.9" y="838.8" font-size="7.4" text-anchor="middle" fill="#222" textLength="9.4" lengthAdjust="spacingAndGlyphs" font-weight="bold">3.2</text>
<line x1="441.9" y1="829.6" x2="441.9" y2="831.4" stroke="#666" stroke-width="0.6" />
<text x="441.9" y="838.8" font-size="7.4" text-anchor="middle" fill="#222" textLength="9.4" lengthAdjust="spacingAndGlyphs" font-weight="bold">3.6</text>
<line x1="472.9" y1="829.6" x2="472.9" y2="831.4" stroke="#666" stroke-width="0.6" />
<text x="472.9" y="838.8" font-size="7.4" text-anchor="middle" fill="#222" textLength="9.4" lengthAdjust="spacingAndGlyphs" font-weight="bold">4.0</text>
<line x1="503.9" y1="829.6" x2="503.9" y2="831.4" stroke="#666" stroke-width="0.6" />
<text x="503.9" y="838.8" font-size="7.4" text-anchor="middle" fill="#222" textLength="9.4" lengthAdjust="spacingAndGlyphs" font-weight="bold">4.4</text>
<line x1="534.9" y1="829.6" x2="534.9" y2="831.4" stroke="#666" stroke-width="0.6" />
<text x="534.9" y="838.8" font-size="7.4" text-anchor="middle" fill="#222" textLength="9.4" lengthAdjust="spacingAndGlyphs" font-weight="bold">4.8</text>
<line x1="565.9" y1="829.6" x2="565.9" y2="831.4" stroke="#666" stroke-width="0.6" />
<text x="565.9" y="838.8" font-size="7.4" text-anchor="middle" fill="#222" textLength="9.4" lengthAdjust="spacingAndGlyphs" font-weight="bold">5.2</text>
<line x1="596.9" y1="829.6" x2="596.9" y2="831.4" stroke="#666" stroke-width="0.6" />
<text x="596.9" y="838.8" font-size="7.4" text-anchor="middle" fill="#222" textLength="9.4" lengthAdjust="spacingAndGlyphs" font-weight="bold">5.6</text>
<line x1="627.9" y1="829.6" x2="627.9" y2="831.4" stroke="#666" stroke-width="0.6" />
<text x="627.9" y="838.8" font-size="7.4" text-anchor="middle" fill="#222" textLength="9.4" lengthAdjust="spacingAndGlyphs" font-weight="bold">6.0</text>
<text x="495.5" y="849" font-size="7.9" fill="#222" textLength="43.2" lengthAdjust="spacingAndGlyphs">Eenrgy (eV)</text>
<text x="385" y="716" font-size="8.3" text-anchor="middle" fill="#222" textLength="65" lengthAdjust="spacingAndGlyphs" transform="rotate(-90 385 716)">Intensity (arb. unit)</text>
<rect x="556.5" y="597.1" width="85.8" height="20.1" stroke="#888" stroke-width="0.6" fill="#fff" />
<line x1="557.7" y1="600.9" x2="566.6" y2="600.9" stroke="#000" stroke-width="1.1" />
<line x1="557.7" y1="607.2" x2="566.6" y2="607.2" stroke="#c47080" stroke-width="0.8" />
<line x1="557.7" y1="613.5" x2="566.6" y2="613.5" stroke="#cc2020" stroke-width="0.9" stroke-dasharray="1.4,1.4"/>
<text x="568.9" y="603.1" font-size="6.1" fill="#111" textLength="49" lengthAdjust="spacingAndGlyphs" stroke="#111" stroke-width="0.12">Experimental data</text>
<text x="568.9" y="609.4" font-size="6.1" fill="#111" textLength="51.5" lengthAdjust="spacingAndGlyphs" stroke="#111" stroke-width="0.12">Fitting components</text>
<text x="568.9" y="615.7" font-size="6.1" fill="#111" textLength="72" lengthAdjust="spacingAndGlyphs" stroke="#111" stroke-width="0.12">Convoluted fitting function</text>
<text x="361.2" y="619.3" font-size="38" textLength="15.5" lengthAdjust="spacingAndGlyphs" style='font-family:"Liberation Serif", serif'>f</text>
</g>
</g>
</svg></body></html>
